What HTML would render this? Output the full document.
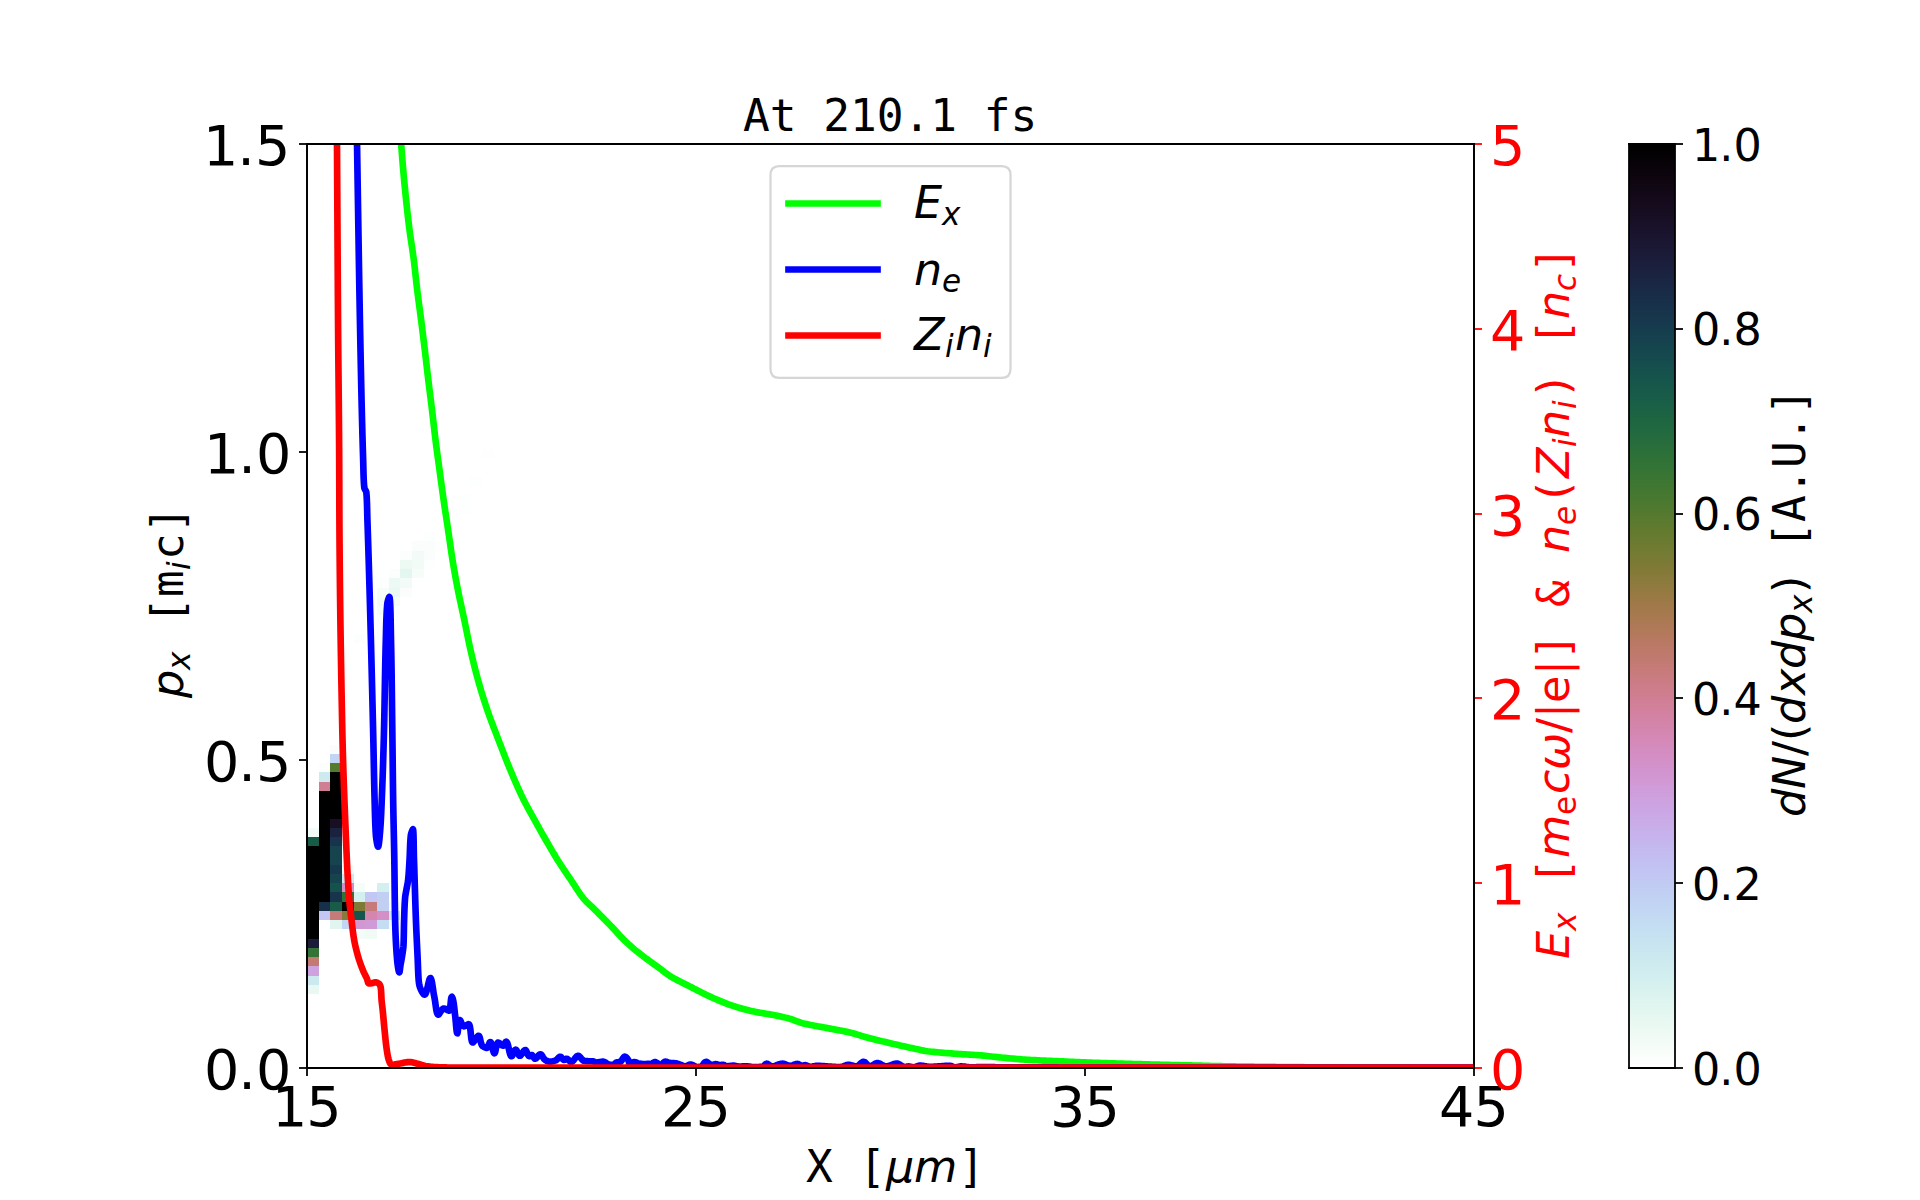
<!DOCTYPE html>
<html lang="en"><head><meta charset="utf-8"><title>At 210.1 fs</title>
<style>html,body{margin:0;padding:0;background:#fff;width:1920px;height:1200px;overflow:hidden}svg{display:block}text{white-space:pre}</style>
</head><body>
<svg width="1920" height="1200" viewBox="0 0 1920 1200">
<g transform="scale(2.2222222)">
<defs>
<style type="text/css">*{stroke-linejoin: round; stroke-linecap: butt}</style>
</defs>
<g id="figure_1">
<g id="patch_1">
<path d="M 0 540 L 864 540 L 864 0 L 0 0 z
" style="fill: #ffffff"/>
</g>
<g id="axes_1">
<g id="patch_2">
<path d="M 138.15 480.6 L 663.3 480.6 L 663.3 64.8 L 138.15 64.8 z
" style="fill: #ffffff"/>
</g>
<g shape-rendering="crispEdges" id="hm34_2">
<path d="M 148.653 339.228 L 153.905 339.228 L 153.905 335.07 L 148.653 335.07 z
" clip-path="url(#pf3e7a543b4)" style="fill: #fafdfb"/>
</g>
<g shape-rendering="crispEdges" id="hm33_2">
<path d="M 148.653 343.386 L 153.905 343.386 L 153.905 339.228 L 148.653 339.228 z
" clip-path="url(#pf3e7a543b4)" style="fill: #c2d6f3"/>
</g>
<g shape-rendering="crispEdges" id="hm32_1">
<path d="M 143.401 347.544 L 148.653 347.544 L 148.653 343.386 L 143.401 343.386 z
" clip-path="url(#pf3e7a543b4)" style="fill: #fbfefc"/>
</g>
<g shape-rendering="crispEdges" id="hm32_2">
<path d="M 148.653 347.544 L 153.905 347.544 L 153.905 343.386 L 148.653 343.386 z
" clip-path="url(#pf3e7a543b4)" style="fill: #54792f"/>
</g>
<g shape-rendering="crispEdges" id="hm31_1">
<path d="M 143.401 351.702 L 148.653 351.702 L 148.653 347.544 L 143.401 347.544 z
" clip-path="url(#pf3e7a543b4)" style="fill: #cdeaef"/>
</g>
<g shape-rendering="crispEdges" id="hm31_2">
<path d="M 148.653 351.702 L 153.905 351.702 L 153.905 347.544 L 148.653 347.544 z
" clip-path="url(#pf3e7a543b4)"/>
</g>
<g shape-rendering="crispEdges" id="hm30_1">
<path d="M 143.401 355.86 L 148.653 355.86 L 148.653 351.702 L 143.401 351.702 z
" clip-path="url(#pf3e7a543b4)" style="fill: #d07e93"/>
</g>
<g shape-rendering="crispEdges" id="hm30_2">
<path d="M 148.653 355.86 L 153.905 355.86 L 153.905 351.702 L 148.653 351.702 z
" clip-path="url(#pf3e7a543b4)"/>
</g>
<g shape-rendering="crispEdges" id="hm29_1">
<path d="M 143.401 360.018 L 148.653 360.018 L 148.653 355.86 L 143.401 355.86 z
" clip-path="url(#pf3e7a543b4)"/>
</g>
<g shape-rendering="crispEdges" id="hm29_2">
<path d="M 148.653 360.018 L 153.905 360.018 L 153.905 355.86 L 148.653 355.86 z
" clip-path="url(#pf3e7a543b4)"/>
</g>
<g shape-rendering="crispEdges" id="hm28_1">
<path d="M 143.401 364.176 L 148.653 364.176 L 148.653 360.018 L 143.401 360.018 z
" clip-path="url(#pf3e7a543b4)"/>
</g>
<g shape-rendering="crispEdges" id="hm28_2">
<path d="M 148.653 364.176 L 153.905 364.176 L 153.905 360.018 L 148.653 360.018 z
" clip-path="url(#pf3e7a543b4)"/>
</g>
<g shape-rendering="crispEdges" id="hm27_1">
<path d="M 143.401 368.334 L 148.653 368.334 L 148.653 364.176 L 143.401 364.176 z
" clip-path="url(#pf3e7a543b4)"/>
</g>
<g shape-rendering="crispEdges" id="hm27_2">
<path d="M 148.653 368.334 L 153.905 368.334 L 153.905 364.176 L 148.653 364.176 z
" clip-path="url(#pf3e7a543b4)"/>
</g>
<g shape-rendering="crispEdges" id="hm26_1">
<path d="M 143.401 372.492 L 148.653 372.492 L 148.653 368.334 L 143.401 368.334 z
" clip-path="url(#pf3e7a543b4)"/>
</g>
<g shape-rendering="crispEdges" id="hm26_2">
<path d="M 148.653 372.492 L 153.905 372.492 L 153.905 368.334 L 148.653 368.334 z
" clip-path="url(#pf3e7a543b4)" style="fill: #180f25"/>
</g>
<g shape-rendering="crispEdges" id="hm25_0">
<path d="M 138.15 376.65 L 143.401 376.65 L 143.401 372.492 L 138.15 372.492 z
" clip-path="url(#pf3e7a543b4)" style="fill: #f4fcf7"/>
</g>
<g shape-rendering="crispEdges" id="hm25_1">
<path d="M 143.401 376.65 L 148.653 376.65 L 148.653 372.492 L 143.401 372.492 z
" clip-path="url(#pf3e7a543b4)"/>
</g>
<g shape-rendering="crispEdges" id="hm25_2">
<path d="M 148.653 376.65 L 153.905 376.65 L 153.905 372.492 L 148.653 372.492 z
" clip-path="url(#pf3e7a543b4)" style="fill: #1a2240"/>
</g>
<g shape-rendering="crispEdges" id="hm24_0">
<path d="M 138.15 380.808 L 143.401 380.808 L 143.401 376.65 L 138.15 376.65 z
" clip-path="url(#pf3e7a543b4)" style="fill: #185b48"/>
</g>
<g shape-rendering="crispEdges" id="hm24_1">
<path d="M 143.401 380.808 L 148.653 380.808 L 148.653 376.65 L 143.401 376.65 z
" clip-path="url(#pf3e7a543b4)"/>
</g>
<g shape-rendering="crispEdges" id="hm24_2">
<path d="M 148.653 380.808 L 153.905 380.808 L 153.905 376.65 L 148.653 376.65 z
" clip-path="url(#pf3e7a543b4)" style="fill: #17344c"/>
</g>
<g shape-rendering="crispEdges" id="hm23_0">
<path d="M 138.15 384.966 L 143.401 384.966 L 143.401 380.808 L 138.15 380.808 z
" clip-path="url(#pf3e7a543b4)"/>
</g>
<g shape-rendering="crispEdges" id="hm23_1">
<path d="M 143.401 384.966 L 148.653 384.966 L 148.653 380.808 L 143.401 380.808 z
" clip-path="url(#pf3e7a543b4)"/>
</g>
<g shape-rendering="crispEdges" id="hm23_2">
<path d="M 148.653 384.966 L 153.905 384.966 L 153.905 380.808 L 148.653 380.808 z
" clip-path="url(#pf3e7a543b4)" style="fill: #15444f"/>
</g>
<g shape-rendering="crispEdges" id="hm22_0">
<path d="M 138.15 389.124 L 143.401 389.124 L 143.401 384.966 L 138.15 384.966 z
" clip-path="url(#pf3e7a543b4)"/>
</g>
<g shape-rendering="crispEdges" id="hm22_1">
<path d="M 143.401 389.124 L 148.653 389.124 L 148.653 384.966 L 143.401 384.966 z
" clip-path="url(#pf3e7a543b4)"/>
</g>
<g shape-rendering="crispEdges" id="hm22_2">
<path d="M 148.653 389.124 L 153.905 389.124 L 153.905 384.966 L 148.653 384.966 z
" clip-path="url(#pf3e7a543b4)" style="fill: #15444f"/>
</g>
<g shape-rendering="crispEdges" id="hm21_0">
<path d="M 138.15 393.282 L 143.401 393.282 L 143.401 389.124 L 138.15 389.124 z
" clip-path="url(#pf3e7a543b4)"/>
</g>
<g shape-rendering="crispEdges" id="hm21_1">
<path d="M 143.401 393.282 L 148.653 393.282 L 148.653 389.124 L 143.401 389.124 z
" clip-path="url(#pf3e7a543b4)"/>
</g>
<g shape-rendering="crispEdges" id="hm21_2">
<path d="M 148.653 393.282 L 153.905 393.282 L 153.905 389.124 L 148.653 389.124 z
" clip-path="url(#pf3e7a543b4)" style="fill: #17374d"/>
</g>
<g shape-rendering="crispEdges" id="hm21_3">
<path d="M 153.905 393.282 L 159.156 393.282 L 159.156 389.124 L 153.905 389.124 z
" clip-path="url(#pf3e7a543b4)" style="fill: #f2fbf6"/>
</g>
<g shape-rendering="crispEdges" id="hm20_0">
<path d="M 138.15 397.44 L 143.401 397.44 L 143.401 393.282 L 138.15 393.282 z
" clip-path="url(#pf3e7a543b4)"/>
</g>
<g shape-rendering="crispEdges" id="hm20_1">
<path d="M 143.401 397.44 L 148.653 397.44 L 148.653 393.282 L 143.401 393.282 z
" clip-path="url(#pf3e7a543b4)"/>
</g>
<g shape-rendering="crispEdges" id="hm20_2">
<path d="M 148.653 397.44 L 153.905 397.44 L 153.905 393.282 L 148.653 393.282 z
" clip-path="url(#pf3e7a543b4)" style="fill: #15444f"/>
</g>
<g shape-rendering="crispEdges" id="hm20_3">
<path d="M 153.905 397.44 L 159.156 397.44 L 159.156 393.282 L 153.905 393.282 z
" clip-path="url(#pf3e7a543b4)" style="fill: #cce9ef"/>
</g>
<g shape-rendering="crispEdges" id="hm19_0">
<path d="M 138.15 401.598 L 143.401 401.598 L 143.401 397.44 L 138.15 397.44 z
" clip-path="url(#pf3e7a543b4)"/>
</g>
<g shape-rendering="crispEdges" id="hm19_1">
<path d="M 143.401 401.598 L 148.653 401.598 L 148.653 397.44 L 143.401 397.44 z
" clip-path="url(#pf3e7a543b4)"/>
</g>
<g shape-rendering="crispEdges" id="hm19_2">
<path d="M 148.653 401.598 L 153.905 401.598 L 153.905 397.44 L 148.653 397.44 z
" clip-path="url(#pf3e7a543b4)" style="fill: #15524c"/>
</g>
<g shape-rendering="crispEdges" id="hm19_3">
<path d="M 153.905 401.598 L 159.156 401.598 L 159.156 397.44 L 153.905 397.44 z
" clip-path="url(#pf3e7a543b4)" style="fill: #d490c6"/>
</g>
<g shape-rendering="crispEdges" id="hm19_4">
<path d="M 159.156 401.598 L 164.407 401.598 L 164.407 397.44 L 159.156 397.44 z
" clip-path="url(#pf3e7a543b4)" style="fill: #f6fcf8"/>
</g>
<g shape-rendering="crispEdges" id="hm19_6">
<path d="M 169.659 401.598 L 174.911 401.598 L 174.911 397.44 L 169.659 397.44 z
" clip-path="url(#pf3e7a543b4)" style="fill: #d4efef"/>
</g>
<g shape-rendering="crispEdges" id="hm18_0">
<path d="M 138.15 405.756 L 143.401 405.756 L 143.401 401.598 L 138.15 401.598 z
" clip-path="url(#pf3e7a543b4)"/>
</g>
<g shape-rendering="crispEdges" id="hm18_1">
<path d="M 143.401 405.756 L 148.653 405.756 L 148.653 401.598 L 143.401 401.598 z
" clip-path="url(#pf3e7a543b4)"/>
</g>
<g shape-rendering="crispEdges" id="hm18_2">
<path d="M 148.653 405.756 L 153.905 405.756 L 153.905 401.598 L 148.653 401.598 z
" clip-path="url(#pf3e7a543b4)" style="fill: #17344c"/>
</g>
<g shape-rendering="crispEdges" id="hm18_3">
<path d="M 153.905 405.756 L 159.156 405.756 L 159.156 401.598 L 153.905 401.598 z
" clip-path="url(#pf3e7a543b4)" style="fill: #317236"/>
</g>
<g shape-rendering="crispEdges" id="hm18_4">
<path d="M 159.156 405.756 L 164.407 405.756 L 164.407 401.598 L 159.156 401.598 z
" clip-path="url(#pf3e7a543b4)" style="fill: #d4efef"/>
</g>
<g shape-rendering="crispEdges" id="hm18_5">
<path d="M 164.407 405.756 L 169.659 405.756 L 169.659 401.598 L 164.407 401.598 z
" clip-path="url(#pf3e7a543b4)" style="fill: #c2c8f3"/>
</g>
<g shape-rendering="crispEdges" id="hm18_6">
<path d="M 169.659 405.756 L 174.911 405.756 L 174.911 401.598 L 169.659 401.598 z
" clip-path="url(#pf3e7a543b4)" style="fill: #c1cff3"/>
</g>
<g shape-rendering="crispEdges" id="hm17_0">
<path d="M 138.15 409.914 L 143.401 409.914 L 143.401 405.756 L 138.15 405.756 z
" clip-path="url(#pf3e7a543b4)"/>
</g>
<g shape-rendering="crispEdges" id="hm17_1">
<path d="M 143.401 409.914 L 148.653 409.914 L 148.653 405.756 L 143.401 405.756 z
" clip-path="url(#pf3e7a543b4)" style="fill: #182f49"/>
</g>
<g shape-rendering="crispEdges" id="hm17_2">
<path d="M 148.653 409.914 L 153.905 409.914 L 153.905 405.756 L 148.653 405.756 z
" clip-path="url(#pf3e7a543b4)" style="fill: #185b48"/>
</g>
<g shape-rendering="crispEdges" id="hm17_3">
<path d="M 153.905 409.914 L 159.156 409.914 L 159.156 405.756 L 153.905 405.756 z
" clip-path="url(#pf3e7a543b4)"/>
</g>
<g shape-rendering="crispEdges" id="hm17_4">
<path d="M 159.156 409.914 L 164.407 409.914 L 164.407 405.756 L 159.156 405.756 z
" clip-path="url(#pf3e7a543b4)" style="fill: #7e7a36"/>
</g>
<g shape-rendering="crispEdges" id="hm17_5">
<path d="M 164.407 409.914 L 169.659 409.914 L 169.659 405.756 L 164.407 405.756 z
" clip-path="url(#pf3e7a543b4)" style="fill: #c67a79"/>
</g>
<g shape-rendering="crispEdges" id="hm17_6">
<path d="M 169.659 409.914 L 174.911 409.914 L 174.911 405.756 L 169.659 405.756 z
" clip-path="url(#pf3e7a543b4)" style="fill: #c1cff3"/>
</g>
<g shape-rendering="crispEdges" id="hm17_7">
<path d="M 174.911 409.914 L 180.162 409.914 L 180.162 405.756 L 174.911 405.756 z
" clip-path="url(#pf3e7a543b4)" style="fill: #f6fcf8"/>
</g>
<g shape-rendering="crispEdges" id="hm16_0">
<path d="M 138.15 414.072 L 143.401 414.072 L 143.401 409.914 L 138.15 409.914 z
" clip-path="url(#pf3e7a543b4)"/>
</g>
<g shape-rendering="crispEdges" id="hm16_1">
<path d="M 143.401 414.072 L 148.653 414.072 L 148.653 409.914 L 143.401 409.914 z
" clip-path="url(#pf3e7a543b4)" style="fill: #c2c8f3"/>
</g>
<g shape-rendering="crispEdges" id="hm16_2">
<path d="M 148.653 414.072 L 153.905 414.072 L 153.905 409.914 L 148.653 409.914 z
" clip-path="url(#pf3e7a543b4)" style="fill: #c67a79"/>
</g>
<g shape-rendering="crispEdges" id="hm16_3">
<path d="M 153.905 414.072 L 159.156 414.072 L 159.156 409.914 L 153.905 409.914 z
" clip-path="url(#pf3e7a543b4)" style="fill: #8a7a3b"/>
</g>
<g shape-rendering="crispEdges" id="hm16_4">
<path d="M 159.156 414.072 L 164.407 414.072 L 164.407 409.914 L 159.156 409.914 z
" clip-path="url(#pf3e7a543b4)" style="fill: #16554b"/>
</g>
<g shape-rendering="crispEdges" id="hm16_5">
<path d="M 164.407 414.072 L 169.659 414.072 L 169.659 409.914 L 164.407 409.914 z
" clip-path="url(#pf3e7a543b4)" style="fill: #d486af"/>
</g>
<g shape-rendering="crispEdges" id="hm16_6">
<path d="M 169.659 414.072 L 174.911 414.072 L 174.911 409.914 L 169.659 409.914 z
" clip-path="url(#pf3e7a543b4)" style="fill: #d490c6"/>
</g>
<g shape-rendering="crispEdges" id="hm16_7">
<path d="M 174.911 414.072 L 180.162 414.072 L 180.162 409.914 L 174.911 409.914 z
" clip-path="url(#pf3e7a543b4)" style="fill: #cce9ef"/>
</g>
<g shape-rendering="crispEdges" id="hm15_0">
<path d="M 138.15 418.23 L 143.401 418.23 L 143.401 414.072 L 138.15 414.072 z
" clip-path="url(#pf3e7a543b4)"/>
</g>
<g shape-rendering="crispEdges" id="hm15_2">
<path d="M 148.653 418.23 L 153.905 418.23 L 153.905 414.072 L 148.653 414.072 z
" clip-path="url(#pf3e7a543b4)" style="fill: #e0f5f0"/>
</g>
<g shape-rendering="crispEdges" id="hm15_3">
<path d="M 153.905 418.23 L 159.156 418.23 L 159.156 414.072 L 153.905 414.072 z
" clip-path="url(#pf3e7a543b4)" style="fill: #c2d6f3"/>
</g>
<g shape-rendering="crispEdges" id="hm15_4">
<path d="M 159.156 418.23 L 164.407 418.23 L 164.407 414.072 L 159.156 414.072 z
" clip-path="url(#pf3e7a543b4)" style="fill: #d297d2"/>
</g>
<g shape-rendering="crispEdges" id="hm15_5">
<path d="M 164.407 418.23 L 169.659 418.23 L 169.659 414.072 L 164.407 414.072 z
" clip-path="url(#pf3e7a543b4)" style="fill: #d09ad7"/>
</g>
<g shape-rendering="crispEdges" id="hm15_6">
<path d="M 169.659 418.23 L 174.911 418.23 L 174.911 414.072 L 169.659 414.072 z
" clip-path="url(#pf3e7a543b4)" style="fill: #c4ddf2"/>
</g>
<g shape-rendering="crispEdges" id="hm15_7">
<path d="M 174.911 418.23 L 180.162 418.23 L 180.162 414.072 L 174.911 414.072 z
" clip-path="url(#pf3e7a543b4)" style="fill: #f6fcf8"/>
</g>
<g shape-rendering="crispEdges" id="hm14_0">
<path d="M 138.15 422.388 L 143.401 422.388 L 143.401 418.23 L 138.15 418.23 z
" clip-path="url(#pf3e7a543b4)"/>
</g>
<g shape-rendering="crispEdges" id="hm14_4">
<path d="M 159.156 422.388 L 164.407 422.388 L 164.407 418.23 L 159.156 418.23 z
" clip-path="url(#pf3e7a543b4)" style="fill: #f4fcf7"/>
</g>
<g shape-rendering="crispEdges" id="hm14_5">
<path d="M 164.407 422.388 L 169.659 422.388 L 169.659 418.23 L 164.407 418.23 z
" clip-path="url(#pf3e7a543b4)" style="fill: #f0fbf5"/>
</g>
<g shape-rendering="crispEdges" id="hm13_0">
<path d="M 138.15 426.546 L 143.401 426.546 L 143.401 422.388 L 138.15 422.388 z
" clip-path="url(#pf3e7a543b4)" style="fill: #1b1c3a"/>
</g>
<g shape-rendering="crispEdges" id="hm12_0">
<path d="M 138.15 430.704 L 143.401 430.704 L 143.401 426.546 L 138.15 426.546 z
" clip-path="url(#pf3e7a543b4)" style="fill: #337335"/>
</g>
<g shape-rendering="crispEdges" id="hm11_0">
<path d="M 138.15 434.862 L 143.401 434.862 L 143.401 430.704 L 138.15 430.704 z
" clip-path="url(#pf3e7a543b4)" style="fill: #c37a73"/>
</g>
<g shape-rendering="crispEdges" id="hm10_0">
<path d="M 138.15 439.02 L 143.401 439.02 L 143.401 434.862 L 138.15 434.862 z
" clip-path="url(#pf3e7a543b4)" style="fill: #cea1df"/>
</g>
<g shape-rendering="crispEdges" id="hm9_0">
<path d="M 138.15 443.178 L 143.401 443.178 L 143.401 439.02 L 138.15 439.02 z
" clip-path="url(#pf3e7a543b4)" style="fill: #cce9ef"/>
</g>
<g shape-rendering="crispEdges" id="hm8_0">
<path d="M 138.15 447.336 L 143.401 447.336 L 143.401 443.178 L 138.15 443.178 z
" clip-path="url(#pf3e7a543b4)" style="fill: #e9f8f2"/>
</g>
<g shape-rendering="crispEdges" id="hm66_15">
<path d="M 216.923 206.172 L 222.174 206.172 L 222.174 202.014 L 216.923 202.014 z
" clip-path="url(#pf3e7a543b4)" style="fill: #fdfefe"/>
</g>
<g shape-rendering="crispEdges" id="hm63_14">
<path d="M 211.671 218.646 L 216.923 218.646 L 216.923 214.488 L 211.671 214.488 z
" clip-path="url(#pf3e7a543b4)" style="fill: #fdfefe"/>
</g>
<g shape-rendering="crispEdges" id="hm61_13">
<path d="M 206.419 226.962 L 211.671 226.962 L 211.671 222.804 L 206.419 222.804 z
" clip-path="url(#pf3e7a543b4)" style="fill: #fdfefe"/>
</g>
<g shape-rendering="crispEdges" id="hm60_13">
<path d="M 206.419 231.12 L 211.671 231.12 L 211.671 226.962 L 206.419 226.962 z
" clip-path="url(#pf3e7a543b4)" style="fill: #fdfefe"/>
</g>
<g shape-rendering="crispEdges" id="hm59_12">
<path d="M 201.168 235.278 L 206.419 235.278 L 206.419 231.12 L 201.168 231.12 z
" clip-path="url(#pf3e7a543b4)" style="fill: #fdfefe"/>
</g>
<g shape-rendering="crispEdges" id="hm58_12">
<path d="M 201.168 239.436 L 206.419 239.436 L 206.419 235.278 L 201.168 235.278 z
" clip-path="url(#pf3e7a543b4)" style="fill: #ffffff"/>
</g>
<g shape-rendering="crispEdges" id="hm57_10">
<path d="M 190.665 243.594 L 195.917 243.594 L 195.917 239.436 L 190.665 239.436 z
" clip-path="url(#pf3e7a543b4)" style="fill: #fdfefe"/>
</g>
<g shape-rendering="crispEdges" id="hm57_11">
<path d="M 195.917 243.594 L 201.168 243.594 L 201.168 239.436 L 195.917 239.436 z
" clip-path="url(#pf3e7a543b4)" style="fill: #ffffff"/>
</g>
<g shape-rendering="crispEdges" id="hm56_9">
<path d="M 185.413 247.752 L 190.665 247.752 L 190.665 243.594 L 185.413 243.594 z
" clip-path="url(#pf3e7a543b4)" style="fill: #fafdfb"/>
</g>
<g shape-rendering="crispEdges" id="hm56_10">
<path d="M 190.665 247.752 L 195.917 247.752 L 195.917 243.594 L 190.665 243.594 z
" clip-path="url(#pf3e7a543b4)" style="fill: #fafdfb"/>
</g>
<g shape-rendering="crispEdges" id="hm56_11">
<path d="M 195.917 247.752 L 201.168 247.752 L 201.168 243.594 L 195.917 243.594 z
" clip-path="url(#pf3e7a543b4)" style="fill: #fdfefe"/>
</g>
<g shape-rendering="crispEdges" id="hm55_8">
<path d="M 180.162 251.91 L 185.413 251.91 L 185.413 247.752 L 180.162 247.752 z
" clip-path="url(#pf3e7a543b4)" style="fill: #fbfefc"/>
</g>
<g shape-rendering="crispEdges" id="hm55_9">
<path d="M 185.413 251.91 L 190.665 251.91 L 190.665 247.752 L 185.413 247.752 z
" clip-path="url(#pf3e7a543b4)" style="fill: #f2fbf6"/>
</g>
<g shape-rendering="crispEdges" id="hm55_10">
<path d="M 190.665 251.91 L 195.917 251.91 L 195.917 247.752 L 190.665 247.752 z
" clip-path="url(#pf3e7a543b4)" style="fill: #fafdfb"/>
</g>
<g shape-rendering="crispEdges" id="hm54_8">
<path d="M 180.162 256.068 L 185.413 256.068 L 185.413 251.91 L 180.162 251.91 z
" clip-path="url(#pf3e7a543b4)" style="fill: #edfaf4"/>
</g>
<g shape-rendering="crispEdges" id="hm54_9">
<path d="M 185.413 256.068 L 190.665 256.068 L 190.665 251.91 L 185.413 251.91 z
" clip-path="url(#pf3e7a543b4)" style="fill: #f2fbf6"/>
</g>
<g shape-rendering="crispEdges" id="hm54_10">
<path d="M 190.665 256.068 L 195.917 256.068 L 195.917 251.91 L 190.665 251.91 z
" clip-path="url(#pf3e7a543b4)" style="fill: #fdfefe"/>
</g>
<g shape-rendering="crispEdges" id="hm53_7">
<path d="M 174.911 260.226 L 180.162 260.226 L 180.162 256.068 L 174.911 256.068 z
" clip-path="url(#pf3e7a543b4)" style="fill: #fbfefc"/>
</g>
<g shape-rendering="crispEdges" id="hm53_8">
<path d="M 180.162 260.226 L 185.413 260.226 L 185.413 256.068 L 180.162 256.068 z
" clip-path="url(#pf3e7a543b4)" style="fill: #e3f6f0"/>
</g>
<g shape-rendering="crispEdges" id="hm53_9">
<path d="M 185.413 260.226 L 190.665 260.226 L 190.665 256.068 L 185.413 256.068 z
" clip-path="url(#pf3e7a543b4)" style="fill: #f6fcf8"/>
</g>
<g shape-rendering="crispEdges" id="hm52_6">
<path d="M 169.659 264.384 L 174.911 264.384 L 174.911 260.226 L 169.659 260.226 z
" clip-path="url(#pf3e7a543b4)" style="fill: #fdfefe"/>
</g>
<g shape-rendering="crispEdges" id="hm52_7">
<path d="M 174.911 264.384 L 180.162 264.384 L 180.162 260.226 L 174.911 260.226 z
" clip-path="url(#pf3e7a543b4)" style="fill: #edfaf4"/>
</g>
<g shape-rendering="crispEdges" id="hm52_8">
<path d="M 180.162 264.384 L 185.413 264.384 L 185.413 260.226 L 180.162 260.226 z
" clip-path="url(#pf3e7a543b4)" style="fill: #f2fbf6"/>
</g>
<g shape-rendering="crispEdges" id="hm51_6">
<path d="M 169.659 268.542 L 174.911 268.542 L 174.911 264.384 L 169.659 264.384 z
" clip-path="url(#pf3e7a543b4)" style="fill: #f6fcf8"/>
</g>
<g shape-rendering="crispEdges" id="hm51_7">
<path d="M 174.911 268.542 L 180.162 268.542 L 180.162 264.384 L 174.911 264.384 z
" clip-path="url(#pf3e7a543b4)" style="fill: #e9f8f2"/>
</g>
<g shape-rendering="crispEdges" id="hm51_8">
<path d="M 180.162 268.542 L 185.413 268.542 L 185.413 264.384 L 180.162 264.384 z
" clip-path="url(#pf3e7a543b4)" style="fill: #fafdfb"/>
</g>
<g shape-rendering="crispEdges" id="hm50_6">
<path d="M 169.659 272.7 L 174.911 272.7 L 174.911 268.542 L 169.659 268.542 z
" clip-path="url(#pf3e7a543b4)" style="fill: #f2fbf6"/>
</g>
<g shape-rendering="crispEdges" id="hm50_7">
<path d="M 174.911 272.7 L 180.162 272.7 L 180.162 268.542 L 174.911 268.542 z
" clip-path="url(#pf3e7a543b4)" style="fill: #f2fbf6"/>
</g>
<g shape-rendering="crispEdges" id="hm49_6">
<path d="M 169.659 276.858 L 174.911 276.858 L 174.911 272.7 L 169.659 272.7 z
" clip-path="url(#pf3e7a543b4)" style="fill: #f6fcf8"/>
</g>
<g shape-rendering="crispEdges" id="hm49_7">
<path d="M 174.911 276.858 L 180.162 276.858 L 180.162 272.7 L 174.911 272.7 z
" clip-path="url(#pf3e7a543b4)" style="fill: #fbfefc"/>
</g>
<g shape-rendering="crispEdges" id="hm48_6">
<path d="M 169.659 281.016 L 174.911 281.016 L 174.911 276.858 L 169.659 276.858 z
" clip-path="url(#pf3e7a543b4)" style="fill: #fbfefc"/>
</g>
<g shape-rendering="crispEdges" id="hm46_4">
<path d="M 159.156 289.332 L 164.407 289.332 L 164.407 285.174 L 159.156 285.174 z
" clip-path="url(#pf3e7a543b4)" style="fill: #fbfefc"/>
</g>
<g id="matplotlib.axis_1">
<g id="xtick_1">
<g id="line2d_1">
<defs>
<path id="m2e982d8aa2" d="M 0 0 L 0 3.6 " style="stroke: #000000; stroke-width: 0.8"/>
</defs>
<g>
<use href="#m2e982d8aa2" x="138.15" y="480.6" style="stroke: #000000; stroke-width: 0.8"/>
</g>
</g>
<g id="text_1"/>
</g>
<g id="xtick_2">
<g id="line2d_2">
<g>
<use href="#m2e982d8aa2" x="313.2" y="480.6" style="stroke: #000000; stroke-width: 0.8"/>
</g>
</g>
<g id="text_2"/>
</g>
<g id="xtick_3">
<g id="line2d_3">
<g>
<use href="#m2e982d8aa2" x="488.25" y="480.6" style="stroke: #000000; stroke-width: 0.8"/>
</g>
</g>
<g id="text_3"/>
</g>
<g id="xtick_4">
<g id="line2d_4">
<g>
<use href="#m2e982d8aa2" x="663.3" y="480.6" style="stroke: #000000; stroke-width: 0.8"/>
</g>
</g>
<g id="text_4"/>
</g>
<g id="text_5"/>
</g>
<g id="matplotlib.axis_2">
<g id="ytick_1">
<g id="line2d_5">
<defs>
<path id="m8d8a479f73" d="M 0 0 L -3.6 0 " style="stroke: #000000; stroke-width: 0.8"/>
</defs>
<g>
<use href="#m8d8a479f73" x="138.15" y="480.6" style="stroke: #000000; stroke-width: 0.8"/>
</g>
</g>
<g id="text_6"/>
</g>
<g id="ytick_2">
<g id="line2d_6">
<g>
<use href="#m8d8a479f73" x="138.15" y="342" style="stroke: #000000; stroke-width: 0.8"/>
</g>
</g>
<g id="text_7"/>
</g>
<g id="ytick_3">
<g id="line2d_7">
<g>
<use href="#m8d8a479f73" x="138.15" y="203.4" style="stroke: #000000; stroke-width: 0.8"/>
</g>
</g>
<g id="text_8"/>
</g>
<g id="ytick_4">
<g id="line2d_8">
<g>
<use href="#m8d8a479f73" x="138.15" y="64.8" style="stroke: #000000; stroke-width: 0.8"/>
</g>
</g>
<g id="text_9"/>
</g>
<g id="text_10"/>
</g>
<g id="patch_3">
<path d="M 138.15 480.6 L 138.15 64.8 " style="fill: none; stroke: #000000; stroke-width: 0.8; stroke-linejoin: miter; stroke-linecap: square"/>
</g>
<g id="patch_4">
<path d="M 663.3 480.6 L 663.3 64.8 " style="fill: none; stroke: #000000; stroke-width: 0.8; stroke-linejoin: miter; stroke-linecap: square"/>
</g>
<g id="patch_5">
<path d="M 138.15 480.6 L 663.3 480.6 " style="fill: none; stroke: #000000; stroke-width: 0.8; stroke-linejoin: miter; stroke-linecap: square"/>
</g>
<g id="patch_6">
<path d="M 138.15 64.8 L 663.3 64.8 " style="fill: none; stroke: #000000; stroke-width: 0.8; stroke-linejoin: miter; stroke-linecap: square"/>
</g>
<g id="text_11"/>
</g>
<g id="axes_2">
<g id="matplotlib.axis_3">
<g id="ytick_5">
<g id="line2d_9">
<defs>
<path id="m03d8bccbcf" d="M 0 0 L 3.6 0 " style="stroke: #ff0000; stroke-width: 0.8"/>
</defs>
<g>
<use href="#m03d8bccbcf" x="663.3" y="480.6" style="fill: #ff0000; stroke: #ff0000; stroke-width: 0.8"/>
</g>
</g>
<g id="text_12"/>
</g>
<g id="ytick_6">
<g id="line2d_10">
<g>
<use href="#m03d8bccbcf" x="663.3" y="397.35" style="fill: #ff0000; stroke: #ff0000; stroke-width: 0.8"/>
</g>
</g>
<g id="text_13"/>
</g>
<g id="ytick_7">
<g id="line2d_11">
<g>
<use href="#m03d8bccbcf" x="663.3" y="314.1" style="fill: #ff0000; stroke: #ff0000; stroke-width: 0.8"/>
</g>
</g>
<g id="text_14"/>
</g>
<g id="ytick_8">
<g id="line2d_12">
<g>
<use href="#m03d8bccbcf" x="663.3" y="231.3" style="fill: #ff0000; stroke: #ff0000; stroke-width: 0.8"/>
</g>
</g>
<g id="text_15"/>
</g>
<g id="ytick_9">
<g id="line2d_13">
<g>
<use href="#m03d8bccbcf" x="663.3" y="148.05" style="fill: #ff0000; stroke: #ff0000; stroke-width: 0.8"/>
</g>
</g>
<g id="text_16"/>
</g>
<g id="ytick_10">
<g id="line2d_14">
<g>
<use href="#m03d8bccbcf" x="663.3" y="64.8" style="fill: #ff0000; stroke: #ff0000; stroke-width: 0.8"/>
</g>
</g>
<g id="text_17"/>
</g>
<g id="text_18"/>
</g>
<g id="line2d_15">
<path d="M 178.927 45 L 178.999 45.897 L 179.071 46.794 L 179.142 47.691 L 179.214 48.589 L 179.286 49.486 L 179.358 50.383 L 179.429 51.28 L 179.501 52.177 L 179.573 53.074 L 179.645 53.971 L 179.717 54.868 L 179.788 55.766 L 179.86 56.663 L 179.932 57.56 L 180.004 58.457 L 180.076 59.354 L 180.147 60.251 L 180.219 61.148 L 180.291 62.046 L 180.363 62.943 L 180.434 63.84 L 180.506 64.737 L 180.578 65.634 L 180.649 66.531 L 180.719 67.429 L 180.789 68.326 L 180.859 69.223 L 180.928 70.121 L 180.998 71.018 L 181.069 71.915 L 181.14 72.812 L 181.213 73.709 L 181.286 74.606 L 181.362 75.503 L 181.439 76.4 L 181.517 77.296 L 181.598 78.193 L 181.679 79.089 L 181.761 79.985 L 181.845 80.881 L 181.93 81.777 L 182.015 82.673 L 182.102 83.569 L 182.19 84.465 L 182.279 85.361 L 182.369 86.256 L 182.459 87.152 L 182.551 88.047 L 182.643 88.942 L 182.736 89.837 L 182.829 90.732 L 182.924 91.627 L 183.019 92.522 L 183.114 93.417 L 183.211 94.312 L 183.309 95.207 L 183.408 96.102 L 183.508 96.996 L 183.609 97.891 L 183.712 98.785 L 183.817 99.679 L 183.923 100.573 L 184.031 101.466 L 184.14 102.359 L 184.252 103.252 L 184.366 104.144 L 184.486 105.036 L 184.61 105.928 L 184.737 106.819 L 184.868 107.709 L 185.001 108.599 L 185.135 109.49 L 185.27 110.38 L 185.405 111.27 L 185.539 112.16 L 185.671 113.05 L 185.801 113.941 L 185.928 114.832 L 186.051 115.723 L 186.169 116.615 L 186.282 117.508 L 186.391 118.401 L 186.497 119.295 L 186.6 120.189 L 186.701 121.083 L 186.8 121.978 L 186.897 122.872 L 186.994 123.767 L 187.091 124.662 L 187.188 125.557 L 187.285 126.452 L 187.384 127.347 L 187.484 128.241 L 187.587 129.135 L 187.692 130.029 L 187.8 130.922 L 187.91 131.816 L 188.023 132.708 L 188.137 133.601 L 188.253 134.494 L 188.37 135.386 L 188.488 136.278 L 188.606 137.171 L 188.725 138.063 L 188.844 138.955 L 188.963 139.847 L 189.081 140.739 L 189.198 141.632 L 189.315 142.524 L 189.43 143.417 L 189.543 144.31 L 189.656 145.202 L 189.768 146.095 L 189.88 146.988 L 189.992 147.881 L 190.103 148.775 L 190.214 149.668 L 190.324 150.561 L 190.434 151.454 L 190.544 152.347 L 190.654 153.241 L 190.762 154.134 L 190.871 155.028 L 190.979 155.921 L 191.087 156.815 L 191.194 157.708 L 191.3 158.602 L 191.406 159.496 L 191.51 160.39 L 191.614 161.284 L 191.718 162.178 L 191.821 163.072 L 191.924 163.966 L 192.027 164.86 L 192.13 165.754 L 192.233 166.648 L 192.337 167.542 L 192.441 168.436 L 192.546 169.33 L 192.652 170.224 L 192.758 171.117 L 192.866 172.011 L 192.975 172.904 L 193.085 173.797 L 193.195 174.691 L 193.306 175.584 L 193.418 176.477 L 193.529 177.37 L 193.641 178.263 L 193.753 179.156 L 193.864 180.049 L 193.975 180.942 L 194.085 181.836 L 194.195 182.729 L 194.304 183.622 L 194.412 184.516 L 194.518 185.409 L 194.623 186.303 L 194.727 187.197 L 194.83 188.091 L 194.932 188.986 L 195.034 189.88 L 195.135 190.774 L 195.237 191.668 L 195.34 192.563 L 195.443 193.457 L 195.546 194.351 L 195.651 195.245 L 195.758 196.138 L 195.866 197.032 L 195.976 197.925 L 196.087 198.818 L 196.201 199.711 L 196.316 200.603 L 196.433 201.496 L 196.551 202.388 L 196.67 203.28 L 196.789 204.172 L 196.91 205.064 L 197.031 205.956 L 197.152 206.848 L 197.274 207.739 L 197.395 208.631 L 197.517 209.523 L 197.638 210.415 L 197.759 211.307 L 197.879 212.199 L 197.999 213.09 L 198.119 213.982 L 198.239 214.874 L 198.359 215.766 L 198.479 216.658 L 198.6 217.55 L 198.72 218.442 L 198.842 219.334 L 198.963 220.226 L 199.086 221.117 L 199.209 222.009 L 199.334 222.9 L 199.459 223.792 L 199.585 224.683 L 199.713 225.573 L 199.842 226.464 L 199.973 227.354 L 200.105 228.245 L 200.238 229.135 L 200.373 230.025 L 200.507 230.915 L 200.643 231.804 L 200.778 232.694 L 200.914 233.584 L 201.049 234.474 L 201.185 235.363 L 201.319 236.253 L 201.453 237.143 L 201.587 238.033 L 201.719 238.924 L 201.849 239.814 L 201.977 240.705 L 202.105 241.596 L 202.232 242.487 L 202.358 243.379 L 202.484 244.27 L 202.611 245.161 L 202.738 246.052 L 202.867 246.943 L 202.997 247.834 L 203.129 248.724 L 203.263 249.614 L 203.399 250.503 L 203.539 251.392 L 203.682 252.28 L 203.827 253.168 L 203.975 254.056 L 204.125 254.943 L 204.278 255.83 L 204.432 256.717 L 204.589 257.603 L 204.748 258.49 L 204.908 259.375 L 205.071 260.261 L 205.235 261.146 L 205.401 262.031 L 205.568 262.915 L 205.737 263.799 L 205.908 264.683 L 206.079 265.566 L 206.254 266.448 L 206.433 267.33 L 206.615 268.211 L 206.8 269.092 L 206.988 269.972 L 207.178 270.852 L 207.369 271.731 L 207.561 272.611 L 207.754 273.49 L 207.947 274.369 L 208.14 275.249 L 208.332 276.128 L 208.522 277.008 L 208.711 277.888 L 208.898 278.768 L 209.083 279.649 L 209.264 280.531 L 209.444 281.413 L 209.623 282.295 L 209.8 283.178 L 209.976 284.061 L 210.153 284.943 L 210.33 285.826 L 210.508 286.708 L 210.688 287.59 L 210.869 288.472 L 211.053 289.353 L 211.239 290.233 L 211.429 291.112 L 211.623 291.991 L 211.821 292.868 L 212.022 293.745 L 212.225 294.622 L 212.431 295.498 L 212.639 296.374 L 212.849 297.25 L 213.062 298.125 L 213.278 298.999 L 213.496 299.873 L 213.717 300.746 L 213.941 301.618 L 214.168 302.489 L 214.397 303.359 L 214.63 304.229 L 214.865 305.097 L 215.103 305.964 L 215.345 306.83 L 215.591 307.695 L 215.84 308.56 L 216.093 309.424 L 216.349 310.287 L 216.609 311.149 L 216.873 312.01 L 217.139 312.871 L 217.409 313.73 L 217.681 314.589 L 217.956 315.446 L 218.234 316.302 L 218.515 317.158 L 218.799 318.012 L 219.084 318.865 L 219.372 319.716 L 219.665 320.566 L 219.963 321.415 L 220.265 322.262 L 220.572 323.108 L 220.883 323.953 L 221.196 324.796 L 221.513 325.639 L 221.832 326.481 L 222.153 327.322 L 222.476 328.163 L 222.799 329.004 L 223.123 329.844 L 223.448 330.684 L 223.772 331.524 L 224.096 332.364 L 224.418 333.204 L 224.74 334.045 L 225.061 334.885 L 225.383 335.726 L 225.706 336.566 L 226.029 337.407 L 226.353 338.247 L 226.678 339.086 L 227.004 339.926 L 227.332 340.764 L 227.662 341.601 L 227.994 342.438 L 228.329 343.274 L 228.666 344.108 L 229.005 344.941 L 229.348 345.773 L 229.694 346.603 L 230.042 347.433 L 230.391 348.262 L 230.742 349.092 L 231.094 349.92 L 231.449 350.748 L 231.806 351.576 L 232.166 352.402 L 232.528 353.227 L 232.894 354.05 L 233.263 354.872 L 233.636 355.692 L 234.012 356.509 L 234.392 357.325 L 234.777 358.138 L 235.167 358.948 L 235.561 359.755 L 235.961 360.559 L 236.371 361.358 L 236.79 362.154 L 237.215 362.947 L 237.647 363.737 L 238.083 364.525 L 238.522 365.312 L 238.963 366.098 L 239.405 366.883 L 239.846 367.668 L 240.285 368.455 L 240.721 369.242 L 241.157 370.03 L 241.592 370.817 L 242.029 371.605 L 242.466 372.391 L 242.903 373.178 L 243.342 373.964 L 243.782 374.749 L 244.224 375.533 L 244.667 376.316 L 245.112 377.099 L 245.559 377.88 L 246.008 378.66 L 246.456 379.441 L 246.905 380.221 L 247.355 381.001 L 247.807 381.78 L 248.261 382.558 L 248.717 383.334 L 249.176 384.108 L 249.639 384.88 L 250.105 385.65 L 250.576 386.416 L 251.052 387.179 L 251.533 387.939 L 252.019 388.696 L 252.51 389.45 L 253.005 390.201 L 253.503 390.951 L 254.005 391.699 L 254.508 392.446 L 255.013 393.191 L 255.52 393.936 L 256.027 394.68 L 256.533 395.424 L 257.039 396.168 L 257.54 396.919 L 258.035 397.675 L 258.527 398.436 L 259.018 399.198 L 259.51 399.959 L 260.007 400.716 L 260.511 401.466 L 261.023 402.208 L 261.546 402.938 L 262.084 403.653 L 262.637 404.352 L 263.209 405.032 L 263.815 405.686 L 264.455 406.315 L 265.116 406.93 L 265.786 407.539 L 266.451 408.153 L 267.099 408.779 L 267.739 409.412 L 268.377 410.047 L 269.013 410.684 L 269.648 411.322 L 270.281 411.962 L 270.913 412.603 L 271.544 413.244 L 272.175 413.887 L 272.805 414.529 L 273.436 415.172 L 274.067 415.814 L 274.696 416.458 L 275.321 417.105 L 275.94 417.758 L 276.548 418.422 L 277.146 419.096 L 277.742 419.771 L 278.345 420.44 L 278.962 421.093 L 279.591 421.736 L 280.226 422.374 L 280.867 423.007 L 281.515 423.634 L 282.168 424.256 L 282.828 424.87 L 283.493 425.477 L 284.164 426.076 L 284.841 426.667 L 285.525 427.248 L 286.219 427.819 L 286.922 428.381 L 287.63 428.937 L 288.344 429.488 L 289.061 430.034 L 289.78 430.577 L 290.5 431.119 L 291.218 431.661 L 291.94 432.198 L 292.666 432.731 L 293.394 433.26 L 294.124 433.787 L 294.854 434.313 L 295.584 434.84 L 296.313 435.369 L 297.039 435.9 L 297.759 436.444 L 298.473 436.997 L 299.187 437.55 L 299.906 438.094 L 300.635 438.62 L 301.378 439.117 L 302.138 439.587 L 302.91 440.041 L 303.692 440.481 L 304.483 440.909 L 305.281 441.328 L 306.085 441.74 L 306.892 442.146 L 307.7 442.549 L 308.509 442.952 L 309.317 443.355 L 310.122 443.762 L 310.922 444.174 L 311.722 444.587 L 312.522 445.001 L 313.322 445.415 L 314.123 445.827 L 314.926 446.237 L 315.73 446.643 L 316.536 447.044 L 317.344 447.439 L 318.155 447.828 L 318.969 448.209 L 319.787 448.582 L 320.607 448.953 L 321.429 449.321 L 322.254 449.687 L 323.081 450.047 L 323.91 450.402 L 324.742 450.75 L 325.577 451.089 L 326.415 451.418 L 327.256 451.735 L 328.1 452.041 L 328.948 452.334 L 329.8 452.621 L 330.655 452.902 L 331.514 453.177 L 332.376 453.445 L 333.24 453.704 L 334.107 453.954 L 334.976 454.195 L 335.847 454.425 L 336.719 454.643 L 337.593 454.849 L 338.469 455.042 L 339.348 455.224 L 340.23 455.396 L 341.115 455.56 L 342.002 455.717 L 342.89 455.87 L 343.779 456.02 L 344.668 456.169 L 345.557 456.319 L 346.446 456.472 L 347.334 456.628 L 348.22 456.791 L 349.104 456.962 L 349.985 457.142 L 350.865 457.33 L 351.746 457.522 L 352.625 457.721 L 353.502 457.929 L 354.375 458.148 L 355.243 458.38 L 356.103 458.638 L 356.954 458.933 L 357.799 459.252 L 358.643 459.578 L 359.488 459.893 L 360.339 460.182 L 361.199 460.428 L 362.067 460.645 L 362.94 460.849 L 363.817 461.041 L 364.698 461.222 L 365.582 461.396 L 366.468 461.563 L 367.355 461.726 L 368.244 461.887 L 369.133 462.046 L 370.021 462.207 L 370.908 462.371 L 371.794 462.54 L 372.677 462.715 L 373.561 462.887 L 374.446 463.054 L 375.333 463.219 L 376.219 463.383 L 377.106 463.547 L 377.992 463.712 L 378.877 463.881 L 379.761 464.054 L 380.643 464.233 L 381.522 464.42 L 382.399 464.615 L 383.273 464.821 L 384.142 465.042 L 385.006 465.291 L 385.865 465.56 L 386.723 465.838 L 387.581 466.116 L 388.441 466.384 L 389.306 466.633 L 390.173 466.869 L 391.043 467.101 L 391.914 467.327 L 392.786 467.549 L 393.659 467.768 L 394.534 467.984 L 395.409 468.196 L 396.284 468.407 L 397.16 468.616 L 398.036 468.824 L 398.913 469.031 L 399.789 469.238 L 400.665 469.445 L 401.541 469.651 L 402.417 469.857 L 403.294 470.061 L 404.171 470.265 L 405.048 470.467 L 405.926 470.667 L 406.804 470.866 L 407.682 471.063 L 408.561 471.258 L 409.44 471.451 L 410.32 471.642 L 411.2 471.83 L 412.081 472.017 L 412.961 472.211 L 413.841 472.407 L 414.723 472.598 L 415.605 472.776 L 416.49 472.936 L 417.378 473.068 L 418.269 473.179 L 419.163 473.278 L 420.059 473.368 L 420.957 473.45 L 421.855 473.529 L 422.752 473.607 L 423.649 473.685 L 424.546 473.762 L 425.443 473.836 L 426.34 473.91 L 427.237 473.981 L 428.135 474.051 L 429.032 474.119 L 429.93 474.186 L 430.828 474.251 L 431.726 474.314 L 432.624 474.376 L 433.522 474.435 L 434.42 474.493 L 435.319 474.546 L 436.218 474.593 L 437.118 474.638 L 438.017 474.683 L 438.916 474.731 L 439.815 474.784 L 440.712 474.844 L 441.608 474.917 L 442.503 475.008 L 443.398 475.111 L 444.292 475.221 L 445.186 475.331 L 446.08 475.436 L 446.975 475.531 L 447.871 475.622 L 448.766 475.712 L 449.662 475.802 L 450.558 475.892 L 451.454 475.98 L 452.35 476.068 L 453.247 476.154 L 454.143 476.239 L 455.04 476.322 L 455.936 476.402 L 456.833 476.48 L 457.73 476.555 L 458.628 476.628 L 459.525 476.696 L 460.422 476.761 L 461.32 476.823 L 462.218 476.88 L 463.116 476.934 L 464.014 476.985 L 464.913 477.034 L 465.812 477.082 L 466.711 477.127 L 467.61 477.171 L 468.509 477.213 L 469.408 477.254 L 470.308 477.295 L 471.207 477.334 L 472.107 477.373 L 473.006 477.412 L 473.906 477.451 L 474.805 477.49 L 475.705 477.529 L 476.604 477.569 L 477.503 477.609 L 478.403 477.65 L 479.302 477.69 L 480.201 477.73 L 481.1 477.771 L 482 477.81 L 482.899 477.85 L 483.798 477.889 L 484.698 477.928 L 485.597 477.967 L 486.496 478.004 L 487.396 478.042 L 488.295 478.078 L 489.195 478.114 L 490.094 478.15 L 490.993 478.184 L 491.893 478.218 L 492.792 478.251 L 493.692 478.283 L 494.592 478.315 L 495.491 478.346 L 496.391 478.377 L 497.29 478.407 L 498.19 478.437 L 499.09 478.466 L 499.99 478.495 L 500.889 478.524 L 501.789 478.552 L 502.689 478.58 L 503.588 478.608 L 504.488 478.635 L 505.388 478.662 L 506.288 478.689 L 507.187 478.716 L 508.087 478.742 L 508.987 478.768 L 509.887 478.794 L 510.787 478.819 L 511.686 478.844 L 512.586 478.869 L 513.486 478.893 L 514.386 478.917 L 515.286 478.941 L 516.186 478.965 L 517.085 478.989 L 517.985 479.012 L 518.885 479.036 L 519.785 479.059 L 520.685 479.082 L 521.585 479.105 L 522.485 479.128 L 523.384 479.151 L 524.284 479.173 L 525.184 479.195 L 526.084 479.218 L 526.984 479.24 L 527.884 479.261 L 528.784 479.283 L 529.684 479.305 L 530.583 479.326 L 531.483 479.348 L 532.383 479.369 L 533.283 479.39 L 534.183 479.412 L 535.083 479.433 L 535.983 479.455 L 536.883 479.476 L 537.783 479.498 L 538.683 479.521 L 539.582 479.543 L 540.482 479.567 L 541.382 479.59 L 542.282 479.613 L 543.182 479.636 L 544.082 479.659 L 544.982 479.682 L 545.882 479.704 L 546.781 479.726 L 547.681 479.747 L 548.581 479.767 L 549.481 479.787 L 550.381 479.805 L 551.281 479.822 L 552.181 479.838 L 553.081 479.854 L 553.981 479.869 L 554.881 479.883 L 555.781 479.898 L 556.681 479.912 L 557.581 479.926 L 558.481 479.939 L 559.381 479.953 L 560.281 479.966 L 561.181 479.978 L 562.082 479.991 L 562.982 480.003 L 563.882 480.015 L 564.782 480.026 L 565.682 480.038 L 566.582 480.049 L 567.482 480.06 L 568.382 480.07 L 569.282 480.081 L 570.182 480.091 L 571.083 480.101 L 571.983 480.11 L 572.883 480.12 L 573.783 480.129 L 574.683 480.138 L 575.583 480.146 L 576.483 480.155 L 577.383 480.163 L 578.283 480.171 L 579.184 480.18 L 580.084 480.188 L 580.984 480.196 L 581.884 480.204 L 582.784 480.212 L 583.684 480.22 L 584.584 480.227 L 585.484 480.235 L 586.384 480.242 L 587.285 480.25 L 588.185 480.257 L 589.085 480.264 L 589.985 480.271 L 590.885 480.278 L 591.785 480.285 L 592.685 480.291 L 593.586 480.298 L 594.486 480.304 L 595.386 480.31 L 596.286 480.316 L 597.186 480.322 L 598.086 480.328 L 598.986 480.333 L 599.887 480.338 L 600.787 480.344 L 601.687 480.348 L 602.587 480.353 L 603.487 480.358 L 604.387 480.362 L 605.287 480.366 L 606.188 480.37 L 607.088 480.373 L 607.988 480.377 L 608.888 480.38 L 609.788 480.384 L 610.688 480.387 L 611.588 480.39 L 612.489 480.394 L 613.389 480.397 L 614.289 480.4 L 615.189 480.404 L 616.089 480.407 L 616.989 480.41 L 617.889 480.413 L 618.79 480.417 L 619.69 480.42 L 620.59 480.423 L 621.49 480.426 L 622.39 480.429 L 623.29 480.432 L 624.19 480.435 L 625.091 480.438 L 625.991 480.441 L 626.891 480.444 L 627.791 480.447 L 628.691 480.45 L 629.591 480.452 L 630.491 480.455 L 631.392 480.458 L 632.292 480.46 L 633.192 480.463 L 634.092 480.465 L 634.992 480.468 L 635.892 480.47 L 636.792 480.473 L 637.693 480.475 L 638.593 480.477 L 639.493 480.479 L 640.393 480.481 L 641.293 480.483 L 642.193 480.485 L 643.094 480.487 L 643.994 480.489 L 644.894 480.491 L 645.794 480.493 L 646.694 480.494 L 647.594 480.496 L 648.495 480.497 L 649.395 480.499 L 650.295 480.5 L 651.195 480.501 L 652.095 480.503 L 652.995 480.504 L 653.895 480.505 L 654.796 480.506 L 655.696 480.507 L 656.596 480.507 L 657.496 480.508 L 658.396 480.509 L 659.296 480.509 L 660.197 480.509 L 661.097 480.51 L 661.997 480.51 L 662.897 480.51 L 663.3 480.51 " clip-path="url(#pf3e7a543b4)" style="fill: none; stroke: #00ff00; stroke-width: 3; stroke-linecap: square"/>
</g>
<g id="line2d_16">
<path d="M 160.384 45 L 160.39 45.45 L 160.396 45.9 L 160.403 46.35 L 160.409 46.8 L 160.415 47.25 L 160.422 47.7 L 160.428 48.15 L 160.434 48.6 L 160.441 49.05 L 160.447 49.5 L 160.453 49.95 L 160.46 50.399 L 160.466 50.849 L 160.472 51.299 L 160.479 51.749 L 160.485 52.199 L 160.492 52.649 L 160.498 53.099 L 160.505 53.549 L 160.511 53.999 L 160.518 54.449 L 160.524 54.899 L 160.531 55.349 L 160.537 55.799 L 160.544 56.249 L 160.55 56.699 L 160.557 57.149 L 160.563 57.599 L 160.57 58.049 L 160.576 58.499 L 160.583 58.949 L 160.59 59.399 L 160.596 59.848 L 160.603 60.298 L 160.609 60.748 L 160.616 61.198 L 160.623 61.648 L 160.629 62.098 L 160.636 62.548 L 160.643 62.998 L 160.649 63.448 L 160.656 63.898 L 160.663 64.348 L 160.67 64.798 L 160.676 65.248 L 160.683 65.698 L 160.69 66.148 L 160.697 66.598 L 160.703 67.048 L 160.71 67.498 L 160.717 67.948 L 160.724 68.398 L 160.731 68.847 L 160.738 69.297 L 160.744 69.747 L 160.751 70.197 L 160.758 70.647 L 160.765 71.097 L 160.772 71.547 L 160.779 71.997 L 160.786 72.447 L 160.793 72.897 L 160.8 73.347 L 160.807 73.797 L 160.814 74.247 L 160.821 74.697 L 160.828 75.147 L 160.835 75.597 L 160.842 76.047 L 160.849 76.497 L 160.856 76.947 L 160.863 77.396 L 160.87 77.846 L 160.877 78.296 L 160.884 78.746 L 160.891 79.196 L 160.898 79.646 L 160.905 80.096 L 160.912 80.546 L 160.92 80.996 L 160.927 81.446 L 160.934 81.896 L 160.941 82.346 L 160.948 82.796 L 160.955 83.246 L 160.963 83.696 L 160.97 84.146 L 160.977 84.596 L 160.984 85.045 L 160.991 85.495 L 160.999 85.945 L 161.006 86.395 L 161.013 86.845 L 161.02 87.295 L 161.027 87.745 L 161.035 88.195 L 161.042 88.645 L 161.049 89.095 L 161.056 89.545 L 161.063 89.995 L 161.07 90.445 L 161.077 90.895 L 161.085 91.345 L 161.092 91.795 L 161.099 92.245 L 161.106 92.695 L 161.113 93.144 L 161.12 93.594 L 161.127 94.044 L 161.134 94.494 L 161.142 94.944 L 161.149 95.394 L 161.156 95.844 L 161.163 96.294 L 161.17 96.744 L 161.177 97.194 L 161.184 97.644 L 161.191 98.094 L 161.198 98.544 L 161.205 98.994 L 161.212 99.444 L 161.22 99.894 L 161.227 100.344 L 161.234 100.794 L 161.241 101.244 L 161.248 101.693 L 161.255 102.143 L 161.262 102.593 L 161.269 103.043 L 161.276 103.493 L 161.283 103.943 L 161.291 104.393 L 161.298 104.843 L 161.305 105.293 L 161.312 105.743 L 161.319 106.193 L 161.326 106.643 L 161.333 107.093 L 161.34 107.543 L 161.348 107.993 L 161.355 108.443 L 161.362 108.893 L 161.369 109.343 L 161.376 109.793 L 161.383 110.242 L 161.391 110.692 L 161.398 111.142 L 161.405 111.592 L 161.412 112.042 L 161.419 112.492 L 161.427 112.942 L 161.434 113.392 L 161.441 113.842 L 161.448 114.292 L 161.456 114.742 L 161.463 115.192 L 161.47 115.642 L 161.477 116.092 L 161.485 116.542 L 161.492 116.992 L 161.499 117.442 L 161.507 117.892 L 161.514 118.341 L 161.521 118.791 L 161.529 119.241 L 161.536 119.691 L 161.544 120.141 L 161.551 120.591 L 161.558 121.041 L 161.566 121.491 L 161.573 121.941 L 161.581 122.391 L 161.588 122.841 L 161.596 123.291 L 161.603 123.741 L 161.611 124.191 L 161.618 124.641 L 161.626 125.091 L 161.633 125.54 L 161.641 125.99 L 161.649 126.44 L 161.656 126.89 L 161.664 127.34 L 161.672 127.79 L 161.679 128.24 L 161.687 128.69 L 161.695 129.14 L 161.703 129.59 L 161.71 130.04 L 161.718 130.49 L 161.726 130.94 L 161.734 131.39 L 161.742 131.84 L 161.749 132.289 L 161.757 132.739 L 161.765 133.189 L 161.773 133.639 L 161.781 134.089 L 161.789 134.539 L 161.797 134.989 L 161.805 135.439 L 161.813 135.889 L 161.821 136.339 L 161.829 136.789 L 161.837 137.239 L 161.845 137.689 L 161.854 138.139 L 161.862 138.588 L 161.87 139.038 L 161.878 139.488 L 161.887 139.938 L 161.895 140.388 L 161.903 140.838 L 161.911 141.288 L 161.92 141.738 L 161.928 142.188 L 161.937 142.638 L 161.945 143.088 L 161.954 143.538 L 161.962 143.987 L 161.971 144.437 L 161.979 144.887 L 161.988 145.337 L 161.996 145.787 L 162.005 146.237 L 162.014 146.687 L 162.023 147.137 L 162.031 147.587 L 162.04 148.037 L 162.049 148.487 L 162.058 148.936 L 162.066 149.386 L 162.075 149.836 L 162.084 150.286 L 162.093 150.736 L 162.102 151.186 L 162.111 151.636 L 162.119 152.086 L 162.128 152.536 L 162.137 152.986 L 162.146 153.436 L 162.155 153.886 L 162.164 154.335 L 162.173 154.785 L 162.181 155.235 L 162.19 155.685 L 162.199 156.135 L 162.208 156.585 L 162.217 157.035 L 162.226 157.485 L 162.235 157.935 L 162.244 158.385 L 162.253 158.835 L 162.262 159.285 L 162.271 159.735 L 162.28 160.184 L 162.289 160.634 L 162.298 161.084 L 162.307 161.534 L 162.316 161.984 L 162.325 162.434 L 162.334 162.884 L 162.343 163.334 L 162.352 163.784 L 162.362 164.234 L 162.371 164.684 L 162.38 165.134 L 162.389 165.584 L 162.398 166.033 L 162.408 166.483 L 162.417 166.933 L 162.426 167.383 L 162.436 167.833 L 162.445 168.283 L 162.454 168.733 L 162.464 169.183 L 162.473 169.633 L 162.483 170.083 L 162.492 170.533 L 162.502 170.983 L 162.511 171.433 L 162.521 171.882 L 162.531 172.332 L 162.54 172.782 L 162.55 173.232 L 162.56 173.682 L 162.57 174.132 L 162.579 174.582 L 162.589 175.032 L 162.599 175.482 L 162.609 175.932 L 162.619 176.382 L 162.629 176.832 L 162.639 177.281 L 162.649 177.731 L 162.659 178.181 L 162.669 178.631 L 162.68 179.081 L 162.69 179.531 L 162.7 179.981 L 162.711 180.431 L 162.721 180.881 L 162.731 181.331 L 162.742 181.78 L 162.752 182.23 L 162.763 182.68 L 162.774 183.13 L 162.784 183.58 L 162.795 184.03 L 162.806 184.48 L 162.816 184.93 L 162.827 185.379 L 162.838 185.829 L 162.849 186.279 L 162.86 186.729 L 162.871 187.179 L 162.882 187.629 L 162.894 188.079 L 162.905 188.529 L 162.916 188.978 L 162.927 189.428 L 162.939 189.878 L 162.95 190.328 L 162.962 190.778 L 162.973 191.228 L 162.985 191.678 L 162.997 192.127 L 163.008 192.577 L 163.02 193.027 L 163.032 193.477 L 163.044 193.927 L 163.056 194.377 L 163.068 194.826 L 163.08 195.276 L 163.093 195.726 L 163.105 196.176 L 163.117 196.626 L 163.13 197.075 L 163.142 197.525 L 163.155 197.975 L 163.167 198.425 L 163.18 198.875 L 163.193 199.324 L 163.205 199.774 L 163.218 200.224 L 163.231 200.674 L 163.244 201.124 L 163.257 201.573 L 163.271 202.023 L 163.284 202.473 L 163.297 202.923 L 163.311 203.372 L 163.324 203.822 L 163.338 204.272 L 163.351 204.722 L 163.365 205.172 L 163.379 205.621 L 163.393 206.071 L 163.407 206.521 L 163.421 206.97 L 163.435 207.421 L 163.447 207.873 L 163.459 208.326 L 163.471 208.78 L 163.482 209.235 L 163.492 209.691 L 163.503 210.147 L 163.513 210.604 L 163.524 211.061 L 163.535 211.517 L 163.546 211.974 L 163.558 212.431 L 163.57 212.887 L 163.583 213.342 L 163.597 213.797 L 163.613 214.25 L 163.629 214.702 L 163.647 215.153 L 163.666 215.603 L 163.687 216.051 L 163.71 216.497 L 163.735 216.94 L 163.762 217.382 L 163.791 217.821 L 163.823 218.258 L 163.857 218.692 L 163.894 219.123 L 163.945 219.55 L 164.096 219.967 L 164.318 220.378 L 164.557 220.787 L 164.756 221.199 L 164.862 221.62 L 164.899 222.05 L 164.933 222.482 L 164.964 222.917 L 164.993 223.355 L 165.02 223.795 L 165.045 224.238 L 165.067 224.682 L 165.088 225.129 L 165.107 225.578 L 165.124 226.028 L 165.14 226.479 L 165.155 226.932 L 165.169 227.386 L 165.182 227.841 L 165.193 228.297 L 165.205 228.753 L 165.215 229.21 L 165.226 229.667 L 165.236 230.124 L 165.246 230.581 L 165.256 231.037 L 165.266 231.493 L 165.277 231.949 L 165.288 232.403 L 165.3 232.857 L 165.313 233.31 L 165.327 233.761 L 165.342 234.211 L 165.357 234.661 L 165.371 235.111 L 165.386 235.56 L 165.401 236.01 L 165.416 236.46 L 165.43 236.909 L 165.445 237.359 L 165.46 237.809 L 165.474 238.259 L 165.489 238.708 L 165.503 239.158 L 165.518 239.608 L 165.532 240.058 L 165.547 240.507 L 165.561 240.957 L 165.576 241.407 L 165.59 241.857 L 165.604 242.306 L 165.618 242.756 L 165.633 243.206 L 165.647 243.656 L 165.661 244.106 L 165.675 244.555 L 165.689 245.005 L 165.703 245.455 L 165.717 245.905 L 165.731 246.354 L 165.745 246.804 L 165.759 247.254 L 165.773 247.704 L 165.787 248.153 L 165.801 248.603 L 165.815 249.053 L 165.829 249.503 L 165.842 249.953 L 165.856 250.402 L 165.87 250.852 L 165.883 251.302 L 165.897 251.752 L 165.911 252.202 L 165.924 252.651 L 165.938 253.101 L 165.951 253.551 L 165.965 254.001 L 165.978 254.451 L 165.992 254.9 L 166.005 255.35 L 166.018 255.8 L 166.032 256.25 L 166.045 256.699 L 166.058 257.149 L 166.071 257.599 L 166.085 258.049 L 166.098 258.499 L 166.111 258.949 L 166.124 259.398 L 166.137 259.848 L 166.15 260.298 L 166.163 260.748 L 166.176 261.198 L 166.189 261.647 L 166.202 262.097 L 166.215 262.547 L 166.228 262.997 L 166.241 263.447 L 166.254 263.896 L 166.267 264.346 L 166.28 264.796 L 166.293 265.246 L 166.305 265.696 L 166.318 266.146 L 166.331 266.595 L 166.343 267.045 L 166.356 267.495 L 166.369 267.945 L 166.381 268.395 L 166.394 268.845 L 166.406 269.294 L 166.419 269.744 L 166.431 270.194 L 166.444 270.644 L 166.456 271.094 L 166.469 271.544 L 166.481 271.993 L 166.494 272.443 L 166.506 272.893 L 166.518 273.343 L 166.531 273.793 L 166.543 274.243 L 166.555 274.692 L 166.568 275.142 L 166.58 275.592 L 166.592 276.042 L 166.604 276.492 L 166.616 276.942 L 166.628 277.391 L 166.641 277.841 L 166.653 278.291 L 166.665 278.741 L 166.677 279.191 L 166.689 279.641 L 166.701 280.091 L 166.713 280.54 L 166.725 280.99 L 166.737 281.44 L 166.749 281.89 L 166.761 282.34 L 166.772 282.79 L 166.784 283.239 L 166.796 283.689 L 166.808 284.139 L 166.82 284.589 L 166.832 285.039 L 166.843 285.489 L 166.855 285.939 L 166.867 286.388 L 166.879 286.838 L 166.89 287.288 L 166.902 287.738 L 166.914 288.188 L 166.925 288.638 L 166.937 289.088 L 166.948 289.537 L 166.96 289.987 L 166.972 290.437 L 166.983 290.887 L 166.995 291.337 L 167.006 291.787 L 167.018 292.237 L 167.029 292.687 L 167.041 293.136 L 167.052 293.586 L 167.063 294.036 L 167.075 294.486 L 167.086 294.936 L 167.098 295.386 L 167.109 295.836 L 167.12 296.285 L 167.132 296.735 L 167.143 297.185 L 167.154 297.635 L 167.166 298.085 L 167.177 298.535 L 167.188 298.985 L 167.199 299.435 L 167.21 299.884 L 167.222 300.334 L 167.233 300.784 L 167.244 301.234 L 167.255 301.684 L 167.266 302.134 L 167.277 302.584 L 167.289 303.033 L 167.3 303.483 L 167.311 303.933 L 167.322 304.383 L 167.333 304.833 L 167.344 305.283 L 167.355 305.733 L 167.366 306.183 L 167.377 306.632 L 167.388 307.082 L 167.399 307.532 L 167.41 307.982 L 167.421 308.432 L 167.432 308.882 L 167.443 309.332 L 167.454 309.782 L 167.465 310.231 L 167.476 310.681 L 167.487 311.131 L 167.497 311.581 L 167.508 312.031 L 167.519 312.481 L 167.53 312.931 L 167.541 313.381 L 167.552 313.83 L 167.563 314.28 L 167.573 314.73 L 167.584 315.18 L 167.595 315.63 L 167.606 316.08 L 167.616 316.53 L 167.627 316.98 L 167.638 317.429 L 167.649 317.879 L 167.659 318.329 L 167.67 318.779 L 167.681 319.229 L 167.692 319.679 L 167.702 320.129 L 167.713 320.579 L 167.724 321.028 L 167.734 321.478 L 167.745 321.928 L 167.756 322.378 L 167.766 322.828 L 167.777 323.278 L 167.788 323.728 L 167.798 324.178 L 167.809 324.627 L 167.82 325.077 L 167.83 325.527 L 167.841 325.977 L 167.851 326.427 L 167.862 326.877 L 167.873 327.327 L 167.883 327.777 L 167.894 328.226 L 167.904 328.676 L 167.915 329.126 L 167.925 329.576 L 167.935 330.026 L 167.945 330.476 L 167.955 330.926 L 167.965 331.376 L 167.975 331.826 L 167.985 332.275 L 167.994 332.725 L 168.004 333.175 L 168.013 333.625 L 168.022 334.075 L 168.032 334.525 L 168.041 334.975 L 168.05 335.425 L 168.059 335.875 L 168.068 336.325 L 168.077 336.775 L 168.086 337.224 L 168.095 337.674 L 168.103 338.124 L 168.112 338.574 L 168.121 339.024 L 168.13 339.474 L 168.138 339.924 L 168.147 340.374 L 168.156 340.824 L 168.164 341.274 L 168.173 341.724 L 168.182 342.174 L 168.19 342.624 L 168.199 343.074 L 168.208 343.524 L 168.216 343.973 L 168.225 344.423 L 168.234 344.873 L 168.243 345.323 L 168.251 345.773 L 168.26 346.223 L 168.269 346.673 L 168.278 347.123 L 168.287 347.573 L 168.296 348.023 L 168.305 348.473 L 168.314 348.923 L 168.324 349.372 L 168.333 349.822 L 168.343 350.272 L 168.352 350.722 L 168.362 351.172 L 168.371 351.622 L 168.381 352.072 L 168.391 352.522 L 168.401 352.972 L 168.411 353.422 L 168.421 353.871 L 168.432 354.321 L 168.442 354.771 L 168.453 355.221 L 168.464 355.671 L 168.475 356.121 L 168.486 356.571 L 168.497 357.02 L 168.508 357.47 L 168.52 357.92 L 168.531 358.37 L 168.543 358.82 L 168.555 359.269 L 168.568 359.719 L 168.58 360.169 L 168.592 360.619 L 168.604 361.069 L 168.615 361.52 L 168.626 361.97 L 168.637 362.421 L 168.648 362.872 L 168.659 363.323 L 168.67 363.774 L 168.681 364.225 L 168.692 364.676 L 168.703 365.127 L 168.715 365.578 L 168.726 366.03 L 168.738 366.481 L 168.751 366.932 L 168.763 367.383 L 168.776 367.834 L 168.79 368.284 L 168.804 368.735 L 168.819 369.185 L 168.834 369.635 L 168.851 370.086 L 168.867 370.535 L 168.885 370.985 L 168.904 371.434 L 168.923 371.883 L 168.944 372.332 L 168.965 372.78 L 168.988 373.228 L 169.011 373.676 L 169.036 374.123 L 169.062 374.57 L 169.09 375.016 L 169.119 375.462 L 169.15 375.912 L 169.196 376.412 L 169.258 376.961 L 169.334 377.539 L 169.42 378.127 L 169.514 378.708 L 169.613 379.263 L 169.714 379.773 L 169.815 380.22 L 169.912 380.584 L 170.004 380.848 L 170.087 380.993 L 170.16 381.003 L 170.231 380.891 L 170.303 380.674 L 170.374 380.365 L 170.444 379.976 L 170.513 379.521 L 170.581 379.013 L 170.646 378.463 L 170.709 377.887 L 170.769 377.295 L 170.826 376.702 L 170.879 376.121 L 170.927 375.563 L 170.971 375.043 L 171.01 374.573 L 171.046 374.126 L 171.081 373.678 L 171.114 373.23 L 171.147 372.782 L 171.179 372.334 L 171.209 371.885 L 171.239 371.437 L 171.268 370.988 L 171.296 370.539 L 171.323 370.09 L 171.349 369.641 L 171.374 369.191 L 171.399 368.742 L 171.423 368.292 L 171.447 367.842 L 171.469 367.393 L 171.492 366.943 L 171.513 366.493 L 171.535 366.043 L 171.555 365.593 L 171.576 365.143 L 171.596 364.693 L 171.616 364.243 L 171.635 363.793 L 171.654 363.343 L 171.673 362.893 L 171.692 362.443 L 171.711 361.993 L 171.729 361.543 L 171.748 361.093 L 171.767 360.644 L 171.785 360.194 L 171.804 359.745 L 171.822 359.295 L 171.841 358.846 L 171.859 358.396 L 171.877 357.946 L 171.895 357.497 L 171.913 357.047 L 171.93 356.598 L 171.948 356.148 L 171.965 355.698 L 171.983 355.249 L 172 354.799 L 172.017 354.349 L 172.034 353.9 L 172.05 353.45 L 172.067 353 L 172.083 352.551 L 172.1 352.101 L 172.116 351.651 L 172.132 351.202 L 172.148 350.752 L 172.164 350.302 L 172.179 349.852 L 172.195 349.403 L 172.21 348.953 L 172.226 348.503 L 172.241 348.053 L 172.256 347.604 L 172.271 347.154 L 172.286 346.704 L 172.301 346.254 L 172.315 345.804 L 172.33 345.355 L 172.344 344.905 L 172.359 344.455 L 172.373 344.005 L 172.387 343.555 L 172.401 343.106 L 172.415 342.656 L 172.429 342.206 L 172.442 341.756 L 172.456 341.306 L 172.469 340.856 L 172.483 340.407 L 172.496 339.957 L 172.509 339.507 L 172.522 339.057 L 172.535 338.607 L 172.548 338.157 L 172.561 337.708 L 172.574 337.258 L 172.587 336.808 L 172.599 336.358 L 172.612 335.908 L 172.624 335.458 L 172.636 335.008 L 172.649 334.559 L 172.661 334.109 L 172.673 333.659 L 172.685 333.209 L 172.697 332.759 L 172.709 332.309 L 172.72 331.859 L 172.732 331.41 L 172.744 330.96 L 172.755 330.51 L 172.767 330.06 L 172.778 329.61 L 172.789 329.16 L 172.801 328.711 L 172.812 328.261 L 172.823 327.811 L 172.834 327.361 L 172.844 326.911 L 172.855 326.461 L 172.865 326.011 L 172.875 325.562 L 172.886 325.112 L 172.895 324.662 L 172.905 324.212 L 172.915 323.762 L 172.924 323.312 L 172.934 322.862 L 172.943 322.412 L 172.952 321.962 L 172.961 321.512 L 172.97 321.063 L 172.979 320.613 L 172.987 320.163 L 172.996 319.713 L 173.004 319.263 L 173.013 318.813 L 173.021 318.363 L 173.029 317.913 L 173.037 317.463 L 173.045 317.013 L 173.053 316.563 L 173.061 316.113 L 173.069 315.663 L 173.077 315.213 L 173.085 314.763 L 173.092 314.313 L 173.1 313.863 L 173.108 313.413 L 173.115 312.963 L 173.123 312.513 L 173.13 312.063 L 173.138 311.613 L 173.145 311.163 L 173.153 310.713 L 173.16 310.264 L 173.168 309.814 L 173.175 309.364 L 173.183 308.914 L 173.19 308.464 L 173.198 308.014 L 173.205 307.564 L 173.213 307.114 L 173.221 306.664 L 173.228 306.214 L 173.236 305.764 L 173.244 305.314 L 173.251 304.864 L 173.259 304.414 L 173.267 303.964 L 173.275 303.514 L 173.283 303.064 L 173.291 302.614 L 173.299 302.164 L 173.307 301.714 L 173.315 301.264 L 173.324 300.814 L 173.332 300.364 L 173.341 299.915 L 173.349 299.465 L 173.358 299.015 L 173.367 298.565 L 173.376 298.115 L 173.385 297.665 L 173.394 297.215 L 173.403 296.765 L 173.413 296.315 L 173.422 295.865 L 173.432 295.416 L 173.442 294.966 L 173.452 294.516 L 173.462 294.066 L 173.473 293.616 L 173.483 293.166 L 173.494 292.716 L 173.504 292.267 L 173.515 291.817 L 173.527 291.367 L 173.538 290.917 L 173.549 290.467 L 173.561 290.018 L 173.573 289.568 L 173.585 289.118 L 173.597 288.668 L 173.61 288.219 L 173.623 287.769 L 173.635 287.318 L 173.647 286.867 L 173.658 286.416 L 173.669 285.964 L 173.68 285.512 L 173.691 285.059 L 173.702 284.606 L 173.713 284.153 L 173.724 283.699 L 173.735 283.246 L 173.746 282.792 L 173.758 282.338 L 173.77 281.885 L 173.782 281.431 L 173.795 280.978 L 173.808 280.524 L 173.822 280.071 L 173.836 279.619 L 173.852 279.166 L 173.868 278.714 L 173.885 278.263 L 173.903 277.812 L 173.922 277.361 L 173.942 276.912 L 173.963 276.463 L 173.985 276.014 L 174.009 275.567 L 174.034 275.12 L 174.06 274.674 L 174.088 274.229 L 174.118 273.785 L 174.149 273.342 L 174.182 272.9 L 174.216 272.46 L 174.252 272.02 L 174.291 271.582 L 174.366 271.095 L 174.499 270.539 L 174.667 269.969 L 174.845 269.441 L 175.009 269.009 L 175.134 268.729 L 175.198 268.651 L 175.236 268.679 L 175.272 268.747 L 175.306 268.854 L 175.339 268.998 L 175.371 269.177 L 175.401 269.391 L 175.43 269.638 L 175.458 269.916 L 175.484 270.224 L 175.509 270.56 L 175.533 270.923 L 175.557 271.312 L 175.579 271.725 L 175.6 272.16 L 175.62 272.617 L 175.639 273.093 L 175.657 273.587 L 175.674 274.099 L 175.691 274.625 L 175.707 275.165 L 175.722 275.718 L 175.736 276.282 L 175.75 276.855 L 175.763 277.436 L 175.776 278.024 L 175.788 278.617 L 175.8 279.213 L 175.811 279.812 L 175.822 280.412 L 175.832 281.01 L 175.843 281.607 L 175.853 282.2 L 175.862 282.788 L 175.872 283.369 L 175.882 283.942 L 175.891 284.506 L 175.9 285.059 L 175.91 285.6 L 175.919 286.127 L 175.929 286.638 L 175.938 287.133 L 175.948 287.61 L 175.958 288.067 L 175.968 288.517 L 175.978 288.967 L 175.987 289.416 L 175.997 289.866 L 176.006 290.316 L 176.016 290.766 L 176.025 291.216 L 176.034 291.665 L 176.043 292.115 L 176.052 292.565 L 176.06 293.015 L 176.069 293.465 L 176.077 293.915 L 176.085 294.365 L 176.094 294.814 L 176.102 295.264 L 176.11 295.714 L 176.117 296.164 L 176.125 296.614 L 176.133 297.064 L 176.14 297.514 L 176.148 297.964 L 176.155 298.414 L 176.162 298.864 L 176.17 299.314 L 176.177 299.763 L 176.184 300.213 L 176.19 300.663 L 176.197 301.113 L 176.204 301.563 L 176.211 302.013 L 176.217 302.463 L 176.224 302.913 L 176.23 303.363 L 176.236 303.813 L 176.243 304.263 L 176.249 304.713 L 176.255 305.163 L 176.261 305.613 L 176.267 306.063 L 176.273 306.513 L 176.279 306.963 L 176.285 307.413 L 176.291 307.863 L 176.297 308.313 L 176.302 308.763 L 176.308 309.213 L 176.314 309.663 L 176.319 310.113 L 176.325 310.563 L 176.33 311.013 L 176.336 311.463 L 176.341 311.913 L 176.347 312.363 L 176.352 312.813 L 176.358 313.263 L 176.363 313.713 L 176.368 314.163 L 176.374 314.613 L 176.379 315.063 L 176.384 315.513 L 176.389 315.963 L 176.395 316.413 L 176.4 316.863 L 176.405 317.313 L 176.411 317.763 L 176.416 318.213 L 176.421 318.663 L 176.426 319.113 L 176.432 319.563 L 176.437 320.013 L 176.442 320.463 L 176.448 320.913 L 176.453 321.363 L 176.458 321.813 L 176.464 322.263 L 176.469 322.713 L 176.475 323.163 L 176.48 323.613 L 176.485 324.063 L 176.491 324.513 L 176.497 324.963 L 176.502 325.413 L 176.508 325.863 L 176.513 326.313 L 176.519 326.763 L 176.525 327.213 L 176.531 327.663 L 176.537 328.113 L 176.542 328.563 L 176.548 329.013 L 176.554 329.463 L 176.56 329.913 L 176.566 330.363 L 176.571 330.813 L 176.577 331.263 L 176.582 331.712 L 176.588 332.162 L 176.593 332.612 L 176.599 333.062 L 176.604 333.512 L 176.609 333.962 L 176.615 334.412 L 176.62 334.862 L 176.625 335.312 L 176.63 335.762 L 176.636 336.212 L 176.641 336.662 L 176.646 337.112 L 176.651 337.562 L 176.656 338.012 L 176.661 338.462 L 176.666 338.912 L 176.671 339.362 L 176.676 339.812 L 176.681 340.262 L 176.686 340.712 L 176.691 341.162 L 176.696 341.612 L 176.701 342.062 L 176.706 342.512 L 176.711 342.962 L 176.716 343.412 L 176.721 343.862 L 176.726 344.312 L 176.731 344.762 L 176.737 345.212 L 176.742 345.662 L 176.747 346.112 L 176.752 346.562 L 176.757 347.012 L 176.762 347.462 L 176.767 347.912 L 176.773 348.362 L 176.778 348.811 L 176.783 349.261 L 176.788 349.711 L 176.794 350.161 L 176.799 350.611 L 176.805 351.061 L 176.81 351.511 L 176.816 351.961 L 176.821 352.411 L 176.827 352.861 L 176.832 353.311 L 176.838 353.761 L 176.844 354.211 L 176.85 354.661 L 176.856 355.111 L 176.862 355.561 L 176.868 356.011 L 176.874 356.461 L 176.88 356.911 L 176.886 357.361 L 176.892 357.811 L 176.899 358.261 L 176.905 358.711 L 176.912 359.161 L 176.918 359.61 L 176.925 360.06 L 176.932 360.51 L 176.939 360.96 L 176.946 361.41 L 176.953 361.86 L 176.961 362.31 L 176.969 362.76 L 176.976 363.21 L 176.984 363.66 L 176.992 364.11 L 177 364.56 L 177.009 365.01 L 177.017 365.46 L 177.026 365.909 L 177.034 366.359 L 177.043 366.809 L 177.052 367.259 L 177.061 367.709 L 177.07 368.159 L 177.079 368.609 L 177.088 369.059 L 177.097 369.509 L 177.106 369.959 L 177.116 370.409 L 177.125 370.859 L 177.134 371.308 L 177.144 371.758 L 177.153 372.208 L 177.163 372.658 L 177.172 373.108 L 177.182 373.558 L 177.191 374.008 L 177.201 374.458 L 177.21 374.908 L 177.219 375.358 L 177.229 375.807 L 177.238 376.257 L 177.248 376.707 L 177.257 377.157 L 177.266 377.607 L 177.276 378.057 L 177.285 378.507 L 177.294 378.957 L 177.303 379.407 L 177.312 379.857 L 177.321 380.307 L 177.33 380.757 L 177.339 381.206 L 177.348 381.656 L 177.356 382.106 L 177.365 382.556 L 177.373 383.006 L 177.381 383.456 L 177.389 383.906 L 177.397 384.356 L 177.405 384.806 L 177.413 385.256 L 177.421 385.706 L 177.428 386.156 L 177.435 386.606 L 177.443 387.055 L 177.45 387.505 L 177.456 387.955 L 177.463 388.405 L 177.469 388.855 L 177.476 389.305 L 177.482 389.755 L 177.488 390.205 L 177.493 390.655 L 177.499 391.105 L 177.505 391.555 L 177.51 392.005 L 177.515 392.455 L 177.52 392.905 L 177.526 393.355 L 177.531 393.805 L 177.536 394.256 L 177.54 394.706 L 177.545 395.156 L 177.55 395.606 L 177.555 396.056 L 177.559 396.506 L 177.564 396.956 L 177.569 397.406 L 177.573 397.856 L 177.578 398.306 L 177.583 398.756 L 177.587 399.206 L 177.592 399.656 L 177.597 400.106 L 177.602 400.556 L 177.606 401.006 L 177.611 401.456 L 177.616 401.906 L 177.621 402.356 L 177.626 402.806 L 177.631 403.256 L 177.637 403.706 L 177.642 404.156 L 177.647 404.606 L 177.653 405.056 L 177.659 405.506 L 177.665 405.956 L 177.671 406.406 L 177.677 406.856 L 177.683 407.306 L 177.69 407.756 L 177.696 408.206 L 177.703 408.656 L 177.71 409.106 L 177.717 409.555 L 177.725 410.005 L 177.733 410.455 L 177.74 410.905 L 177.749 411.355 L 177.757 411.804 L 177.766 412.254 L 177.775 412.704 L 177.784 413.154 L 177.793 413.603 L 177.803 414.053 L 177.813 414.503 L 177.824 414.953 L 177.835 415.403 L 177.846 415.853 L 177.858 416.303 L 177.871 416.754 L 177.884 417.204 L 177.898 417.655 L 177.912 418.105 L 177.927 418.556 L 177.942 419.007 L 177.958 419.457 L 177.975 419.908 L 177.992 420.359 L 178.01 420.809 L 178.029 421.26 L 178.048 421.711 L 178.068 422.161 L 178.088 422.612 L 178.109 423.062 L 178.131 423.512 L 178.154 423.962 L 178.178 424.412 L 178.202 424.862 L 178.227 425.312 L 178.253 425.761 L 178.279 426.211 L 178.307 426.66 L 178.335 427.109 L 178.364 427.558 L 178.394 428.006 L 178.425 428.454 L 178.457 428.903 L 178.489 429.35 L 178.523 429.798 L 178.557 430.245 L 178.593 430.692 L 178.629 431.138 L 178.666 431.584 L 178.705 432.03 L 178.751 432.512 L 178.808 433.046 L 178.875 433.614 L 178.951 434.201 L 179.033 434.79 L 179.12 435.364 L 179.21 435.906 L 179.302 436.4 L 179.393 436.83 L 179.483 437.177 L 179.57 437.427 L 179.652 437.561 L 179.727 437.554 L 179.8 437.348 L 179.872 436.974 L 179.943 436.481 L 180.014 435.915 L 180.085 435.325 L 180.157 434.757 L 180.231 434.26 L 180.307 433.816 L 180.386 433.373 L 180.467 432.93 L 180.548 432.488 L 180.63 432.045 L 180.711 431.602 L 180.791 431.159 L 180.867 430.716 L 180.94 430.272 L 181.008 429.828 L 181.074 429.383 L 181.143 428.937 L 181.211 428.491 L 181.279 428.045 L 181.344 427.599 L 181.405 427.152 L 181.461 426.705 L 181.509 426.258 L 181.548 425.811 L 181.577 425.363 L 181.597 424.915 L 181.615 424.467 L 181.631 424.018 L 181.646 423.569 L 181.66 423.12 L 181.673 422.671 L 181.684 422.221 L 181.695 421.771 L 181.704 421.321 L 181.714 420.871 L 181.722 420.421 L 181.73 419.971 L 181.738 419.52 L 181.745 419.07 L 181.753 418.62 L 181.76 418.169 L 181.768 417.719 L 181.776 417.268 L 181.784 416.818 L 181.793 416.367 L 181.802 415.917 L 181.813 415.467 L 181.824 415.016 L 181.836 414.566 L 181.849 414.117 L 181.863 413.667 L 181.877 413.217 L 181.89 412.767 L 181.904 412.316 L 181.918 411.866 L 181.932 411.415 L 181.947 410.964 L 181.962 410.514 L 181.977 410.063 L 181.993 409.613 L 182.01 409.162 L 182.028 408.712 L 182.047 408.262 L 182.066 407.812 L 182.087 407.362 L 182.11 406.912 L 182.133 406.463 L 182.158 406.015 L 182.185 405.566 L 182.214 405.118 L 182.244 404.671 L 182.276 404.224 L 182.311 403.778 L 182.359 403.332 L 182.422 402.888 L 182.497 402.444 L 182.58 402 L 182.667 401.557 L 182.753 401.114 L 182.835 400.671 L 182.913 400.227 L 182.995 399.784 L 183.081 399.342 L 183.168 398.899 L 183.256 398.457 L 183.341 398.014 L 183.423 397.571 L 183.499 397.128 L 183.567 396.684 L 183.626 396.239 L 183.674 395.794 L 183.719 395.347 L 183.761 394.9 L 183.8 394.453 L 183.838 394.005 L 183.873 393.557 L 183.907 393.108 L 183.94 392.659 L 183.971 392.21 L 184 391.761 L 184.029 391.311 L 184.057 390.861 L 184.084 390.412 L 184.11 389.962 L 184.136 389.512 L 184.162 389.062 L 184.188 388.612 L 184.214 388.162 L 184.24 387.713 L 184.267 387.263 L 184.294 386.814 L 184.319 386.364 L 184.343 385.912 L 184.364 385.46 L 184.384 385.007 L 184.402 384.553 L 184.42 384.099 L 184.436 383.645 L 184.453 383.19 L 184.468 382.735 L 184.484 382.281 L 184.501 381.827 L 184.517 381.373 L 184.535 380.92 L 184.554 380.468 L 184.574 380.016 L 184.596 379.566 L 184.619 379.117 L 184.645 378.669 L 184.673 378.223 L 184.704 377.778 L 184.738 377.336 L 184.775 376.895 L 184.816 376.456 L 184.861 376.02 L 184.916 375.577 L 185.044 375.056 L 185.228 374.494 L 185.434 373.96 L 185.625 373.521 L 185.765 373.245 L 185.824 373.188 L 185.858 373.235 L 185.889 373.337 L 185.918 373.49 L 185.945 373.693 L 185.97 373.942 L 185.994 374.234 L 186.015 374.567 L 186.035 374.937 L 186.053 375.342 L 186.07 375.779 L 186.086 376.246 L 186.1 376.738 L 186.114 377.253 L 186.127 377.79 L 186.138 378.343 L 186.15 378.912 L 186.16 379.492 L 186.17 380.081 L 186.18 380.677 L 186.19 381.276 L 186.2 381.875 L 186.209 382.472 L 186.219 383.064 L 186.229 383.647 L 186.24 384.22 L 186.251 384.779 L 186.262 385.321 L 186.275 385.843 L 186.288 386.343 L 186.302 386.818 L 186.317 387.27 L 186.332 387.72 L 186.347 388.17 L 186.362 388.619 L 186.377 389.069 L 186.391 389.519 L 186.406 389.969 L 186.42 390.418 L 186.434 390.868 L 186.448 391.318 L 186.462 391.768 L 186.476 392.218 L 186.49 392.667 L 186.504 393.117 L 186.517 393.567 L 186.531 394.017 L 186.544 394.467 L 186.558 394.916 L 186.571 395.366 L 186.585 395.816 L 186.598 396.266 L 186.611 396.716 L 186.625 397.165 L 186.638 397.615 L 186.651 398.065 L 186.664 398.515 L 186.678 398.965 L 186.691 399.415 L 186.704 399.864 L 186.718 400.314 L 186.731 400.764 L 186.744 401.214 L 186.758 401.664 L 186.771 402.113 L 186.785 402.563 L 186.798 403.013 L 186.812 403.463 L 186.826 403.913 L 186.839 404.362 L 186.853 404.812 L 186.867 405.262 L 186.881 405.712 L 186.895 406.162 L 186.909 406.611 L 186.924 407.061 L 186.938 407.511 L 186.953 407.961 L 186.967 408.41 L 186.982 408.86 L 186.997 409.31 L 187.012 409.76 L 187.028 410.209 L 187.043 410.659 L 187.059 411.109 L 187.075 411.558 L 187.09 412.008 L 187.107 412.458 L 187.123 412.908 L 187.139 413.357 L 187.156 413.807 L 187.173 414.257 L 187.19 414.706 L 187.208 415.156 L 187.226 415.605 L 187.244 416.055 L 187.262 416.505 L 187.281 416.954 L 187.3 417.404 L 187.319 417.853 L 187.339 418.303 L 187.358 418.753 L 187.378 419.202 L 187.398 419.652 L 187.418 420.101 L 187.439 420.551 L 187.459 421 L 187.48 421.45 L 187.501 421.899 L 187.522 422.349 L 187.543 422.798 L 187.564 423.248 L 187.585 423.697 L 187.606 424.147 L 187.627 424.596 L 187.649 425.046 L 187.67 425.495 L 187.691 425.945 L 187.713 426.394 L 187.734 426.844 L 187.755 427.293 L 187.777 427.743 L 187.798 428.192 L 187.819 428.642 L 187.84 429.092 L 187.861 429.541 L 187.882 429.991 L 187.903 430.44 L 187.923 430.89 L 187.944 431.339 L 187.964 431.789 L 187.984 432.238 L 188.003 432.688 L 188.021 433.138 L 188.038 433.588 L 188.055 434.038 L 188.071 434.488 L 188.087 434.938 L 188.103 435.388 L 188.12 435.838 L 188.137 436.288 L 188.154 436.738 L 188.172 437.188 L 188.192 437.638 L 188.212 438.087 L 188.234 438.537 L 188.258 438.986 L 188.283 439.434 L 188.311 439.883 L 188.341 440.331 L 188.373 440.78 L 188.412 441.233 L 188.459 441.687 L 188.514 442.139 L 188.577 442.586 L 188.65 443.022 L 188.738 443.452 L 188.87 443.925 L 189.044 444.434 L 189.251 444.959 L 189.484 445.484 L 189.734 445.99 L 189.993 446.458 L 190.252 446.871 L 190.504 447.21 L 190.739 447.457 L 190.951 447.593 L 191.133 447.602 L 191.307 447.474 L 191.478 447.225 L 191.645 446.872 L 191.81 446.429 L 191.971 445.915 L 192.128 445.346 L 192.282 444.738 L 192.433 444.106 L 192.58 443.469 L 192.724 442.842 L 192.864 442.242 L 193 441.685 L 193.132 441.188 L 193.261 440.767 L 193.386 440.438 L 193.507 440.219 L 193.624 440.125 L 193.737 440.152 L 193.845 440.263 L 193.95 440.45 L 194.051 440.707 L 194.148 441.028 L 194.243 441.404 L 194.336 441.831 L 194.426 442.3 L 194.515 442.806 L 194.602 443.341 L 194.688 443.899 L 194.774 444.474 L 194.86 445.058 L 194.945 445.645 L 195.032 446.228 L 195.119 446.8 L 195.207 447.355 L 195.297 447.886 L 195.39 448.387 L 195.484 448.85 L 195.578 449.31 L 195.667 449.812 L 195.751 450.347 L 195.834 450.907 L 195.914 451.483 L 195.994 452.067 L 196.074 452.651 L 196.156 453.225 L 196.24 453.782 L 196.328 454.313 L 196.421 454.809 L 196.519 455.263 L 196.625 455.665 L 196.738 456.007 L 196.861 456.282 L 196.994 456.479 L 197.138 456.592 L 197.296 456.604 L 197.496 456.429 L 197.742 456.087 L 198.024 455.638 L 198.336 455.138 L 198.67 454.649 L 199.018 454.227 L 199.373 453.933 L 199.727 453.825 L 200.137 453.909 L 200.622 454.11 L 201.123 454.365 L 201.58 454.608 L 201.933 454.777 L 202.134 454.805 L 202.274 454.661 L 202.392 454.365 L 202.493 453.943 L 202.58 453.422 L 202.655 452.828 L 202.722 452.188 L 202.784 451.528 L 202.844 450.874 L 202.905 450.253 L 202.97 449.691 L 203.044 449.215 L 203.128 448.85 L 203.225 448.624 L 203.341 448.566 L 203.506 448.829 L 203.695 449.333 L 203.853 449.872 L 203.951 450.31 L 204.037 450.745 L 204.115 451.183 L 204.186 451.624 L 204.25 452.068 L 204.31 452.514 L 204.365 452.963 L 204.416 453.412 L 204.466 453.863 L 204.513 454.315 L 204.561 454.766 L 204.608 455.217 L 204.656 455.668 L 204.707 456.118 L 204.761 456.566 L 204.817 457.02 L 204.873 457.515 L 204.927 458.045 L 204.98 458.603 L 205.032 459.181 L 205.083 459.772 L 205.134 460.367 L 205.185 460.959 L 205.236 461.539 L 205.287 462.1 L 205.339 462.634 L 205.392 463.134 L 205.446 463.59 L 205.501 463.995 L 205.558 464.342 L 205.617 464.622 L 205.678 464.827 L 205.741 464.951 L 205.807 464.983 L 205.872 464.863 L 205.937 464.58 L 206.001 464.163 L 206.067 463.642 L 206.135 463.044 L 206.205 462.4 L 206.28 461.738 L 206.36 461.087 L 206.446 460.477 L 206.539 459.935 L 206.641 459.491 L 206.751 459.175 L 206.873 459.014 L 207.011 459.053 L 207.189 459.333 L 207.403 459.782 L 207.649 460.323 L 207.919 460.877 L 208.209 461.366 L 208.514 461.711 L 208.827 461.835 L 209.217 461.729 L 209.693 461.491 L 210.178 461.212 L 210.594 460.982 L 210.866 460.89 L 211.035 460.962 L 211.183 461.159 L 211.312 461.466 L 211.425 461.868 L 211.523 462.35 L 211.61 462.897 L 211.688 463.494 L 211.759 464.126 L 211.825 464.778 L 211.89 465.436 L 211.954 466.084 L 212.022 466.707 L 212.094 467.29 L 212.174 467.819 L 212.264 468.278 L 212.367 468.653 L 212.484 468.928 L 212.618 469.089 L 212.773 469.117 L 212.989 468.958 L 213.264 468.636 L 213.582 468.202 L 213.927 467.708 L 214.279 467.204 L 214.623 466.743 L 214.942 466.375 L 215.218 466.153 L 215.436 466.123 L 215.617 466.276 L 215.774 466.577 L 215.913 466.994 L 216.041 467.495 L 216.165 468.049 L 216.293 468.626 L 216.431 469.194 L 216.586 469.721 L 216.766 470.176 L 216.977 470.528 L 217.256 470.787 L 217.661 471.043 L 218.133 471.275 L 218.603 471.453 L 219.004 471.547 L 219.298 471.488 L 219.555 471.163 L 219.789 470.657 L 220.003 470.076 L 220.204 469.521 L 220.395 469.095 L 220.581 468.903 L 220.764 468.977 L 220.939 469.232 L 221.107 469.631 L 221.269 470.14 L 221.426 470.724 L 221.579 471.348 L 221.729 471.977 L 221.877 472.577 L 222.024 473.112 L 222.171 473.547 L 222.318 473.849 L 222.468 473.982 L 222.614 473.913 L 222.749 473.653 L 222.876 473.241 L 222.998 472.715 L 223.119 472.116 L 223.243 471.482 L 223.373 470.852 L 223.514 470.266 L 223.669 469.763 L 223.841 469.383 L 224.034 469.163 L 224.259 469.145 L 224.577 469.332 L 224.969 469.651 L 225.398 470.019 L 225.825 470.353 L 226.215 470.57 L 226.537 470.575 L 226.831 470.256 L 227.109 469.748 L 227.367 469.22 L 227.602 468.845 L 227.812 468.776 L 228.004 468.908 L 228.182 469.174 L 228.348 469.553 L 228.504 470.025 L 228.652 470.568 L 228.795 471.161 L 228.933 471.784 L 229.07 472.415 L 229.208 473.034 L 229.347 473.619 L 229.492 474.15 L 229.643 474.605 L 229.803 474.964 L 229.974 475.206 L 230.158 475.31 L 230.357 475.219 L 230.574 474.898 L 230.804 474.42 L 231.045 473.861 L 231.292 473.297 L 231.542 472.801 L 231.793 472.451 L 232.04 472.32 L 232.283 472.46 L 232.526 472.817 L 232.771 473.313 L 233.018 473.866 L 233.271 474.398 L 233.53 474.828 L 233.797 475.078 L 234.075 475.077 L 234.372 474.857 L 234.683 474.483 L 235.002 474.019 L 235.324 473.528 L 235.642 473.072 L 235.951 472.715 L 236.245 472.519 L 236.518 472.551 L 236.766 472.828 L 237 473.275 L 237.227 473.815 L 237.458 474.367 L 237.703 474.854 L 237.97 475.195 L 238.27 475.311 L 238.647 475.083 L 239.054 474.785 L 239.408 474.816 L 239.732 475.134 L 240.042 475.591 L 240.346 476.049 L 240.654 476.369 L 240.975 476.421 L 241.307 476.222 L 241.645 475.863 L 241.986 475.423 L 242.324 474.981 L 242.658 474.617 L 242.982 474.411 L 243.291 474.426 L 243.582 474.629 L 243.86 474.967 L 244.133 475.391 L 244.41 475.854 L 244.698 476.306 L 245.005 476.701 L 245.338 476.988 L 245.711 477.202 L 246.124 477.412 L 246.561 477.594 L 247.007 477.72 L 247.445 477.765 L 247.886 477.74 L 248.338 477.673 L 248.794 477.574 L 249.242 477.45 L 249.672 477.312 L 250.076 477.165 L 250.452 476.924 L 250.81 476.573 L 251.156 476.185 L 251.495 475.832 L 251.833 475.586 L 252.175 475.521 L 252.511 475.725 L 252.84 476.114 L 253.172 476.549 L 253.516 476.889 L 253.879 476.995 L 254.278 476.79 L 254.691 476.512 L 255.084 476.455 L 255.462 476.656 L 255.833 477 L 256.198 477.388 L 256.557 477.719 L 256.912 477.893 L 257.263 477.847 L 257.608 477.64 L 257.948 477.314 L 258.285 476.911 L 258.619 476.471 L 258.952 476.033 L 259.285 475.64 L 259.62 475.33 L 259.956 475.145 L 260.296 475.125 L 260.628 475.288 L 260.957 475.589 L 261.284 475.975 L 261.617 476.394 L 261.958 476.794 L 262.313 477.123 L 262.685 477.327 L 263.083 477.398 L 263.513 477.45 L 263.965 477.495 L 264.429 477.529 L 264.896 477.553 L 265.356 477.562 L 265.807 477.559 L 266.259 477.55 L 266.703 477.557 L 267.135 477.673 L 267.563 477.859 L 267.991 478.032 L 268.424 478.11 L 268.867 478.088 L 269.318 478.031 L 269.773 477.954 L 270.227 477.871 L 270.676 477.797 L 271.117 477.748 L 271.543 477.741 L 271.954 477.85 L 272.352 478.063 L 272.744 478.335 L 273.137 478.617 L 273.537 478.862 L 273.949 479.025 L 274.384 479.098 L 274.845 479.159 L 275.309 479.206 L 275.75 479.232 L 276.147 479.187 L 276.502 478.915 L 276.844 478.54 L 277.198 478.216 L 277.595 478.079 L 278.056 478.027 L 278.527 477.986 L 278.944 477.92 L 279.297 477.727 L 279.621 477.377 L 279.923 476.935 L 280.212 476.462 L 280.495 476.023 L 280.781 475.681 L 281.078 475.499 L 281.398 475.536 L 281.745 475.774 L 282.092 476.141 L 282.41 476.562 L 282.672 476.964 L 282.862 477.411 L 283.009 477.96 L 283.149 478.472 L 283.318 478.805 L 283.555 478.835 L 283.901 478.643 L 284.323 478.354 L 284.778 478.078 L 285.224 477.928 L 285.644 477.953 L 286.07 478.06 L 286.501 478.214 L 286.937 478.386 L 287.376 478.543 L 287.816 478.654 L 288.259 478.713 L 288.706 478.766 L 289.156 478.811 L 289.607 478.843 L 290.057 478.859 L 290.504 478.838 L 290.951 478.764 L 291.398 478.691 L 291.844 478.682 L 292.294 478.776 L 292.734 478.857 L 293.153 478.783 L 293.558 478.543 L 293.955 478.246 L 294.351 478.003 L 294.751 477.925 L 295.157 478.032 L 295.566 478.259 L 295.975 478.548 L 296.381 478.843 L 296.781 479.087 L 297.173 479.223 L 297.551 479.182 L 297.912 478.932 L 298.264 478.563 L 298.617 478.174 L 298.98 477.866 L 299.363 477.735 L 299.772 477.788 L 300.202 477.92 L 300.644 478.084 L 301.091 478.229 L 301.535 478.308 L 301.981 478.347 L 302.433 478.374 L 302.886 478.397 L 303.338 478.421 L 303.785 478.456 L 304.226 478.509 L 304.66 478.611 L 305.091 478.751 L 305.519 478.904 L 305.948 479.05 L 306.376 479.211 L 306.802 479.398 L 307.228 479.579 L 307.654 479.722 L 308.082 479.794 L 308.513 479.766 L 308.946 479.646 L 309.381 479.475 L 309.816 479.292 L 310.249 479.138 L 310.679 479.053 L 311.105 479.077 L 311.526 479.207 L 311.943 479.407 L 312.359 479.639 L 312.777 479.868 L 313.199 480.054 L 313.626 480.16 L 314.067 480.165 L 314.53 480.122 L 314.985 480.052 L 315.394 479.963 L 315.761 479.752 L 316.102 479.412 L 316.426 479.001 L 316.742 478.577 L 317.059 478.198 L 317.387 477.923 L 317.733 477.81 L 318.098 477.897 L 318.472 478.136 L 318.855 478.457 L 319.247 478.792 L 319.647 479.07 L 320.055 479.224 L 320.475 479.21 L 320.912 479.107 L 321.36 478.977 L 321.809 478.879 L 322.252 478.87 L 322.693 478.958 L 323.133 479.087 L 323.574 479.198 L 324.019 479.234 L 324.472 479.214 L 324.926 479.181 L 325.37 479.161 L 325.794 479.246 L 326.203 479.485 L 326.612 479.72 L 327.034 479.797 L 327.471 479.775 L 327.916 479.73 L 328.367 479.674 L 328.822 479.616 L 329.276 479.568 L 329.728 479.539 L 330.175 479.543 L 330.621 479.593 L 331.065 479.677 L 331.51 479.775 L 331.954 479.871 L 332.399 479.946 L 332.845 479.984 L 333.292 479.976 L 333.741 479.943 L 334.19 479.898 L 334.64 479.851 L 335.089 479.814 L 335.538 479.798 L 335.987 479.812 L 336.435 479.853 L 336.883 479.909 L 337.33 479.97 L 337.775 480.045 L 338.218 480.139 L 338.663 480.172 L 339.117 480.171 L 339.578 480.167 L 340.043 480.162 L 340.51 480.154 L 340.974 480.144 L 341.433 480.131 L 341.884 480.116 L 342.323 480.098 L 342.747 480.078 L 343.152 480.049 L 343.533 479.862 L 343.897 479.526 L 344.251 479.144 L 344.608 478.82 L 344.975 478.658 L 345.356 478.725 L 345.741 478.954 L 346.132 479.265 L 346.529 479.578 L 346.931 479.813 L 347.34 479.891 L 347.758 479.855 L 348.182 479.77 L 348.613 479.648 L 349.049 479.498 L 349.489 479.334 L 349.931 479.165 L 350.375 479.004 L 350.818 478.861 L 351.26 478.748 L 351.7 478.675 L 352.136 478.655 L 352.57 478.71 L 353.003 478.832 L 353.435 478.996 L 353.867 479.178 L 354.3 479.354 L 354.733 479.5 L 355.166 479.591 L 355.601 479.605 L 356.038 479.542 L 356.477 479.423 L 356.916 479.272 L 357.355 479.109 L 357.793 478.957 L 358.229 478.837 L 358.661 478.772 L 359.088 478.798 L 359.508 478.953 L 359.926 479.177 L 360.344 479.404 L 360.766 479.568 L 361.196 479.604 L 361.638 479.51 L 362.083 479.384 L 362.521 479.33 L 362.946 479.431 L 363.365 479.639 L 363.782 479.867 L 364.203 480.03 L 364.635 480.056 L 365.073 480.018 L 365.516 479.951 L 365.963 479.867 L 366.413 479.778 L 366.863 479.697 L 367.313 479.637 L 367.763 479.61 L 368.21 479.614 L 368.659 479.628 L 369.107 479.651 L 369.557 479.68 L 370.006 479.714 L 370.456 479.75 L 370.905 479.788 L 371.355 479.824 L 371.805 479.858 L 372.254 479.887 L 372.704 479.913 L 373.155 479.941 L 373.606 479.971 L 374.058 480.001 L 374.51 480.031 L 374.962 480.06 L 375.413 480.087 L 375.864 480.112 L 376.313 480.133 L 376.761 480.151 L 377.208 480.164 L 377.653 480.171 L 378.095 480.169 L 378.535 480.113 L 378.973 480.006 L 379.408 479.862 L 379.842 479.698 L 380.276 479.532 L 380.71 479.378 L 381.144 479.255 L 381.58 479.178 L 382.018 479.163 L 382.461 479.215 L 382.91 479.317 L 383.359 479.448 L 383.807 479.59 L 384.25 479.724 L 384.684 479.829 L 385.107 479.886 L 385.517 479.862 L 385.917 479.706 L 386.309 479.449 L 386.695 479.127 L 387.075 478.775 L 387.452 478.432 L 387.825 478.133 L 388.197 477.914 L 388.569 477.813 L 388.937 477.873 L 389.298 478.095 L 389.653 478.428 L 390.006 478.818 L 390.361 479.213 L 390.72 479.559 L 391.087 479.802 L 391.466 479.891 L 391.856 479.826 L 392.255 479.659 L 392.663 479.424 L 393.076 479.154 L 393.493 478.881 L 393.912 478.639 L 394.332 478.459 L 394.749 478.375 L 395.164 478.404 L 395.58 478.52 L 395.997 478.699 L 396.415 478.92 L 396.834 479.161 L 397.254 479.398 L 397.676 479.611 L 398.099 479.778 L 398.524 479.875 L 398.951 479.886 L 399.382 479.832 L 399.816 479.73 L 400.253 479.593 L 400.691 479.431 L 401.13 479.258 L 401.569 479.083 L 402.007 478.919 L 402.443 478.777 L 402.875 478.67 L 403.304 478.608 L 403.727 478.608 L 404.144 478.706 L 404.555 478.887 L 404.963 479.122 L 405.369 479.385 L 405.777 479.647 L 406.187 479.882 L 406.602 480.063 L 407.024 480.162 L 407.456 480.155 L 407.898 480.068 L 408.346 479.96 L 408.793 479.894 L 409.237 479.916 L 409.682 480.002 L 410.127 480.115 L 410.57 480.221 L 411.011 480.281 L 411.449 480.26 L 411.883 480.152 L 412.314 479.99 L 412.745 479.81 L 413.176 479.645 L 413.61 479.53 L 414.048 479.498 L 414.489 479.52 L 414.933 479.567 L 415.378 479.632 L 415.825 479.71 L 416.272 479.793 L 416.721 479.875 L 417.17 479.949 L 417.619 480.009 L 418.068 480.048 L 418.516 480.06 L 418.965 480.056 L 419.415 480.046 L 419.866 480.03 L 420.317 480.01 L 420.77 479.987 L 421.223 479.959 L 421.676 479.93 L 422.129 479.898 L 422.583 479.865 L 423.036 479.831 L 423.488 479.798 L 423.94 479.765 L 424.39 479.733 L 424.84 479.704 L 425.289 479.678 L 425.736 479.654 L 426.181 479.636 L 426.624 479.621 L 427.066 479.613 L 427.505 479.611 L 427.939 479.688 L 428.369 479.851 L 428.796 480.042 L 429.225 480.206 L 429.659 480.284 L 430.099 480.264 L 430.542 480.201 L 430.988 480.113 L 431.436 480.021 L 431.884 479.943 L 432.332 479.896 L 432.779 479.895 L 433.226 479.917 L 433.674 479.956 L 434.122 480.005 L 434.571 480.062 L 435.019 480.121 L 435.468 480.177 L 435.917 480.225 L 436.366 480.262 L 436.815 480.283 L 437.264 480.284 L 437.713 480.28 L 438.163 480.273 L 438.613 480.263 L 439.062 480.251 L 439.513 480.237 L 439.963 480.223 L 440.413 480.208 L 440.863 480.194 L 441.313 480.18 L 441.764 480.169 L 442.214 480.159 L 442.664 480.153 L 443.114 480.15 L 443.564 480.151 L 444.014 480.155 L 444.464 480.161 L 444.914 480.17 L 445.364 480.18 L 445.814 480.192 L 446.264 480.204 L 446.714 480.217 L 447.164 480.23 L 447.614 480.243 L 448.064 480.254 L 448.514 480.265 L 448.964 480.274 L 449.414 480.28 L 449.864 480.284 L 450.314 480.287 L 450.764 480.289 L 451.214 480.291 L 451.664 480.292 L 452.114 480.294 L 452.564 480.296 L 453.014 480.298 L 453.464 480.3 L 453.914 480.302 L 454.364 480.303 L 454.814 480.305 L 455.264 480.307 L 455.714 480.308 L 456.164 480.31 L 456.614 480.312 L 457.064 480.313 L 457.514 480.315 L 457.964 480.316 L 458.414 480.317 L 458.865 480.319 L 459.315 480.32 L 459.765 480.322 L 460.215 480.323 L 460.665 480.324 L 461.115 480.326 L 461.565 480.327 L 462.015 480.328 L 462.465 480.329 L 462.915 480.33 L 463.365 480.332 L 463.815 480.333 L 464.265 480.334 L 464.715 480.335 L 465.166 480.336 L 465.616 480.337 L 466.066 480.338 L 466.516 480.339 L 466.966 480.34 L 467.416 480.341 L 467.866 480.342 L 468.316 480.343 L 468.766 480.344 L 469.216 480.345 L 469.666 480.345 L 470.116 480.346 L 470.566 480.347 L 471.017 480.348 L 471.467 480.349 L 471.917 480.349 L 472.367 480.35 L 472.817 480.351 L 473.267 480.352 L 473.717 480.352 L 474.167 480.353 L 474.617 480.354 L 475.067 480.354 L 475.517 480.355 L 475.968 480.356 L 476.418 480.356 L 476.868 480.357 L 477.318 480.357 L 477.768 480.358 L 478.218 480.358 L 478.668 480.359 L 479.118 480.36 L 479.568 480.36 L 480.018 480.361 L 480.469 480.361 L 480.919 480.362 L 481.369 480.362 L 481.819 480.363 L 482.269 480.363 L 482.719 480.364 L 483.169 480.364 L 483.619 480.364 L 484.069 480.365 L 484.519 480.365 L 484.969 480.366 L 485.42 480.366 L 485.87 480.367 L 486.32 480.367 L 486.77 480.367 L 487.22 480.368 L 487.67 480.368 L 488.12 480.369 L 488.57 480.369 L 489.02 480.37 L 489.47 480.37 L 489.92 480.37 L 490.371 480.371 L 490.821 480.371 L 491.271 480.372 L 491.721 480.372 L 492.171 480.372 L 492.621 480.373 L 493.071 480.373 L 493.521 480.374 L 493.971 480.374 L 494.421 480.374 L 494.871 480.375 L 495.321 480.375 L 495.772 480.376 L 496.222 480.376 L 496.672 480.377 L 497.122 480.377 L 497.572 480.377 L 498.022 480.378 L 498.472 480.378 L 498.922 480.379 L 499.372 480.379 L 499.822 480.38 L 500.272 480.38 L 500.722 480.38 L 501.172 480.381 L 501.623 480.381 L 502.073 480.382 L 502.523 480.382 L 502.973 480.382 L 503.423 480.383 L 503.873 480.383 L 504.323 480.384 L 504.773 480.384 L 505.223 480.385 L 505.673 480.385 L 506.123 480.385 L 506.573 480.386 L 507.023 480.386 L 507.474 480.387 L 507.924 480.387 L 508.374 480.387 L 508.824 480.388 L 509.274 480.388 L 509.724 480.389 L 510.174 480.389 L 510.624 480.389 L 511.074 480.39 L 511.524 480.39 L 511.974 480.391 L 512.424 480.391 L 512.874 480.391 L 513.324 480.392 L 513.775 480.392 L 514.225 480.393 L 514.675 480.393 L 515.125 480.393 L 515.575 480.394 L 516.025 480.394 L 516.475 480.395 L 516.925 480.395 L 517.375 480.395 L 517.825 480.396 L 518.275 480.396 L 518.725 480.397 L 519.175 480.397 L 519.626 480.397 L 520.076 480.398 L 520.526 480.398 L 520.976 480.398 L 521.426 480.399 L 521.876 480.399 L 522.326 480.4 L 522.776 480.4 L 523.226 480.4 L 523.676 480.401 L 524.126 480.401 L 524.576 480.401 L 525.026 480.402 L 525.477 480.402 L 525.927 480.403 L 526.377 480.403 L 526.827 480.403 L 527.277 480.404 L 527.727 480.404 L 528.177 480.404 L 528.627 480.405 L 529.077 480.405 L 529.527 480.406 L 529.977 480.406 L 530.427 480.406 L 530.877 480.407 L 531.328 480.407 L 531.778 480.407 L 532.228 480.408 L 532.678 480.408 L 533.128 480.408 L 533.578 480.409 L 534.028 480.409 L 534.478 480.41 L 534.928 480.41 L 535.378 480.41 L 535.828 480.411 L 536.278 480.411 L 536.728 480.411 L 537.179 480.412 L 537.629 480.412 L 538.079 480.412 L 538.529 480.413 L 538.979 480.413 L 539.429 480.413 L 539.879 480.414 L 540.329 480.414 L 540.779 480.414 L 541.229 480.415 L 541.679 480.415 L 542.129 480.415 L 542.579 480.416 L 543.03 480.416 L 543.48 480.416 L 543.93 480.417 L 544.38 480.417 L 544.83 480.417 L 545.28 480.418 L 545.73 480.418 L 546.18 480.418 L 546.63 480.419 L 547.08 480.419 L 547.53 480.419 L 547.98 480.42 L 548.43 480.42 L 548.881 480.42 L 549.331 480.421 L 549.781 480.421 L 550.231 480.421 L 550.681 480.422 L 551.131 480.422 L 551.581 480.422 L 552.031 480.423 L 552.481 480.423 L 552.931 480.423 L 553.381 480.424 L 553.831 480.424 L 554.281 480.424 L 554.732 480.425 L 555.182 480.425 L 555.632 480.425 L 556.082 480.426 L 556.532 480.426 L 556.982 480.426 L 557.432 480.426 L 557.882 480.427 L 558.332 480.427 L 558.782 480.427 L 559.232 480.428 L 559.682 480.428 L 560.132 480.428 L 560.583 480.429 L 561.033 480.429 L 561.483 480.429 L 561.933 480.429 L 562.383 480.43 L 562.833 480.43 L 563.283 480.43 L 563.733 480.431 L 564.183 480.431 L 564.633 480.431 L 565.083 480.431 L 565.533 480.432 L 565.983 480.432 L 566.434 480.432 L 566.884 480.433 L 567.334 480.433 L 567.784 480.433 L 568.234 480.433 L 568.684 480.434 L 569.134 480.434 L 569.584 480.434 L 570.034 480.435 L 570.484 480.435 L 570.934 480.435 L 571.384 480.435 L 571.834 480.436 L 572.285 480.436 L 572.735 480.436 L 573.185 480.437 L 573.635 480.437 L 574.085 480.437 L 574.535 480.437 L 574.985 480.438 L 575.435 480.438 L 575.885 480.438 L 576.335 480.438 L 576.785 480.439 L 577.235 480.439 L 577.685 480.439 L 578.136 480.439 L 578.586 480.44 L 579.036 480.44 L 579.486 480.44 L 579.936 480.44 L 580.386 480.441 L 580.836 480.441 L 581.286 480.441 L 581.736 480.441 L 582.186 480.442 L 582.636 480.442 L 583.086 480.442 L 583.536 480.442 L 583.987 480.443 L 584.437 480.443 L 584.887 480.443 L 585.337 480.443 L 585.787 480.444 L 586.237 480.444 L 586.687 480.444 L 587.137 480.444 L 587.587 480.445 L 588.037 480.445 L 588.487 480.445 L 588.937 480.445 L 589.387 480.445 L 589.838 480.446 L 590.288 480.446 L 590.738 480.446 L 591.188 480.446 L 591.638 480.447 L 592.088 480.447 L 592.538 480.447 L 592.988 480.447 L 593.438 480.447 L 593.888 480.448 L 594.338 480.448 L 594.788 480.448 L 595.238 480.448 L 595.689 480.449 L 596.139 480.449 L 596.589 480.449 L 597.039 480.449 L 597.489 480.449 L 597.939 480.45 L 598.389 480.45 L 598.839 480.45 L 599.289 480.45 L 599.739 480.45 L 600.189 480.451 L 600.639 480.451 L 601.089 480.451 L 601.54 480.451 L 601.99 480.451 L 602.44 480.452 L 602.89 480.452 L 603.34 480.452 L 603.79 480.452 L 604.24 480.452 L 604.69 480.452 L 605.14 480.453 L 605.59 480.453 L 606.04 480.453 L 606.49 480.453 L 606.94 480.453 L 607.391 480.454 L 607.841 480.454 L 608.291 480.454 L 608.741 480.454 L 609.191 480.454 L 609.641 480.454 L 610.091 480.455 L 610.541 480.455 L 610.991 480.455 L 611.441 480.455 L 611.891 480.455 L 612.341 480.455 L 612.792 480.456 L 613.242 480.456 L 613.692 480.456 L 614.142 480.456 L 614.592 480.456 L 615.042 480.456 L 615.492 480.457 L 615.942 480.457 L 616.392 480.457 L 616.842 480.457 L 617.292 480.457 L 617.742 480.457 L 618.192 480.457 L 618.643 480.458 L 619.093 480.458 L 619.543 480.458 L 619.993 480.458 L 620.443 480.458 L 620.893 480.458 L 621.343 480.458 L 621.793 480.459 L 622.243 480.459 L 622.693 480.459 L 623.143 480.459 L 623.593 480.459 L 624.043 480.459 L 624.494 480.459 L 624.944 480.46 L 625.394 480.46 L 625.844 480.46 L 626.294 480.46 L 626.744 480.46 L 627.194 480.46 L 627.644 480.46 L 628.094 480.46 L 628.544 480.46 L 628.994 480.461 L 629.444 480.461 L 629.894 480.461 L 630.345 480.461 L 630.795 480.461 L 631.245 480.461 L 631.695 480.461 L 632.145 480.461 L 632.595 480.461 L 633.045 480.462 L 633.495 480.462 L 633.945 480.462 L 634.395 480.462 L 634.845 480.462 L 635.295 480.462 L 635.745 480.462 L 636.196 480.462 L 636.646 480.462 L 637.096 480.462 L 637.546 480.462 L 637.996 480.463 L 638.446 480.463 L 638.896 480.463 L 639.346 480.463 L 639.796 480.463 L 640.246 480.463 L 640.696 480.463 L 641.146 480.463 L 641.596 480.463 L 642.047 480.463 L 642.497 480.463 L 642.947 480.463 L 643.397 480.463 L 643.847 480.464 L 644.297 480.464 L 644.747 480.464 L 645.197 480.464 L 645.647 480.464 L 646.097 480.464 L 646.547 480.464 L 646.997 480.464 L 647.447 480.464 L 647.898 480.464 L 648.348 480.464 L 648.798 480.464 L 649.248 480.464 L 649.698 480.464 L 650.148 480.464 L 650.598 480.464 L 651.048 480.464 L 651.498 480.464 L 651.948 480.465 L 652.398 480.465 L 652.848 480.465 L 653.298 480.465 L 653.749 480.465 L 654.199 480.465 L 654.649 480.465 L 655.099 480.465 L 655.549 480.465 L 655.999 480.465 L 656.449 480.465 L 656.899 480.465 L 657.349 480.465 L 657.799 480.465 L 658.249 480.465 L 658.699 480.465 L 659.149 480.465 L 659.6 480.465 L 660.05 480.465 L 660.5 480.465 L 660.95 480.465 L 661.4 480.465 L 661.85 480.465 L 662.3 480.465 L 662.75 480.465 L 663.2 480.465 L 663.3 480.465 " clip-path="url(#pf3e7a543b4)" style="fill: none; stroke: #0000ff; stroke-width: 3; stroke-linecap: square"/>
</g>
<g id="line2d_17">
<path d="M 151.562 45 L 151.565 45.675 L 151.568 46.35 L 151.57 47.025 L 151.573 47.7 L 151.576 48.375 L 151.579 49.05 L 151.581 49.725 L 151.584 50.4 L 151.587 51.075 L 151.59 51.75 L 151.593 52.425 L 151.596 53.1 L 151.599 53.775 L 151.602 54.45 L 151.605 55.125 L 151.608 55.8 L 151.611 56.475 L 151.614 57.15 L 151.617 57.825 L 151.62 58.5 L 151.623 59.175 L 151.626 59.85 L 151.629 60.525 L 151.633 61.2 L 151.636 61.875 L 151.639 62.55 L 151.642 63.225 L 151.646 63.9 L 151.649 64.575 L 151.652 65.25 L 151.656 65.925 L 151.659 66.6 L 151.663 67.275 L 151.666 67.95 L 151.67 68.625 L 151.673 69.3 L 151.677 69.975 L 151.68 70.65 L 151.684 71.325 L 151.688 72 L 151.691 72.675 L 151.695 73.35 L 151.699 74.025 L 151.703 74.7 L 151.706 75.375 L 151.71 76.05 L 151.714 76.725 L 151.718 77.4 L 151.722 78.075 L 151.726 78.75 L 151.73 79.425 L 151.734 80.1 L 151.737 80.775 L 151.741 81.45 L 151.745 82.125 L 151.749 82.8 L 151.753 83.475 L 151.757 84.15 L 151.761 84.824 L 151.765 85.499 L 151.769 86.174 L 151.773 86.849 L 151.776 87.524 L 151.78 88.199 L 151.784 88.874 L 151.788 89.549 L 151.792 90.224 L 151.796 90.899 L 151.8 91.574 L 151.803 92.249 L 151.807 92.924 L 151.811 93.599 L 151.815 94.274 L 151.819 94.949 L 151.823 95.624 L 151.827 96.299 L 151.83 96.974 L 151.834 97.649 L 151.838 98.324 L 151.842 98.999 L 151.846 99.674 L 151.85 100.349 L 151.853 101.024 L 151.857 101.699 L 151.861 102.374 L 151.865 103.049 L 151.869 103.724 L 151.873 104.399 L 151.877 105.074 L 151.88 105.749 L 151.884 106.424 L 151.888 107.099 L 151.892 107.774 L 151.896 108.449 L 151.9 109.124 L 151.904 109.799 L 151.908 110.474 L 151.911 111.149 L 151.915 111.824 L 151.919 112.499 L 151.923 113.174 L 151.927 113.849 L 151.931 114.524 L 151.935 115.199 L 151.939 115.874 L 151.943 116.549 L 151.947 117.224 L 151.951 117.899 L 151.955 118.574 L 151.959 119.249 L 151.963 119.924 L 151.967 120.599 L 151.971 121.274 L 151.975 121.949 L 151.979 122.624 L 151.983 123.299 L 151.987 123.974 L 151.991 124.649 L 151.996 125.324 L 152 125.999 L 152.004 126.674 L 152.008 127.349 L 152.012 128.024 L 152.016 128.699 L 152.021 129.374 L 152.025 130.049 L 152.029 130.724 L 152.033 131.399 L 152.038 132.074 L 152.042 132.749 L 152.046 133.424 L 152.05 134.099 L 152.055 134.774 L 152.059 135.449 L 152.064 136.124 L 152.068 136.799 L 152.072 137.474 L 152.077 138.149 L 152.081 138.824 L 152.086 139.499 L 152.09 140.174 L 152.095 140.849 L 152.099 141.524 L 152.104 142.198 L 152.108 142.873 L 152.113 143.548 L 152.118 144.223 L 152.122 144.898 L 152.127 145.573 L 152.132 146.248 L 152.136 146.923 L 152.141 147.598 L 152.146 148.273 L 152.151 148.948 L 152.155 149.623 L 152.161 150.298 L 152.166 150.973 L 152.171 151.648 L 152.176 152.323 L 152.181 152.998 L 152.187 153.673 L 152.192 154.348 L 152.198 155.023 L 152.204 155.698 L 152.21 156.373 L 152.215 157.048 L 152.221 157.723 L 152.227 158.398 L 152.233 159.073 L 152.239 159.748 L 152.245 160.423 L 152.252 161.098 L 152.258 161.773 L 152.264 162.448 L 152.271 163.123 L 152.277 163.798 L 152.283 164.473 L 152.29 165.148 L 152.296 165.823 L 152.303 166.498 L 152.309 167.173 L 152.316 167.848 L 152.323 168.523 L 152.329 169.198 L 152.336 169.873 L 152.343 170.548 L 152.349 171.222 L 152.356 171.897 L 152.363 172.572 L 152.369 173.247 L 152.376 173.922 L 152.383 174.597 L 152.389 175.272 L 152.396 175.947 L 152.402 176.622 L 152.409 177.297 L 152.416 177.972 L 152.422 178.647 L 152.429 179.322 L 152.435 179.997 L 152.442 180.672 L 152.448 181.347 L 152.455 182.022 L 152.461 182.697 L 152.468 183.372 L 152.474 184.047 L 152.48 184.722 L 152.486 185.397 L 152.493 186.072 L 152.499 186.747 L 152.505 187.422 L 152.511 188.097 L 152.517 188.772 L 152.523 189.447 L 152.528 190.122 L 152.534 190.797 L 152.54 191.472 L 152.545 192.147 L 152.551 192.822 L 152.556 193.497 L 152.562 194.172 L 152.567 194.847 L 152.572 195.522 L 152.577 196.197 L 152.582 196.871 L 152.587 197.546 L 152.592 198.221 L 152.596 198.896 L 152.601 199.571 L 152.605 200.246 L 152.609 200.921 L 152.614 201.596 L 152.618 202.271 L 152.622 202.946 L 152.625 203.621 L 152.629 204.296 L 152.633 204.971 L 152.636 205.646 L 152.639 206.321 L 152.642 206.996 L 152.645 207.671 L 152.648 208.346 L 152.651 209.021 L 152.654 209.696 L 152.656 210.371 L 152.659 211.046 L 152.661 211.721 L 152.663 212.396 L 152.666 213.071 L 152.668 213.746 L 152.67 214.421 L 152.672 215.096 L 152.674 215.771 L 152.676 216.446 L 152.677 217.121 L 152.679 217.796 L 152.681 218.471 L 152.683 219.146 L 152.685 219.821 L 152.687 220.496 L 152.688 221.171 L 152.69 221.846 L 152.692 222.521 L 152.694 223.196 L 152.696 223.871 L 152.698 224.546 L 152.7 225.221 L 152.702 225.896 L 152.704 226.571 L 152.706 227.246 L 152.708 227.921 L 152.71 228.596 L 152.713 229.271 L 152.715 229.946 L 152.718 230.621 L 152.721 231.296 L 152.723 231.971 L 152.726 232.646 L 152.729 233.321 L 152.732 233.996 L 152.736 234.671 L 152.739 235.346 L 152.743 236.021 L 152.746 236.696 L 152.75 237.371 L 152.754 238.046 L 152.758 238.721 L 152.762 239.396 L 152.766 240.071 L 152.77 240.746 L 152.775 241.421 L 152.779 242.096 L 152.784 242.771 L 152.789 243.446 L 152.793 244.121 L 152.798 244.796 L 152.803 245.471 L 152.808 246.146 L 152.814 246.821 L 152.819 247.496 L 152.824 248.171 L 152.83 248.846 L 152.835 249.521 L 152.841 250.196 L 152.847 250.871 L 152.853 251.546 L 152.859 252.221 L 152.865 252.896 L 152.871 253.571 L 152.877 254.246 L 152.883 254.921 L 152.89 255.596 L 152.896 256.271 L 152.903 256.946 L 152.91 257.621 L 152.917 258.296 L 152.924 258.971 L 152.931 259.646 L 152.938 260.321 L 152.945 260.996 L 152.952 261.671 L 152.96 262.346 L 152.967 263.021 L 152.975 263.696 L 152.982 264.371 L 152.99 265.046 L 152.998 265.721 L 153.006 266.396 L 153.014 267.071 L 153.022 267.746 L 153.03 268.421 L 153.038 269.096 L 153.046 269.771 L 153.055 270.446 L 153.063 271.12 L 153.072 271.795 L 153.081 272.47 L 153.089 273.145 L 153.098 273.82 L 153.107 274.495 L 153.116 275.17 L 153.125 275.845 L 153.134 276.52 L 153.143 277.195 L 153.153 277.87 L 153.162 278.545 L 153.171 279.22 L 153.181 279.895 L 153.191 280.57 L 153.2 281.245 L 153.21 281.92 L 153.22 282.595 L 153.23 283.27 L 153.24 283.945 L 153.25 284.62 L 153.26 285.295 L 153.27 285.97 L 153.28 286.645 L 153.291 287.32 L 153.301 287.995 L 153.312 288.67 L 153.322 289.345 L 153.333 290.02 L 153.343 290.695 L 153.354 291.37 L 153.365 292.044 L 153.376 292.719 L 153.387 293.394 L 153.398 294.069 L 153.409 294.744 L 153.42 295.419 L 153.431 296.094 L 153.443 296.769 L 153.454 297.444 L 153.465 298.119 L 153.477 298.794 L 153.488 299.469 L 153.5 300.144 L 153.512 300.818 L 153.523 301.493 L 153.535 302.168 L 153.547 302.843 L 153.559 303.518 L 153.571 304.193 L 153.583 304.868 L 153.595 305.543 L 153.607 306.218 L 153.619 306.893 L 153.632 307.567 L 153.644 308.242 L 153.656 308.917 L 153.669 309.592 L 153.681 310.267 L 153.694 310.942 L 153.706 311.617 L 153.719 312.292 L 153.732 312.966 L 153.745 313.641 L 153.757 314.316 L 153.77 314.991 L 153.783 315.666 L 153.796 316.341 L 153.809 317.015 L 153.822 317.69 L 153.835 318.365 L 153.848 319.04 L 153.862 319.715 L 153.875 320.39 L 153.888 321.064 L 153.902 321.739 L 153.915 322.414 L 153.928 323.089 L 153.942 323.764 L 153.955 324.438 L 153.969 325.113 L 153.983 325.788 L 153.996 326.463 L 154.01 327.138 L 154.024 327.812 L 154.037 328.487 L 154.051 329.162 L 154.066 329.837 L 154.08 330.511 L 154.095 331.186 L 154.111 331.861 L 154.126 332.536 L 154.142 333.21 L 154.159 333.885 L 154.175 334.56 L 154.192 335.235 L 154.21 335.909 L 154.227 336.584 L 154.245 337.259 L 154.263 337.934 L 154.282 338.608 L 154.3 339.283 L 154.319 339.958 L 154.339 340.633 L 154.358 341.307 L 154.378 341.982 L 154.398 342.657 L 154.419 343.332 L 154.439 344.006 L 154.46 344.681 L 154.481 345.356 L 154.503 346.03 L 154.524 346.705 L 154.546 347.38 L 154.568 348.055 L 154.59 348.729 L 154.613 349.404 L 154.635 350.079 L 154.658 350.753 L 154.682 351.428 L 154.705 352.103 L 154.728 352.777 L 154.752 353.452 L 154.776 354.127 L 154.8 354.801 L 154.824 355.476 L 154.849 356.15 L 154.873 356.825 L 154.898 357.5 L 154.923 358.174 L 154.948 358.849 L 154.973 359.523 L 154.999 360.198 L 155.024 360.873 L 155.05 361.547 L 155.076 362.222 L 155.102 362.896 L 155.128 363.571 L 155.154 364.245 L 155.18 364.92 L 155.207 365.594 L 155.233 366.269 L 155.26 366.943 L 155.286 367.618 L 155.313 368.292 L 155.34 368.967 L 155.367 369.641 L 155.394 370.315 L 155.421 370.99 L 155.449 371.664 L 155.476 372.339 L 155.503 373.013 L 155.531 373.687 L 155.558 374.362 L 155.585 375.036 L 155.613 375.711 L 155.64 376.385 L 155.668 377.06 L 155.695 377.734 L 155.723 378.409 L 155.751 379.084 L 155.779 379.758 L 155.807 380.433 L 155.835 381.108 L 155.863 381.783 L 155.892 382.457 L 155.921 383.132 L 155.951 383.807 L 155.98 384.481 L 156.01 385.156 L 156.041 385.831 L 156.072 386.505 L 156.103 387.18 L 156.135 387.855 L 156.167 388.529 L 156.199 389.204 L 156.232 389.878 L 156.266 390.552 L 156.3 391.227 L 156.335 391.901 L 156.371 392.575 L 156.407 393.249 L 156.443 393.923 L 156.481 394.597 L 156.519 395.271 L 156.558 395.945 L 156.598 396.619 L 156.638 397.292 L 156.679 397.966 L 156.721 398.639 L 156.764 399.312 L 156.808 399.985 L 156.853 400.658 L 156.898 401.331 L 156.945 402.004 L 156.993 402.677 L 157.041 403.349 L 157.092 404.022 L 157.147 404.694 L 157.206 405.366 L 157.269 406.038 L 157.336 406.709 L 157.405 407.381 L 157.478 408.052 L 157.552 408.723 L 157.629 409.394 L 157.707 410.065 L 157.786 410.736 L 157.867 411.406 L 157.947 412.077 L 158.028 412.747 L 158.109 413.418 L 158.189 414.088 L 158.268 414.758 L 158.347 415.429 L 158.426 416.1 L 158.505 416.772 L 158.585 417.443 L 158.668 418.114 L 158.752 418.784 L 158.839 419.454 L 158.93 420.123 L 159.024 420.791 L 159.123 421.459 L 159.226 422.124 L 159.335 422.789 L 159.451 423.451 L 159.576 424.114 L 159.71 424.776 L 159.853 425.436 L 160.003 426.096 L 160.16 426.754 L 160.323 427.411 L 160.491 428.066 L 160.664 428.718 L 160.841 429.369 L 161.022 430.017 L 161.21 430.664 L 161.406 431.31 L 161.609 431.955 L 161.821 432.598 L 162.039 433.238 L 162.264 433.877 L 162.495 434.512 L 162.733 435.145 L 162.976 435.774 L 163.224 436.4 L 163.485 437.02 L 163.768 437.631 L 164.066 438.238 L 164.369 438.843 L 164.67 439.449 L 164.96 440.059 L 165.229 440.685 L 165.446 441.481 L 165.665 442.228 L 165.971 442.552 L 166.577 442.516 L 167.321 442.439 L 167.982 442.258 L 168.634 442.06 L 169.297 442.083 L 170 442.33 L 170.573 442.688 L 170.92 443.139 L 171.187 443.798 L 171.352 444.504 L 171.427 445.159 L 171.482 445.823 L 171.523 446.495 L 171.556 447.172 L 171.585 447.853 L 171.615 448.535 L 171.65 449.216 L 171.695 449.892 L 171.753 450.564 L 171.822 451.235 L 171.897 451.906 L 171.977 452.576 L 172.058 453.247 L 172.135 453.918 L 172.207 454.589 L 172.275 455.26 L 172.341 455.932 L 172.405 456.604 L 172.468 457.276 L 172.53 457.948 L 172.591 458.621 L 172.652 459.293 L 172.714 459.965 L 172.776 460.637 L 172.838 461.309 L 172.902 461.981 L 172.968 462.653 L 173.035 463.325 L 173.104 463.996 L 173.172 464.668 L 173.238 465.341 L 173.305 466.013 L 173.372 466.686 L 173.44 467.358 L 173.51 468.031 L 173.582 468.702 L 173.657 469.373 L 173.736 470.044 L 173.819 470.713 L 173.906 471.381 L 173.999 472.048 L 174.098 472.715 L 174.199 473.39 L 174.305 474.072 L 174.42 474.755 L 174.549 475.43 L 174.696 476.092 L 174.867 476.734 L 175.065 477.348 L 175.334 478.015 L 175.723 478.714 L 176.183 479.135 L 176.697 479.14 L 177.316 479.058 L 178.006 478.934 L 178.729 478.791 L 179.449 478.654 L 180.13 478.541 L 180.798 478.422 L 181.468 478.294 L 182.137 478.168 L 182.806 478.057 L 183.474 477.973 L 184.14 477.927 L 184.804 477.939 L 185.466 478.032 L 186.126 478.184 L 186.785 478.368 L 187.442 478.559 L 188.099 478.729 L 188.753 478.905 L 189.403 479.101 L 190.053 479.302 L 190.703 479.494 L 191.356 479.663 L 192.013 479.794 L 192.675 479.882 L 193.342 479.959 L 194.013 480.03 L 194.686 480.093 L 195.361 480.149 L 196.037 480.197 L 196.714 480.236 L 197.39 480.267 L 198.064 480.289 L 198.739 480.307 L 199.413 480.324 L 200.088 480.34 L 200.763 480.354 L 201.438 480.367 L 202.114 480.377 L 202.789 480.386 L 203.464 480.392 L 204.14 480.396 L 204.815 480.398 L 205.49 480.398 L 206.165 480.399 L 206.84 480.399 L 207.515 480.4 L 208.19 480.401 L 208.865 480.401 L 209.54 480.402 L 210.215 480.402 L 210.89 480.403 L 211.565 480.403 L 212.241 480.404 L 212.916 480.404 L 213.591 480.405 L 214.266 480.405 L 214.941 480.405 L 215.616 480.406 L 216.291 480.406 L 216.966 480.407 L 217.641 480.407 L 218.316 480.407 L 218.991 480.408 L 219.667 480.408 L 220.342 480.408 L 221.017 480.409 L 221.692 480.409 L 222.367 480.409 L 223.042 480.41 L 223.717 480.41 L 224.392 480.41 L 225.067 480.411 L 225.742 480.411 L 226.418 480.411 L 227.093 480.411 L 227.768 480.412 L 228.443 480.412 L 229.118 480.412 L 229.793 480.412 L 230.468 480.413 L 231.143 480.413 L 231.819 480.413 L 232.494 480.413 L 233.169 480.414 L 233.844 480.414 L 234.519 480.414 L 235.194 480.414 L 235.869 480.414 L 236.544 480.414 L 237.22 480.415 L 237.895 480.415 L 238.57 480.415 L 239.245 480.415 L 239.92 480.415 L 240.595 480.415 L 241.27 480.415 L 241.946 480.416 L 242.621 480.416 L 243.296 480.416 L 243.971 480.416 L 244.646 480.416 L 245.321 480.416 L 245.996 480.416 L 246.671 480.416 L 247.347 480.417 L 248.022 480.417 L 248.697 480.417 L 249.372 480.417 L 250.047 480.417 L 250.722 480.417 L 251.397 480.417 L 252.073 480.417 L 252.748 480.417 L 253.423 480.417 L 254.098 480.418 L 254.773 480.418 L 255.448 480.418 L 256.123 480.418 L 256.798 480.418 L 257.474 480.418 L 258.149 480.418 L 258.824 480.418 L 259.499 480.418 L 260.174 480.418 L 260.849 480.418 L 261.524 480.419 L 262.2 480.419 L 262.875 480.419 L 263.55 480.419 L 264.225 480.419 L 264.9 480.419 L 265.575 480.419 L 266.25 480.419 L 266.925 480.419 L 267.601 480.42 L 268.276 480.42 L 268.951 480.42 L 269.626 480.42 L 270.301 480.42 L 270.976 480.42 L 271.651 480.42 L 272.326 480.42 L 273.001 480.421 L 273.677 480.421 L 274.352 480.421 L 275.027 480.421 L 275.702 480.421 L 276.377 480.421 L 277.052 480.421 L 277.727 480.422 L 278.402 480.422 L 279.077 480.422 L 279.753 480.422 L 280.428 480.422 L 281.103 480.422 L 281.778 480.422 L 282.453 480.422 L 283.128 480.423 L 283.803 480.423 L 284.478 480.423 L 285.154 480.423 L 285.829 480.423 L 286.504 480.423 L 287.179 480.423 L 287.854 480.423 L 288.529 480.424 L 289.204 480.424 L 289.879 480.424 L 290.554 480.424 L 291.23 480.424 L 291.905 480.424 L 292.58 480.424 L 293.255 480.424 L 293.93 480.425 L 294.605 480.425 L 295.28 480.425 L 295.955 480.425 L 296.63 480.425 L 297.306 480.425 L 297.981 480.425 L 298.656 480.426 L 299.331 480.426 L 300.006 480.426 L 300.681 480.426 L 301.356 480.426 L 302.031 480.426 L 302.707 480.426 L 303.382 480.426 L 304.057 480.427 L 304.732 480.427 L 305.407 480.427 L 306.082 480.427 L 306.757 480.427 L 307.432 480.427 L 308.107 480.427 L 308.783 480.427 L 309.458 480.428 L 310.133 480.428 L 310.808 480.428 L 311.483 480.428 L 312.158 480.428 L 312.833 480.428 L 313.508 480.428 L 314.183 480.428 L 314.859 480.429 L 315.534 480.429 L 316.209 480.429 L 316.884 480.429 L 317.559 480.429 L 318.234 480.429 L 318.909 480.429 L 319.584 480.429 L 320.26 480.429 L 320.935 480.43 L 321.61 480.43 L 322.285 480.43 L 322.96 480.43 L 323.635 480.43 L 324.31 480.43 L 324.985 480.43 L 325.66 480.43 L 326.336 480.431 L 327.011 480.431 L 327.686 480.431 L 328.361 480.431 L 329.036 480.431 L 329.711 480.431 L 330.386 480.431 L 331.061 480.431 L 331.737 480.432 L 332.412 480.432 L 333.087 480.432 L 333.762 480.432 L 334.437 480.432 L 335.112 480.432 L 335.787 480.432 L 336.462 480.432 L 337.137 480.433 L 337.813 480.433 L 338.488 480.433 L 339.163 480.433 L 339.838 480.433 L 340.513 480.433 L 341.188 480.433 L 341.863 480.433 L 342.538 480.433 L 343.213 480.434 L 343.889 480.434 L 344.564 480.434 L 345.239 480.434 L 345.914 480.434 L 346.589 480.434 L 347.264 480.434 L 347.939 480.434 L 348.614 480.435 L 349.29 480.435 L 349.965 480.435 L 350.64 480.435 L 351.315 480.435 L 351.99 480.435 L 352.665 480.435 L 353.34 480.435 L 354.015 480.435 L 354.69 480.436 L 355.366 480.436 L 356.041 480.436 L 356.716 480.436 L 357.391 480.436 L 358.066 480.436 L 358.741 480.436 L 359.416 480.436 L 360.091 480.436 L 360.766 480.437 L 361.442 480.437 L 362.117 480.437 L 362.792 480.437 L 363.467 480.437 L 364.142 480.437 L 364.817 480.437 L 365.492 480.437 L 366.167 480.437 L 366.843 480.438 L 367.518 480.438 L 368.193 480.438 L 368.868 480.438 L 369.543 480.438 L 370.218 480.438 L 370.893 480.438 L 371.568 480.438 L 372.243 480.438 L 372.919 480.439 L 373.594 480.439 L 374.269 480.439 L 374.944 480.439 L 375.619 480.439 L 376.294 480.439 L 376.969 480.439 L 377.644 480.439 L 378.319 480.439 L 378.995 480.44 L 379.67 480.44 L 380.345 480.44 L 381.02 480.44 L 381.695 480.44 L 382.37 480.44 L 383.045 480.44 L 383.72 480.44 L 384.396 480.44 L 385.071 480.441 L 385.746 480.441 L 386.421 480.441 L 387.096 480.441 L 387.771 480.441 L 388.446 480.441 L 389.121 480.441 L 389.796 480.441 L 390.472 480.441 L 391.147 480.442 L 391.822 480.442 L 392.497 480.442 L 393.172 480.442 L 393.847 480.442 L 394.522 480.442 L 395.197 480.442 L 395.872 480.442 L 396.548 480.442 L 397.223 480.442 L 397.898 480.443 L 398.573 480.443 L 399.248 480.443 L 399.923 480.443 L 400.598 480.443 L 401.273 480.443 L 401.949 480.443 L 402.624 480.443 L 403.299 480.443 L 403.974 480.443 L 404.649 480.444 L 405.324 480.444 L 405.999 480.444 L 406.674 480.444 L 407.349 480.444 L 408.025 480.444 L 408.7 480.444 L 409.375 480.444 L 410.05 480.444 L 410.725 480.444 L 411.4 480.445 L 412.075 480.445 L 412.75 480.445 L 413.426 480.445 L 414.101 480.445 L 414.776 480.445 L 415.451 480.445 L 416.126 480.445 L 416.801 480.445 L 417.476 480.445 L 418.151 480.446 L 418.826 480.446 L 419.502 480.446 L 420.177 480.446 L 420.852 480.446 L 421.527 480.446 L 422.202 480.446 L 422.877 480.446 L 423.552 480.446 L 424.227 480.446 L 424.902 480.447 L 425.578 480.447 L 426.253 480.447 L 426.928 480.447 L 427.603 480.447 L 428.278 480.447 L 428.953 480.447 L 429.628 480.447 L 430.303 480.447 L 430.979 480.447 L 431.654 480.448 L 432.329 480.448 L 433.004 480.448 L 433.679 480.448 L 434.354 480.448 L 435.029 480.448 L 435.704 480.448 L 436.379 480.448 L 437.055 480.448 L 437.73 480.448 L 438.405 480.448 L 439.08 480.449 L 439.755 480.449 L 440.43 480.449 L 441.105 480.449 L 441.78 480.449 L 442.455 480.449 L 443.131 480.449 L 443.806 480.449 L 444.481 480.449 L 445.156 480.449 L 445.831 480.449 L 446.506 480.45 L 447.181 480.45 L 447.856 480.45 L 448.532 480.45 L 449.207 480.45 L 449.882 480.45 L 450.557 480.45 L 451.232 480.45 L 451.907 480.45 L 452.582 480.45 L 453.257 480.45 L 453.932 480.45 L 454.608 480.451 L 455.283 480.451 L 455.958 480.451 L 456.633 480.451 L 457.308 480.451 L 457.983 480.451 L 458.658 480.451 L 459.333 480.451 L 460.008 480.451 L 460.684 480.451 L 461.359 480.451 L 462.034 480.452 L 462.709 480.452 L 463.384 480.452 L 464.059 480.452 L 464.734 480.452 L 465.409 480.452 L 466.085 480.452 L 466.76 480.452 L 467.435 480.452 L 468.11 480.452 L 468.785 480.452 L 469.46 480.452 L 470.135 480.453 L 470.81 480.453 L 471.485 480.453 L 472.161 480.453 L 472.836 480.453 L 473.511 480.453 L 474.186 480.453 L 474.861 480.453 L 475.536 480.453 L 476.211 480.453 L 476.886 480.453 L 477.561 480.453 L 478.237 480.453 L 478.912 480.454 L 479.587 480.454 L 480.262 480.454 L 480.937 480.454 L 481.612 480.454 L 482.287 480.454 L 482.962 480.454 L 483.638 480.454 L 484.313 480.454 L 484.988 480.454 L 485.663 480.454 L 486.338 480.454 L 487.013 480.454 L 487.688 480.455 L 488.363 480.455 L 489.038 480.455 L 489.714 480.455 L 490.389 480.455 L 491.064 480.455 L 491.739 480.455 L 492.414 480.455 L 493.089 480.455 L 493.764 480.455 L 494.439 480.455 L 495.115 480.455 L 495.79 480.455 L 496.465 480.456 L 497.14 480.456 L 497.815 480.456 L 498.49 480.456 L 499.165 480.456 L 499.84 480.456 L 500.515 480.456 L 501.191 480.456 L 501.866 480.456 L 502.541 480.456 L 503.216 480.456 L 503.891 480.456 L 504.566 480.456 L 505.241 480.456 L 505.916 480.457 L 506.591 480.457 L 507.267 480.457 L 507.942 480.457 L 508.617 480.457 L 509.292 480.457 L 509.967 480.457 L 510.642 480.457 L 511.317 480.457 L 511.992 480.457 L 512.668 480.457 L 513.343 480.457 L 514.018 480.457 L 514.693 480.457 L 515.368 480.457 L 516.043 480.458 L 516.718 480.458 L 517.393 480.458 L 518.068 480.458 L 518.744 480.458 L 519.419 480.458 L 520.094 480.458 L 520.769 480.458 L 521.444 480.458 L 522.119 480.458 L 522.794 480.458 L 523.469 480.458 L 524.144 480.458 L 524.82 480.458 L 525.495 480.458 L 526.17 480.458 L 526.845 480.459 L 527.52 480.459 L 528.195 480.459 L 528.87 480.459 L 529.545 480.459 L 530.221 480.459 L 530.896 480.459 L 531.571 480.459 L 532.246 480.459 L 532.921 480.459 L 533.596 480.459 L 534.271 480.459 L 534.946 480.459 L 535.621 480.459 L 536.297 480.459 L 536.972 480.459 L 537.647 480.459 L 538.322 480.46 L 538.997 480.46 L 539.672 480.46 L 540.347 480.46 L 541.022 480.46 L 541.697 480.46 L 542.373 480.46 L 543.048 480.46 L 543.723 480.46 L 544.398 480.46 L 545.073 480.46 L 545.748 480.46 L 546.423 480.46 L 547.098 480.46 L 547.774 480.46 L 548.449 480.46 L 549.124 480.46 L 549.799 480.46 L 550.474 480.461 L 551.149 480.461 L 551.824 480.461 L 552.499 480.461 L 553.174 480.461 L 553.85 480.461 L 554.525 480.461 L 555.2 480.461 L 555.875 480.461 L 556.55 480.461 L 557.225 480.461 L 557.9 480.461 L 558.575 480.461 L 559.25 480.461 L 559.926 480.461 L 560.601 480.461 L 561.276 480.461 L 561.951 480.461 L 562.626 480.461 L 563.301 480.461 L 563.976 480.462 L 564.651 480.462 L 565.327 480.462 L 566.002 480.462 L 566.677 480.462 L 567.352 480.462 L 568.027 480.462 L 568.702 480.462 L 569.377 480.462 L 570.052 480.462 L 570.727 480.462 L 571.403 480.462 L 572.078 480.462 L 572.753 480.462 L 573.428 480.462 L 574.103 480.462 L 574.778 480.462 L 575.453 480.462 L 576.128 480.462 L 576.804 480.462 L 577.479 480.462 L 578.154 480.462 L 578.829 480.462 L 579.504 480.462 L 580.179 480.463 L 580.854 480.463 L 581.529 480.463 L 582.204 480.463 L 582.88 480.463 L 583.555 480.463 L 584.23 480.463 L 584.905 480.463 L 585.58 480.463 L 586.255 480.463 L 586.93 480.463 L 587.605 480.463 L 588.28 480.463 L 588.956 480.463 L 589.631 480.463 L 590.306 480.463 L 590.981 480.463 L 591.656 480.463 L 592.331 480.463 L 593.006 480.463 L 593.681 480.463 L 594.357 480.463 L 595.032 480.463 L 595.707 480.463 L 596.382 480.463 L 597.057 480.463 L 597.732 480.463 L 598.407 480.463 L 599.082 480.464 L 599.757 480.464 L 600.433 480.464 L 601.108 480.464 L 601.783 480.464 L 602.458 480.464 L 603.133 480.464 L 603.808 480.464 L 604.483 480.464 L 605.158 480.464 L 605.833 480.464 L 606.509 480.464 L 607.184 480.464 L 607.859 480.464 L 608.534 480.464 L 609.209 480.464 L 609.884 480.464 L 610.559 480.464 L 611.234 480.464 L 611.91 480.464 L 612.585 480.464 L 613.26 480.464 L 613.935 480.464 L 614.61 480.464 L 615.285 480.464 L 615.96 480.464 L 616.635 480.464 L 617.31 480.464 L 617.986 480.464 L 618.661 480.464 L 619.336 480.464 L 620.011 480.464 L 620.686 480.464 L 621.361 480.464 L 622.036 480.464 L 622.711 480.464 L 623.386 480.464 L 624.062 480.464 L 624.737 480.464 L 625.412 480.464 L 626.087 480.464 L 626.762 480.465 L 627.437 480.465 L 628.112 480.465 L 628.787 480.465 L 629.463 480.465 L 630.138 480.465 L 630.813 480.465 L 631.488 480.465 L 632.163 480.465 L 632.838 480.465 L 633.513 480.465 L 634.188 480.465 L 634.863 480.465 L 635.539 480.465 L 636.214 480.465 L 636.889 480.465 L 637.564 480.465 L 638.239 480.465 L 638.914 480.465 L 639.589 480.465 L 640.264 480.465 L 640.939 480.465 L 641.615 480.465 L 642.29 480.465 L 642.965 480.465 L 643.64 480.465 L 644.315 480.465 L 644.99 480.465 L 645.665 480.465 L 646.34 480.465 L 647.016 480.465 L 647.691 480.465 L 648.366 480.465 L 649.041 480.465 L 649.716 480.465 L 650.391 480.465 L 651.066 480.465 L 651.741 480.465 L 652.416 480.465 L 653.092 480.465 L 653.767 480.465 L 654.442 480.465 L 655.117 480.465 L 655.792 480.465 L 656.467 480.465 L 657.142 480.465 L 657.817 480.465 L 658.493 480.465 L 659.168 480.465 L 659.843 480.465 L 660.518 480.465 L 661.193 480.465 L 661.868 480.465 L 662.543 480.465 L 663.218 480.465 L 663.3 480.465 " clip-path="url(#pf3e7a543b4)" style="fill: none; stroke: #ff0000; stroke-width: 3; stroke-linecap: square"/>
</g>
<g id="patch_7">
<path d="M 138.15 480.6 L 138.15 64.8 " style="fill: none; stroke: #000000; stroke-width: 0.8; stroke-linejoin: miter; stroke-linecap: square"/>
</g>
<g id="patch_8">
<path d="M 663.3 480.6 L 663.3 64.8 " style="fill: none; stroke: #000000; stroke-width: 0.8; stroke-linejoin: miter; stroke-linecap: square"/>
</g>
<g id="patch_9">
<path d="M 138.15 480.6 L 663.3 480.6 " style="fill: none; stroke: #000000; stroke-width: 0.8; stroke-linejoin: miter; stroke-linecap: square"/>
</g>
<g id="patch_10">
<path d="M 138.15 64.8 L 663.3 64.8 " style="fill: none; stroke: #000000; stroke-width: 0.8; stroke-linejoin: miter; stroke-linecap: square"/>
</g>
<g id="legend_1">
<g id="patch_11">
<path d="M 350.719 170.02 L 450.731 170.02 Q 454.731 170.02 454.731 166.02 L 454.731 78.8 Q 454.731 74.8 450.731 74.8 L 350.719 74.8 Q 346.719 74.8 346.719 78.8 L 346.719 166.02 Q 346.719 170.02 350.719 170.02 z
" style="fill: #ffffff; opacity: 0.8; stroke: #cccccc; stroke-linejoin: miter"/>
</g>
<g id="line2d_18">
<path d="M 354.825 91.575 L 394.875 91.575" style="fill: none; stroke: #00ff00; stroke-width: 3; stroke-linecap: square"/>
</g>
<g id="text_19"/>
<g id="line2d_19">
<path d="M 354.825 121.275 L 394.875 121.275" style="fill: none; stroke: #0000ff; stroke-width: 3; stroke-linecap: square"/>
</g>
<g id="text_20"/>
<g id="line2d_20">
<path d="M 354.825 150.975 L 394.875 150.975" style="fill: none; stroke: #ff0000; stroke-width: 3; stroke-linecap: square"/>
</g>
<g id="text_21"/>
</g>
</g>
<g id="axes_3">
<g id="patch_12">
<path d="M 733.05 480.6 L 753.75 480.6 L 753.75 64.8 L 733.05 64.8 z
" style="fill: #ffffff"/>
</g>
<g shape-rendering="crispEdges" id="cb0">
<path d="M 733.05 480.6 L 753.75 480.6 L 753.75 478.144 L 733.05 478.144 z
" clip-path="url(#pd52060ef54)" style="fill: #ffffff"/>
</g>
<g shape-rendering="crispEdges" id="cb1">
<path d="M 733.05 478.976 L 753.75 478.976 L 753.75 476.52 L 733.05 476.52 z
" clip-path="url(#pd52060ef54)" style="fill: #fdfefe"/>
</g>
<g shape-rendering="crispEdges" id="cb2">
<path d="M 733.05 477.352 L 753.75 477.352 L 753.75 474.896 L 733.05 474.896 z
" clip-path="url(#pd52060ef54)" style="fill: #fbfefc"/>
</g>
<g shape-rendering="crispEdges" id="cb3">
<path d="M 733.05 475.727 L 753.75 475.727 L 753.75 473.272 L 733.05 473.272 z
" clip-path="url(#pd52060ef54)" style="fill: #fafdfb"/>
</g>
<g shape-rendering="crispEdges" id="cb4">
<path d="M 733.05 474.103 L 753.75 474.103 L 753.75 471.647 L 733.05 471.647 z
" clip-path="url(#pd52060ef54)" style="fill: #f8fdfa"/>
</g>
<g shape-rendering="crispEdges" id="cb5">
<path d="M 733.05 472.479 L 753.75 472.479 L 753.75 470.023 L 733.05 470.023 z
" clip-path="url(#pd52060ef54)" style="fill: #f6fcf8"/>
</g>
<g shape-rendering="crispEdges" id="cb6">
<path d="M 733.05 470.855 L 753.75 470.855 L 753.75 468.399 L 733.05 468.399 z
" clip-path="url(#pd52060ef54)" style="fill: #f4fcf7"/>
</g>
<g shape-rendering="crispEdges" id="cb7">
<path d="M 733.05 469.23 L 753.75 469.23 L 753.75 466.775 L 733.05 466.775 z
" clip-path="url(#pd52060ef54)" style="fill: #f2fbf6"/>
</g>
<g shape-rendering="crispEdges" id="cb8">
<path d="M 733.05 467.606 L 753.75 467.606 L 753.75 465.15 L 733.05 465.15 z
" clip-path="url(#pd52060ef54)" style="fill: #f0fbf5"/>
</g>
<g shape-rendering="crispEdges" id="cb9">
<path d="M 733.05 465.982 L 753.75 465.982 L 753.75 463.526 L 733.05 463.526 z
" clip-path="url(#pd52060ef54)" style="fill: #effaf4"/>
</g>
<g shape-rendering="crispEdges" id="cb10">
<path d="M 733.05 464.358 L 753.75 464.358 L 753.75 461.902 L 733.05 461.902 z
" clip-path="url(#pd52060ef54)" style="fill: #edfaf4"/>
</g>
<g shape-rendering="crispEdges" id="cb11">
<path d="M 733.05 462.734 L 753.75 462.734 L 753.75 460.278 L 733.05 460.278 z
" clip-path="url(#pd52060ef54)" style="fill: #ebf9f3"/>
</g>
<g shape-rendering="crispEdges" id="cb12">
<path d="M 733.05 461.109 L 753.75 461.109 L 753.75 458.654 L 733.05 458.654 z
" clip-path="url(#pd52060ef54)" style="fill: #e9f8f2"/>
</g>
<g shape-rendering="crispEdges" id="cb13">
<path d="M 733.05 459.485 L 753.75 459.485 L 753.75 457.029 L 733.05 457.029 z
" clip-path="url(#pd52060ef54)" style="fill: #e7f8f1"/>
</g>
<g shape-rendering="crispEdges" id="cb14">
<path d="M 733.05 457.861 L 753.75 457.861 L 753.75 455.405 L 733.05 455.405 z
" clip-path="url(#pd52060ef54)" style="fill: #e5f7f1"/>
</g>
<g shape-rendering="crispEdges" id="cb15">
<path d="M 733.05 456.237 L 753.75 456.237 L 753.75 453.781 L 733.05 453.781 z
" clip-path="url(#pd52060ef54)" style="fill: #e3f6f0"/>
</g>
<g shape-rendering="crispEdges" id="cb16">
<path d="M 733.05 454.613 L 753.75 454.613 L 753.75 452.157 L 733.05 452.157 z
" clip-path="url(#pd52060ef54)" style="fill: #e2f6f0"/>
</g>
<g shape-rendering="crispEdges" id="cb17">
<path d="M 733.05 452.988 L 753.75 452.988 L 753.75 450.532 L 733.05 450.532 z
" clip-path="url(#pd52060ef54)" style="fill: #e0f5f0"/>
</g>
<g shape-rendering="crispEdges" id="cb18">
<path d="M 733.05 451.364 L 753.75 451.364 L 753.75 448.908 L 733.05 448.908 z
" clip-path="url(#pd52060ef54)" style="fill: #def4ef"/>
</g>
<g shape-rendering="crispEdges" id="cb19">
<path d="M 733.05 449.74 L 753.75 449.74 L 753.75 447.284 L 733.05 447.284 z
" clip-path="url(#pd52060ef54)" style="fill: #dcf3ef"/>
</g>
<g shape-rendering="crispEdges" id="cb20">
<path d="M 733.05 448.116 L 753.75 448.116 L 753.75 445.66 L 733.05 445.66 z
" clip-path="url(#pd52060ef54)" style="fill: #dbf3ef"/>
</g>
<g shape-rendering="crispEdges" id="cb21">
<path d="M 733.05 446.491 L 753.75 446.491 L 753.75 444.036 L 733.05 444.036 z
" clip-path="url(#pd52060ef54)" style="fill: #d9f2ef"/>
</g>
<g shape-rendering="crispEdges" id="cb22">
<path d="M 733.05 444.867 L 753.75 444.867 L 753.75 442.411 L 733.05 442.411 z
" clip-path="url(#pd52060ef54)" style="fill: #d7f1ef"/>
</g>
<g shape-rendering="crispEdges" id="cb23">
<path d="M 733.05 443.243 L 753.75 443.243 L 753.75 440.787 L 733.05 440.787 z
" clip-path="url(#pd52060ef54)" style="fill: #d6f0ef"/>
</g>
<g shape-rendering="crispEdges" id="cb24">
<path d="M 733.05 441.619 L 753.75 441.619 L 753.75 439.163 L 733.05 439.163 z
" clip-path="url(#pd52060ef54)" style="fill: #d4efef"/>
</g>
<g shape-rendering="crispEdges" id="cb25">
<path d="M 733.05 439.995 L 753.75 439.995 L 753.75 437.539 L 733.05 437.539 z
" clip-path="url(#pd52060ef54)" style="fill: #d3eeef"/>
</g>
<g shape-rendering="crispEdges" id="cb26">
<path d="M 733.05 438.37 L 753.75 438.37 L 753.75 435.914 L 733.05 435.914 z
" clip-path="url(#pd52060ef54)" style="fill: #d1edef"/>
</g>
<g shape-rendering="crispEdges" id="cb27">
<path d="M 733.05 436.746 L 753.75 436.746 L 753.75 434.29 L 733.05 434.29 z
" clip-path="url(#pd52060ef54)" style="fill: #d0ecef"/>
</g>
<g shape-rendering="crispEdges" id="cb28">
<path d="M 733.05 435.122 L 753.75 435.122 L 753.75 432.666 L 733.05 432.666 z
" clip-path="url(#pd52060ef54)" style="fill: #cfebef"/>
</g>
<g shape-rendering="crispEdges" id="cb29">
<path d="M 733.05 433.498 L 753.75 433.498 L 753.75 431.042 L 733.05 431.042 z
" clip-path="url(#pd52060ef54)" style="fill: #cdeaef"/>
</g>
<g shape-rendering="crispEdges" id="cb30">
<path d="M 733.05 431.873 L 753.75 431.873 L 753.75 429.418 L 733.05 429.418 z
" clip-path="url(#pd52060ef54)" style="fill: #cce9ef"/>
</g>
<g shape-rendering="crispEdges" id="cb31">
<path d="M 733.05 430.249 L 753.75 430.249 L 753.75 427.793 L 733.05 427.793 z
" clip-path="url(#pd52060ef54)" style="fill: #cbe8f0"/>
</g>
<g shape-rendering="crispEdges" id="cb32">
<path d="M 733.05 428.625 L 753.75 428.625 L 753.75 426.169 L 733.05 426.169 z
" clip-path="url(#pd52060ef54)" style="fill: #cae7f0"/>
</g>
<g shape-rendering="crispEdges" id="cb33">
<path d="M 733.05 427.001 L 753.75 427.001 L 753.75 424.545 L 733.05 424.545 z
" clip-path="url(#pd52060ef54)" style="fill: #c9e5f0"/>
</g>
<g shape-rendering="crispEdges" id="cb34">
<path d="M 733.05 425.377 L 753.75 425.377 L 753.75 422.921 L 733.05 422.921 z
" clip-path="url(#pd52060ef54)" style="fill: #c8e4f0"/>
</g>
<g shape-rendering="crispEdges" id="cb35">
<path d="M 733.05 423.752 L 753.75 423.752 L 753.75 421.297 L 733.05 421.297 z
" clip-path="url(#pd52060ef54)" style="fill: #c7e3f1"/>
</g>
<g shape-rendering="crispEdges" id="cb36">
<path d="M 733.05 422.128 L 753.75 422.128 L 753.75 419.672 L 733.05 419.672 z
" clip-path="url(#pd52060ef54)" style="fill: #c6e1f1"/>
</g>
<g shape-rendering="crispEdges" id="cb37">
<path d="M 733.05 420.504 L 753.75 420.504 L 753.75 418.048 L 733.05 418.048 z
" clip-path="url(#pd52060ef54)" style="fill: #c6e0f1"/>
</g>
<g shape-rendering="crispEdges" id="cb38">
<path d="M 733.05 418.88 L 753.75 418.88 L 753.75 416.424 L 733.05 416.424 z
" clip-path="url(#pd52060ef54)" style="fill: #c5dff2"/>
</g>
<g shape-rendering="crispEdges" id="cb39">
<path d="M 733.05 417.255 L 753.75 417.255 L 753.75 414.8 L 733.05 414.8 z
" clip-path="url(#pd52060ef54)" style="fill: #c4ddf2"/>
</g>
<g shape-rendering="crispEdges" id="cb40">
<path d="M 733.05 415.631 L 753.75 415.631 L 753.75 413.175 L 733.05 413.175 z
" clip-path="url(#pd52060ef54)" style="fill: #c4dcf2"/>
</g>
<g shape-rendering="crispEdges" id="cb41">
<path d="M 733.05 414.007 L 753.75 414.007 L 753.75 411.551 L 733.05 411.551 z
" clip-path="url(#pd52060ef54)" style="fill: #c3daf2"/>
</g>
<g shape-rendering="crispEdges" id="cb42">
<path d="M 733.05 412.383 L 753.75 412.383 L 753.75 409.927 L 733.05 409.927 z
" clip-path="url(#pd52060ef54)" style="fill: #c3d9f3"/>
</g>
<g shape-rendering="crispEdges" id="cb43">
<path d="M 733.05 410.759 L 753.75 410.759 L 753.75 408.303 L 733.05 408.303 z
" clip-path="url(#pd52060ef54)" style="fill: #c2d7f3"/>
</g>
<g shape-rendering="crispEdges" id="cb44">
<path d="M 733.05 409.134 L 753.75 409.134 L 753.75 406.679 L 733.05 406.679 z
" clip-path="url(#pd52060ef54)" style="fill: #c2d6f3"/>
</g>
<g shape-rendering="crispEdges" id="cb45">
<path d="M 733.05 407.51 L 753.75 407.51 L 753.75 405.054 L 733.05 405.054 z
" clip-path="url(#pd52060ef54)" style="fill: #c2d4f3"/>
</g>
<g shape-rendering="crispEdges" id="cb46">
<path d="M 733.05 405.886 L 753.75 405.886 L 753.75 403.43 L 733.05 403.43 z
" clip-path="url(#pd52060ef54)" style="fill: #c2d2f3"/>
</g>
<g shape-rendering="crispEdges" id="cb47">
<path d="M 733.05 404.262 L 753.75 404.262 L 753.75 401.806 L 733.05 401.806 z
" clip-path="url(#pd52060ef54)" style="fill: #c1d1f3"/>
</g>
<g shape-rendering="crispEdges" id="cb48">
<path d="M 733.05 402.637 L 753.75 402.637 L 753.75 400.182 L 733.05 400.182 z
" clip-path="url(#pd52060ef54)" style="fill: #c1cff3"/>
</g>
<g shape-rendering="crispEdges" id="cb49">
<path d="M 733.05 401.013 L 753.75 401.013 L 753.75 398.557 L 733.05 398.557 z
" clip-path="url(#pd52060ef54)" style="fill: #c1cdf3"/>
</g>
<g shape-rendering="crispEdges" id="cb50">
<path d="M 733.05 399.389 L 753.75 399.389 L 753.75 396.933 L 733.05 396.933 z
" clip-path="url(#pd52060ef54)" style="fill: #c1ccf3"/>
</g>
<g shape-rendering="crispEdges" id="cb51">
<path d="M 733.05 397.765 L 753.75 397.765 L 753.75 395.309 L 733.05 395.309 z
" clip-path="url(#pd52060ef54)" style="fill: #c1caf3"/>
</g>
<g shape-rendering="crispEdges" id="cb52">
<path d="M 733.05 396.141 L 753.75 396.141 L 753.75 393.685 L 733.05 393.685 z
" clip-path="url(#pd52060ef54)" style="fill: #c2c8f3"/>
</g>
<g shape-rendering="crispEdges" id="cb53">
<path d="M 733.05 394.516 L 753.75 394.516 L 753.75 392.061 L 733.05 392.061 z
" clip-path="url(#pd52060ef54)" style="fill: #c2c6f3"/>
</g>
<g shape-rendering="crispEdges" id="cb54">
<path d="M 733.05 392.892 L 753.75 392.892 L 753.75 390.436 L 733.05 390.436 z
" clip-path="url(#pd52060ef54)" style="fill: #c2c5f3"/>
</g>
<g shape-rendering="crispEdges" id="cb55">
<path d="M 733.05 391.268 L 753.75 391.268 L 753.75 388.812 L 733.05 388.812 z
" clip-path="url(#pd52060ef54)" style="fill: #c2c3f2"/>
</g>
<g shape-rendering="crispEdges" id="cb56">
<path d="M 733.05 389.644 L 753.75 389.644 L 753.75 387.188 L 733.05 387.188 z
" clip-path="url(#pd52060ef54)" style="fill: #c3c1f2"/>
</g>
<g shape-rendering="crispEdges" id="cb57">
<path d="M 733.05 388.02 L 753.75 388.02 L 753.75 385.564 L 733.05 385.564 z
" clip-path="url(#pd52060ef54)" style="fill: #c3bff2"/>
</g>
<g shape-rendering="crispEdges" id="cb58">
<path d="M 733.05 386.395 L 753.75 386.395 L 753.75 383.939 L 733.05 383.939 z
" clip-path="url(#pd52060ef54)" style="fill: #c4bdf1"/>
</g>
<g shape-rendering="crispEdges" id="cb59">
<path d="M 733.05 384.771 L 753.75 384.771 L 753.75 382.315 L 733.05 382.315 z
" clip-path="url(#pd52060ef54)" style="fill: #c4bcf1"/>
</g>
<g shape-rendering="crispEdges" id="cb60">
<path d="M 733.05 383.147 L 753.75 383.147 L 753.75 380.691 L 733.05 380.691 z
" clip-path="url(#pd52060ef54)" style="fill: #c5baf0"/>
</g>
<g shape-rendering="crispEdges" id="cb61">
<path d="M 733.05 381.523 L 753.75 381.523 L 753.75 379.067 L 733.05 379.067 z
" clip-path="url(#pd52060ef54)" style="fill: #c5b8ef"/>
</g>
<g shape-rendering="crispEdges" id="cb62">
<path d="M 733.05 379.898 L 753.75 379.898 L 753.75 377.443 L 733.05 377.443 z
" clip-path="url(#pd52060ef54)" style="fill: #c6b6ee"/>
</g>
<g shape-rendering="crispEdges" id="cb63">
<path d="M 733.05 378.274 L 753.75 378.274 L 753.75 375.818 L 733.05 375.818 z
" clip-path="url(#pd52060ef54)" style="fill: #c6b4ee"/>
</g>
<g shape-rendering="crispEdges" id="cb64">
<path d="M 733.05 376.65 L 753.75 376.65 L 753.75 374.194 L 733.05 374.194 z
" clip-path="url(#pd52060ef54)" style="fill: #c7b2ed"/>
</g>
<g shape-rendering="crispEdges" id="cb65">
<path d="M 733.05 375.026 L 753.75 375.026 L 753.75 372.57 L 733.05 372.57 z
" clip-path="url(#pd52060ef54)" style="fill: #c8b1ec"/>
</g>
<g shape-rendering="crispEdges" id="cb66">
<path d="M 733.05 373.402 L 753.75 373.402 L 753.75 370.946 L 733.05 370.946 z
" clip-path="url(#pd52060ef54)" style="fill: #c8afea"/>
</g>
<g shape-rendering="crispEdges" id="cb67">
<path d="M 733.05 371.777 L 753.75 371.777 L 753.75 369.322 L 733.05 369.322 z
" clip-path="url(#pd52060ef54)" style="fill: #c9ade9"/>
</g>
<g shape-rendering="crispEdges" id="cb68">
<path d="M 733.05 370.153 L 753.75 370.153 L 753.75 367.697 L 733.05 367.697 z
" clip-path="url(#pd52060ef54)" style="fill: #caabe8"/>
</g>
<g shape-rendering="crispEdges" id="cb69">
<path d="M 733.05 368.529 L 753.75 368.529 L 753.75 366.073 L 733.05 366.073 z
" clip-path="url(#pd52060ef54)" style="fill: #caa9e7"/>
</g>
<g shape-rendering="crispEdges" id="cb70">
<path d="M 733.05 366.905 L 753.75 366.905 L 753.75 364.449 L 733.05 364.449 z
" clip-path="url(#pd52060ef54)" style="fill: #cba8e5"/>
</g>
<g shape-rendering="crispEdges" id="cb71">
<path d="M 733.05 365.28 L 753.75 365.28 L 753.75 362.825 L 733.05 362.825 z
" clip-path="url(#pd52060ef54)" style="fill: #cca6e4"/>
</g>
<g shape-rendering="crispEdges" id="cb72">
<path d="M 733.05 363.656 L 753.75 363.656 L 753.75 361.2 L 733.05 361.2 z
" clip-path="url(#pd52060ef54)" style="fill: #cca4e2"/>
</g>
<g shape-rendering="crispEdges" id="cb73">
<path d="M 733.05 362.032 L 753.75 362.032 L 753.75 359.576 L 733.05 359.576 z
" clip-path="url(#pd52060ef54)" style="fill: #cda2e0"/>
</g>
<g shape-rendering="crispEdges" id="cb74">
<path d="M 733.05 360.408 L 753.75 360.408 L 753.75 357.952 L 733.05 357.952 z
" clip-path="url(#pd52060ef54)" style="fill: #cea1df"/>
</g>
<g shape-rendering="crispEdges" id="cb75">
<path d="M 733.05 358.784 L 753.75 358.784 L 753.75 356.328 L 733.05 356.328 z
" clip-path="url(#pd52060ef54)" style="fill: #cf9fdd"/>
</g>
<g shape-rendering="crispEdges" id="cb76">
<path d="M 733.05 357.159 L 753.75 357.159 L 753.75 354.704 L 733.05 354.704 z
" clip-path="url(#pd52060ef54)" style="fill: #cf9ddb"/>
</g>
<g shape-rendering="crispEdges" id="cb77">
<path d="M 733.05 355.535 L 753.75 355.535 L 753.75 353.079 L 733.05 353.079 z
" clip-path="url(#pd52060ef54)" style="fill: #d09cd9"/>
</g>
<g shape-rendering="crispEdges" id="cb78">
<path d="M 733.05 353.911 L 753.75 353.911 L 753.75 351.455 L 733.05 351.455 z
" clip-path="url(#pd52060ef54)" style="fill: #d09ad7"/>
</g>
<g shape-rendering="crispEdges" id="cb79">
<path d="M 733.05 352.287 L 753.75 352.287 L 753.75 349.831 L 733.05 349.831 z
" clip-path="url(#pd52060ef54)" style="fill: #d198d4"/>
</g>
<g shape-rendering="crispEdges" id="cb80">
<path d="M 733.05 350.663 L 753.75 350.663 L 753.75 348.207 L 733.05 348.207 z
" clip-path="url(#pd52060ef54)" style="fill: #d297d2"/>
</g>
<g shape-rendering="crispEdges" id="cb81">
<path d="M 733.05 349.038 L 753.75 349.038 L 753.75 346.582 L 733.05 346.582 z
" clip-path="url(#pd52060ef54)" style="fill: #d295d0"/>
</g>
<g shape-rendering="crispEdges" id="cb82">
<path d="M 733.05 347.414 L 753.75 347.414 L 753.75 344.958 L 733.05 344.958 z
" clip-path="url(#pd52060ef54)" style="fill: #d294ce"/>
</g>
<g shape-rendering="crispEdges" id="cb83">
<path d="M 733.05 345.79 L 753.75 345.79 L 753.75 343.334 L 733.05 343.334 z
" clip-path="url(#pd52060ef54)" style="fill: #d392cb"/>
</g>
<g shape-rendering="crispEdges" id="cb84">
<path d="M 733.05 344.166 L 753.75 344.166 L 753.75 341.71 L 733.05 341.71 z
" clip-path="url(#pd52060ef54)" style="fill: #d391c9"/>
</g>
<g shape-rendering="crispEdges" id="cb85">
<path d="M 733.05 342.541 L 753.75 342.541 L 753.75 340.086 L 733.05 340.086 z
" clip-path="url(#pd52060ef54)" style="fill: #d490c6"/>
</g>
<g shape-rendering="crispEdges" id="cb86">
<path d="M 733.05 340.917 L 753.75 340.917 L 753.75 338.461 L 733.05 338.461 z
" clip-path="url(#pd52060ef54)" style="fill: #d48ec3"/>
</g>
<g shape-rendering="crispEdges" id="cb87">
<path d="M 733.05 339.293 L 753.75 339.293 L 753.75 336.837 L 733.05 336.837 z
" clip-path="url(#pd52060ef54)" style="fill: #d48dc1"/>
</g>
<g shape-rendering="crispEdges" id="cb88">
<path d="M 733.05 337.669 L 753.75 337.669 L 753.75 335.213 L 733.05 335.213 z
" clip-path="url(#pd52060ef54)" style="fill: #d48cbe"/>
</g>
<g shape-rendering="crispEdges" id="cb89">
<path d="M 733.05 336.045 L 753.75 336.045 L 753.75 333.589 L 733.05 333.589 z
" clip-path="url(#pd52060ef54)" style="fill: #d48abb"/>
</g>
<g shape-rendering="crispEdges" id="cb90">
<path d="M 733.05 334.42 L 753.75 334.42 L 753.75 331.964 L 733.05 331.964 z
" clip-path="url(#pd52060ef54)" style="fill: #d589b8"/>
</g>
<g shape-rendering="crispEdges" id="cb91">
<path d="M 733.05 332.796 L 753.75 332.796 L 753.75 330.34 L 733.05 330.34 z
" clip-path="url(#pd52060ef54)" style="fill: #d588b5"/>
</g>
<g shape-rendering="crispEdges" id="cb92">
<path d="M 733.05 331.172 L 753.75 331.172 L 753.75 328.716 L 733.05 328.716 z
" clip-path="url(#pd52060ef54)" style="fill: #d487b2"/>
</g>
<g shape-rendering="crispEdges" id="cb93">
<path d="M 733.05 329.548 L 753.75 329.548 L 753.75 327.092 L 733.05 327.092 z
" clip-path="url(#pd52060ef54)" style="fill: #d486af"/>
</g>
<g shape-rendering="crispEdges" id="cb94">
<path d="M 733.05 327.923 L 753.75 327.923 L 753.75 325.468 L 733.05 325.468 z
" clip-path="url(#pd52060ef54)" style="fill: #d485ac"/>
</g>
<g shape-rendering="crispEdges" id="cb95">
<path d="M 733.05 326.299 L 753.75 326.299 L 753.75 323.843 L 733.05 323.843 z
" clip-path="url(#pd52060ef54)" style="fill: #d484a9"/>
</g>
<g shape-rendering="crispEdges" id="cb96">
<path d="M 733.05 324.675 L 753.75 324.675 L 753.75 322.219 L 733.05 322.219 z
" clip-path="url(#pd52060ef54)" style="fill: #d383a6"/>
</g>
<g shape-rendering="crispEdges" id="cb97">
<path d="M 733.05 323.051 L 753.75 323.051 L 753.75 320.595 L 733.05 320.595 z
" clip-path="url(#pd52060ef54)" style="fill: #d382a3"/>
</g>
<g shape-rendering="crispEdges" id="cb98">
<path d="M 733.05 321.427 L 753.75 321.427 L 753.75 318.971 L 733.05 318.971 z
" clip-path="url(#pd52060ef54)" style="fill: #d381a0"/>
</g>
<g shape-rendering="crispEdges" id="cb99">
<path d="M 733.05 319.802 L 753.75 319.802 L 753.75 317.347 L 733.05 317.347 z
" clip-path="url(#pd52060ef54)" style="fill: #d2809c"/>
</g>
<g shape-rendering="crispEdges" id="cb100">
<path d="M 733.05 318.178 L 753.75 318.178 L 753.75 315.722 L 733.05 315.722 z
" clip-path="url(#pd52060ef54)" style="fill: #d18099"/>
</g>
<g shape-rendering="crispEdges" id="cb101">
<path d="M 733.05 316.554 L 753.75 316.554 L 753.75 314.098 L 733.05 314.098 z
" clip-path="url(#pd52060ef54)" style="fill: #d17f96"/>
</g>
<g shape-rendering="crispEdges" id="cb102">
<path d="M 733.05 314.93 L 753.75 314.93 L 753.75 312.474 L 733.05 312.474 z
" clip-path="url(#pd52060ef54)" style="fill: #d07e93"/>
</g>
<g shape-rendering="crispEdges" id="cb103">
<path d="M 733.05 313.305 L 753.75 313.305 L 753.75 310.85 L 733.05 310.85 z
" clip-path="url(#pd52060ef54)" style="fill: #cf7e8f"/>
</g>
<g shape-rendering="crispEdges" id="cb104">
<path d="M 733.05 311.681 L 753.75 311.681 L 753.75 309.225 L 733.05 309.225 z
" clip-path="url(#pd52060ef54)" style="fill: #ce7d8c"/>
</g>
<g shape-rendering="crispEdges" id="cb105">
<path d="M 733.05 310.057 L 753.75 310.057 L 753.75 307.601 L 733.05 307.601 z
" clip-path="url(#pd52060ef54)" style="fill: #cd7d89"/>
</g>
<g shape-rendering="crispEdges" id="cb106">
<path d="M 733.05 308.433 L 753.75 308.433 L 753.75 305.977 L 733.05 305.977 z
" clip-path="url(#pd52060ef54)" style="fill: #cc7c86"/>
</g>
<g shape-rendering="crispEdges" id="cb107">
<path d="M 733.05 306.809 L 753.75 306.809 L 753.75 304.353 L 733.05 304.353 z
" clip-path="url(#pd52060ef54)" style="fill: #ca7c83"/>
</g>
<g shape-rendering="crispEdges" id="cb108">
<path d="M 733.05 305.184 L 753.75 305.184 L 753.75 302.729 L 733.05 302.729 z
" clip-path="url(#pd52060ef54)" style="fill: #c97b7f"/>
</g>
<g shape-rendering="crispEdges" id="cb109">
<path d="M 733.05 303.56 L 753.75 303.56 L 753.75 301.104 L 733.05 301.104 z
" clip-path="url(#pd52060ef54)" style="fill: #c87b7c"/>
</g>
<g shape-rendering="crispEdges" id="cb110">
<path d="M 733.05 301.936 L 753.75 301.936 L 753.75 299.48 L 733.05 299.48 z
" clip-path="url(#pd52060ef54)" style="fill: #c67a79"/>
</g>
<g shape-rendering="crispEdges" id="cb111">
<path d="M 733.05 300.312 L 753.75 300.312 L 753.75 297.856 L 733.05 297.856 z
" clip-path="url(#pd52060ef54)" style="fill: #c57a76"/>
</g>
<g shape-rendering="crispEdges" id="cb112">
<path d="M 733.05 298.688 L 753.75 298.688 L 753.75 296.232 L 733.05 296.232 z
" clip-path="url(#pd52060ef54)" style="fill: #c37a73"/>
</g>
<g shape-rendering="crispEdges" id="cb113">
<path d="M 733.05 297.063 L 753.75 297.063 L 753.75 294.607 L 733.05 294.607 z
" clip-path="url(#pd52060ef54)" style="fill: #c17a70"/>
</g>
<g shape-rendering="crispEdges" id="cb114">
<path d="M 733.05 295.439 L 753.75 295.439 L 753.75 292.983 L 733.05 292.983 z
" clip-path="url(#pd52060ef54)" style="fill: #bf796d"/>
</g>
<g shape-rendering="crispEdges" id="cb115">
<path d="M 733.05 293.815 L 753.75 293.815 L 753.75 291.359 L 733.05 291.359 z
" clip-path="url(#pd52060ef54)" style="fill: #be796a"/>
</g>
<g shape-rendering="crispEdges" id="cb116">
<path d="M 733.05 292.191 L 753.75 292.191 L 753.75 289.735 L 733.05 289.735 z
" clip-path="url(#pd52060ef54)" style="fill: #bc7967"/>
</g>
<g shape-rendering="crispEdges" id="cb117">
<path d="M 733.05 290.566 L 753.75 290.566 L 753.75 288.111 L 733.05 288.111 z
" clip-path="url(#pd52060ef54)" style="fill: #b97964"/>
</g>
<g shape-rendering="crispEdges" id="cb118">
<path d="M 733.05 288.942 L 753.75 288.942 L 753.75 286.486 L 733.05 286.486 z
" clip-path="url(#pd52060ef54)" style="fill: #b77961"/>
</g>
<g shape-rendering="crispEdges" id="cb119">
<path d="M 733.05 287.318 L 753.75 287.318 L 753.75 284.862 L 733.05 284.862 z
" clip-path="url(#pd52060ef54)" style="fill: #b5795e"/>
</g>
<g shape-rendering="crispEdges" id="cb120">
<path d="M 733.05 285.694 L 753.75 285.694 L 753.75 283.238 L 733.05 283.238 z
" clip-path="url(#pd52060ef54)" style="fill: #b3795b"/>
</g>
<g shape-rendering="crispEdges" id="cb121">
<path d="M 733.05 284.07 L 753.75 284.07 L 753.75 281.614 L 733.05 281.614 z
" clip-path="url(#pd52060ef54)" style="fill: #b17959"/>
</g>
<g shape-rendering="crispEdges" id="cb122">
<path d="M 733.05 282.445 L 753.75 282.445 L 753.75 279.989 L 733.05 279.989 z
" clip-path="url(#pd52060ef54)" style="fill: #ae7956"/>
</g>
<g shape-rendering="crispEdges" id="cb123">
<path d="M 733.05 280.821 L 753.75 280.821 L 753.75 278.365 L 733.05 278.365 z
" clip-path="url(#pd52060ef54)" style="fill: #ac7954"/>
</g>
<g shape-rendering="crispEdges" id="cb124">
<path d="M 733.05 279.197 L 753.75 279.197 L 753.75 276.741 L 733.05 276.741 z
" clip-path="url(#pd52060ef54)" style="fill: #a97951"/>
</g>
<g shape-rendering="crispEdges" id="cb125">
<path d="M 733.05 277.573 L 753.75 277.573 L 753.75 275.117 L 733.05 275.117 z
" clip-path="url(#pd52060ef54)" style="fill: #a7794f"/>
</g>
<g shape-rendering="crispEdges" id="cb126">
<path d="M 733.05 275.948 L 753.75 275.948 L 753.75 273.493 L 733.05 273.493 z
" clip-path="url(#pd52060ef54)" style="fill: #a4794c"/>
</g>
<g shape-rendering="crispEdges" id="cb127">
<path d="M 733.05 274.324 L 753.75 274.324 L 753.75 271.868 L 733.05 271.868 z
" clip-path="url(#pd52060ef54)" style="fill: #a1794a"/>
</g>
<g shape-rendering="crispEdges" id="cb128">
<path d="M 733.05 272.7 L 753.75 272.7 L 753.75 270.244 L 733.05 270.244 z
" clip-path="url(#pd52060ef54)" style="fill: #9f7948"/>
</g>
<g shape-rendering="crispEdges" id="cb129">
<path d="M 733.05 271.076 L 753.75 271.076 L 753.75 268.62 L 733.05 268.62 z
" clip-path="url(#pd52060ef54)" style="fill: #9c7946"/>
</g>
<g shape-rendering="crispEdges" id="cb130">
<path d="M 733.05 269.452 L 753.75 269.452 L 753.75 266.996 L 733.05 266.996 z
" clip-path="url(#pd52060ef54)" style="fill: #997944"/>
</g>
<g shape-rendering="crispEdges" id="cb131">
<path d="M 733.05 267.827 L 753.75 267.827 L 753.75 265.372 L 733.05 265.372 z
" clip-path="url(#pd52060ef54)" style="fill: #967a42"/>
</g>
<g shape-rendering="crispEdges" id="cb132">
<path d="M 733.05 266.203 L 753.75 266.203 L 753.75 263.747 L 733.05 263.747 z
" clip-path="url(#pd52060ef54)" style="fill: #937a40"/>
</g>
<g shape-rendering="crispEdges" id="cb133">
<path d="M 733.05 264.579 L 753.75 264.579 L 753.75 262.123 L 733.05 262.123 z
" clip-path="url(#pd52060ef54)" style="fill: #907a3e"/>
</g>
<g shape-rendering="crispEdges" id="cb134">
<path d="M 733.05 262.955 L 753.75 262.955 L 753.75 260.499 L 733.05 260.499 z
" clip-path="url(#pd52060ef54)" style="fill: #8d7a3d"/>
</g>
<g shape-rendering="crispEdges" id="cb135">
<path d="M 733.05 261.33 L 753.75 261.33 L 753.75 258.875 L 733.05 258.875 z
" clip-path="url(#pd52060ef54)" style="fill: #8a7a3b"/>
</g>
<g shape-rendering="crispEdges" id="cb136">
<path d="M 733.05 259.706 L 753.75 259.706 L 753.75 257.25 L 733.05 257.25 z
" clip-path="url(#pd52060ef54)" style="fill: #877a3a"/>
</g>
<g shape-rendering="crispEdges" id="cb137">
<path d="M 733.05 258.082 L 753.75 258.082 L 753.75 255.626 L 733.05 255.626 z
" clip-path="url(#pd52060ef54)" style="fill: #847a38"/>
</g>
<g shape-rendering="crispEdges" id="cb138">
<path d="M 733.05 256.458 L 753.75 256.458 L 753.75 254.002 L 733.05 254.002 z
" clip-path="url(#pd52060ef54)" style="fill: #817a37"/>
</g>
<g shape-rendering="crispEdges" id="cb139">
<path d="M 733.05 254.834 L 753.75 254.834 L 753.75 252.378 L 733.05 252.378 z
" clip-path="url(#pd52060ef54)" style="fill: #7e7a36"/>
</g>
<g shape-rendering="crispEdges" id="cb140">
<path d="M 733.05 253.209 L 753.75 253.209 L 753.75 250.754 L 733.05 250.754 z
" clip-path="url(#pd52060ef54)" style="fill: #7b7a35"/>
</g>
<g shape-rendering="crispEdges" id="cb141">
<path d="M 733.05 251.585 L 753.75 251.585 L 753.75 249.129 L 733.05 249.129 z
" clip-path="url(#pd52060ef54)" style="fill: #787b34"/>
</g>
<g shape-rendering="crispEdges" id="cb142">
<path d="M 733.05 249.961 L 753.75 249.961 L 753.75 247.505 L 733.05 247.505 z
" clip-path="url(#pd52060ef54)" style="fill: #757b33"/>
</g>
<g shape-rendering="crispEdges" id="cb143">
<path d="M 733.05 248.337 L 753.75 248.337 L 753.75 245.881 L 733.05 245.881 z
" clip-path="url(#pd52060ef54)" style="fill: #727b32"/>
</g>
<g shape-rendering="crispEdges" id="cb144">
<path d="M 733.05 246.713 L 753.75 246.713 L 753.75 244.257 L 733.05 244.257 z
" clip-path="url(#pd52060ef54)" style="fill: #6f7b31"/>
</g>
<g shape-rendering="crispEdges" id="cb145">
<path d="M 733.05 245.088 L 753.75 245.088 L 753.75 242.632 L 733.05 242.632 z
" clip-path="url(#pd52060ef54)" style="fill: #6c7b31"/>
</g>
<g shape-rendering="crispEdges" id="cb146">
<path d="M 733.05 243.464 L 753.75 243.464 L 753.75 241.008 L 733.05 241.008 z
" clip-path="url(#pd52060ef54)" style="fill: #697b30"/>
</g>
<g shape-rendering="crispEdges" id="cb147">
<path d="M 733.05 241.84 L 753.75 241.84 L 753.75 239.384 L 733.05 239.384 z
" clip-path="url(#pd52060ef54)" style="fill: #667a30"/>
</g>
<g shape-rendering="crispEdges" id="cb148">
<path d="M 733.05 240.216 L 753.75 240.216 L 753.75 237.76 L 733.05 237.76 z
" clip-path="url(#pd52060ef54)" style="fill: #637a2f"/>
</g>
<g shape-rendering="crispEdges" id="cb149">
<path d="M 733.05 238.591 L 753.75 238.591 L 753.75 236.136 L 733.05 236.136 z
" clip-path="url(#pd52060ef54)" style="fill: #607a2f"/>
</g>
<g shape-rendering="crispEdges" id="cb150">
<path d="M 733.05 236.967 L 753.75 236.967 L 753.75 234.511 L 733.05 234.511 z
" clip-path="url(#pd52060ef54)" style="fill: #5d7a2f"/>
</g>
<g shape-rendering="crispEdges" id="cb151">
<path d="M 733.05 235.343 L 753.75 235.343 L 753.75 232.887 L 733.05 232.887 z
" clip-path="url(#pd52060ef54)" style="fill: #5a7a2f"/>
</g>
<g shape-rendering="crispEdges" id="cb152">
<path d="M 733.05 233.719 L 753.75 233.719 L 753.75 231.263 L 733.05 231.263 z
" clip-path="url(#pd52060ef54)" style="fill: #577a2f"/>
</g>
<g shape-rendering="crispEdges" id="cb153">
<path d="M 733.05 232.095 L 753.75 232.095 L 753.75 229.639 L 733.05 229.639 z
" clip-path="url(#pd52060ef54)" style="fill: #54792f"/>
</g>
<g shape-rendering="crispEdges" id="cb154">
<path d="M 733.05 230.47 L 753.75 230.47 L 753.75 228.014 L 733.05 228.014 z
" clip-path="url(#pd52060ef54)" style="fill: #51792f"/>
</g>
<g shape-rendering="crispEdges" id="cb155">
<path d="M 733.05 228.846 L 753.75 228.846 L 753.75 226.39 L 733.05 226.39 z
" clip-path="url(#pd52060ef54)" style="fill: #4e792f"/>
</g>
<g shape-rendering="crispEdges" id="cb156">
<path d="M 733.05 227.222 L 753.75 227.222 L 753.75 224.766 L 733.05 224.766 z
" clip-path="url(#pd52060ef54)" style="fill: #4c792f"/>
</g>
<g shape-rendering="crispEdges" id="cb157">
<path d="M 733.05 225.598 L 753.75 225.598 L 753.75 223.142 L 733.05 223.142 z
" clip-path="url(#pd52060ef54)" style="fill: #497830"/>
</g>
<g shape-rendering="crispEdges" id="cb158">
<path d="M 733.05 223.973 L 753.75 223.973 L 753.75 221.518 L 733.05 221.518 z
" clip-path="url(#pd52060ef54)" style="fill: #467830"/>
</g>
<g shape-rendering="crispEdges" id="cb159">
<path d="M 733.05 222.349 L 753.75 222.349 L 753.75 219.893 L 733.05 219.893 z
" clip-path="url(#pd52060ef54)" style="fill: #447731"/>
</g>
<g shape-rendering="crispEdges" id="cb160">
<path d="M 733.05 220.725 L 753.75 220.725 L 753.75 218.269 L 733.05 218.269 z
" clip-path="url(#pd52060ef54)" style="fill: #417731"/>
</g>
<g shape-rendering="crispEdges" id="cb161">
<path d="M 733.05 219.101 L 753.75 219.101 L 753.75 216.645 L 733.05 216.645 z
" clip-path="url(#pd52060ef54)" style="fill: #3f7632"/>
</g>
<g shape-rendering="crispEdges" id="cb162">
<path d="M 733.05 217.477 L 753.75 217.477 L 753.75 215.021 L 733.05 215.021 z
" clip-path="url(#pd52060ef54)" style="fill: #3c7632"/>
</g>
<g shape-rendering="crispEdges" id="cb163">
<path d="M 733.05 215.852 L 753.75 215.852 L 753.75 213.397 L 733.05 213.397 z
" clip-path="url(#pd52060ef54)" style="fill: #3a7533"/>
</g>
<g shape-rendering="crispEdges" id="cb164">
<path d="M 733.05 214.228 L 753.75 214.228 L 753.75 211.772 L 733.05 211.772 z
" clip-path="url(#pd52060ef54)" style="fill: #387434"/>
</g>
<g shape-rendering="crispEdges" id="cb165">
<path d="M 733.05 212.604 L 753.75 212.604 L 753.75 210.148 L 733.05 210.148 z
" clip-path="url(#pd52060ef54)" style="fill: #357435"/>
</g>
<g shape-rendering="crispEdges" id="cb166">
<path d="M 733.05 210.98 L 753.75 210.98 L 753.75 208.524 L 733.05 208.524 z
" clip-path="url(#pd52060ef54)" style="fill: #337335"/>
</g>
<g shape-rendering="crispEdges" id="cb167">
<path d="M 733.05 209.355 L 753.75 209.355 L 753.75 206.9 L 733.05 206.9 z
" clip-path="url(#pd52060ef54)" style="fill: #317236"/>
</g>
<g shape-rendering="crispEdges" id="cb168">
<path d="M 733.05 207.731 L 753.75 207.731 L 753.75 205.275 L 733.05 205.275 z
" clip-path="url(#pd52060ef54)" style="fill: #2f7137"/>
</g>
<g shape-rendering="crispEdges" id="cb169">
<path d="M 733.05 206.107 L 753.75 206.107 L 753.75 203.651 L 733.05 203.651 z
" clip-path="url(#pd52060ef54)" style="fill: #2d7038"/>
</g>
<g shape-rendering="crispEdges" id="cb170">
<path d="M 733.05 204.483 L 753.75 204.483 L 753.75 202.027 L 733.05 202.027 z
" clip-path="url(#pd52060ef54)" style="fill: #2b6f39"/>
</g>
<g shape-rendering="crispEdges" id="cb171">
<path d="M 733.05 202.859 L 753.75 202.859 L 753.75 200.403 L 733.05 200.403 z
" clip-path="url(#pd52060ef54)" style="fill: #2a6e3a"/>
</g>
<g shape-rendering="crispEdges" id="cb172">
<path d="M 733.05 201.234 L 753.75 201.234 L 753.75 198.779 L 733.05 198.779 z
" clip-path="url(#pd52060ef54)" style="fill: #286d3b"/>
</g>
<g shape-rendering="crispEdges" id="cb173">
<path d="M 733.05 199.61 L 753.75 199.61 L 753.75 197.154 L 733.05 197.154 z
" clip-path="url(#pd52060ef54)" style="fill: #266c3c"/>
</g>
<g shape-rendering="crispEdges" id="cb174">
<path d="M 733.05 197.986 L 753.75 197.986 L 753.75 195.53 L 733.05 195.53 z
" clip-path="url(#pd52060ef54)" style="fill: #256b3d"/>
</g>
<g shape-rendering="crispEdges" id="cb175">
<path d="M 733.05 196.362 L 753.75 196.362 L 753.75 193.906 L 733.05 193.906 z
" clip-path="url(#pd52060ef54)" style="fill: #236a3e"/>
</g>
<g shape-rendering="crispEdges" id="cb176">
<path d="M 733.05 194.738 L 753.75 194.738 L 753.75 192.282 L 733.05 192.282 z
" clip-path="url(#pd52060ef54)" style="fill: #22693f"/>
</g>
<g shape-rendering="crispEdges" id="cb177">
<path d="M 733.05 193.113 L 753.75 193.113 L 753.75 190.657 L 733.05 190.657 z
" clip-path="url(#pd52060ef54)" style="fill: #206840"/>
</g>
<g shape-rendering="crispEdges" id="cb178">
<path d="M 733.05 191.489 L 753.75 191.489 L 753.75 189.033 L 733.05 189.033 z
" clip-path="url(#pd52060ef54)" style="fill: #1f6741"/>
</g>
<g shape-rendering="crispEdges" id="cb179">
<path d="M 733.05 189.865 L 753.75 189.865 L 753.75 187.409 L 733.05 187.409 z
" clip-path="url(#pd52060ef54)" style="fill: #1e6542"/>
</g>
<g shape-rendering="crispEdges" id="cb180">
<path d="M 733.05 188.241 L 753.75 188.241 L 753.75 185.785 L 733.05 185.785 z
" clip-path="url(#pd52060ef54)" style="fill: #1d6443"/>
</g>
<g shape-rendering="crispEdges" id="cb181">
<path d="M 733.05 186.616 L 753.75 186.616 L 753.75 184.161 L 733.05 184.161 z
" clip-path="url(#pd52060ef54)" style="fill: #1c6344"/>
</g>
<g shape-rendering="crispEdges" id="cb182">
<path d="M 733.05 184.992 L 753.75 184.992 L 753.75 182.536 L 733.05 182.536 z
" clip-path="url(#pd52060ef54)" style="fill: #1b6145"/>
</g>
<g shape-rendering="crispEdges" id="cb183">
<path d="M 733.05 183.368 L 753.75 183.368 L 753.75 180.912 L 733.05 180.912 z
" clip-path="url(#pd52060ef54)" style="fill: #1a6046"/>
</g>
<g shape-rendering="crispEdges" id="cb184">
<path d="M 733.05 181.744 L 753.75 181.744 L 753.75 179.288 L 733.05 179.288 z
" clip-path="url(#pd52060ef54)" style="fill: #195e47"/>
</g>
<g shape-rendering="crispEdges" id="cb185">
<path d="M 733.05 180.12 L 753.75 180.12 L 753.75 177.664 L 733.05 177.664 z
" clip-path="url(#pd52060ef54)" style="fill: #195d48"/>
</g>
<g shape-rendering="crispEdges" id="cb186">
<path d="M 733.05 178.495 L 753.75 178.495 L 753.75 176.039 L 733.05 176.039 z
" clip-path="url(#pd52060ef54)" style="fill: #185b48"/>
</g>
<g shape-rendering="crispEdges" id="cb187">
<path d="M 733.05 176.871 L 753.75 176.871 L 753.75 174.415 L 733.05 174.415 z
" clip-path="url(#pd52060ef54)" style="fill: #175a49"/>
</g>
<g shape-rendering="crispEdges" id="cb188">
<path d="M 733.05 175.247 L 753.75 175.247 L 753.75 172.791 L 733.05 172.791 z
" clip-path="url(#pd52060ef54)" style="fill: #17584a"/>
</g>
<g shape-rendering="crispEdges" id="cb189">
<path d="M 733.05 173.623 L 753.75 173.623 L 753.75 171.167 L 733.05 171.167 z
" clip-path="url(#pd52060ef54)" style="fill: #16574b"/>
</g>
<g shape-rendering="crispEdges" id="cb190">
<path d="M 733.05 171.998 L 753.75 171.998 L 753.75 169.543 L 733.05 169.543 z
" clip-path="url(#pd52060ef54)" style="fill: #16554b"/>
</g>
<g shape-rendering="crispEdges" id="cb191">
<path d="M 733.05 170.374 L 753.75 170.374 L 753.75 167.918 L 733.05 167.918 z
" clip-path="url(#pd52060ef54)" style="fill: #16534c"/>
</g>
<g shape-rendering="crispEdges" id="cb192">
<path d="M 733.05 168.75 L 753.75 168.75 L 753.75 166.294 L 733.05 166.294 z
" clip-path="url(#pd52060ef54)" style="fill: #15524c"/>
</g>
<g shape-rendering="crispEdges" id="cb193">
<path d="M 733.05 167.126 L 753.75 167.126 L 753.75 164.67 L 733.05 164.67 z
" clip-path="url(#pd52060ef54)" style="fill: #15504d"/>
</g>
<g shape-rendering="crispEdges" id="cb194">
<path d="M 733.05 165.502 L 753.75 165.502 L 753.75 163.046 L 733.05 163.046 z
" clip-path="url(#pd52060ef54)" style="fill: #154e4d"/>
</g>
<g shape-rendering="crispEdges" id="cb195">
<path d="M 733.05 163.877 L 753.75 163.877 L 753.75 161.422 L 733.05 161.422 z
" clip-path="url(#pd52060ef54)" style="fill: #154d4e"/>
</g>
<g shape-rendering="crispEdges" id="cb196">
<path d="M 733.05 162.253 L 753.75 162.253 L 753.75 159.797 L 733.05 159.797 z
" clip-path="url(#pd52060ef54)" style="fill: #154b4e"/>
</g>
<g shape-rendering="crispEdges" id="cb197">
<path d="M 733.05 160.629 L 753.75 160.629 L 753.75 158.173 L 733.05 158.173 z
" clip-path="url(#pd52060ef54)" style="fill: #15494e"/>
</g>
<g shape-rendering="crispEdges" id="cb198">
<path d="M 733.05 159.005 L 753.75 159.005 L 753.75 156.549 L 733.05 156.549 z
" clip-path="url(#pd52060ef54)" style="fill: #15474e"/>
</g>
<g shape-rendering="crispEdges" id="cb199">
<path d="M 733.05 157.38 L 753.75 157.38 L 753.75 154.925 L 733.05 154.925 z
" clip-path="url(#pd52060ef54)" style="fill: #15464e"/>
</g>
<g shape-rendering="crispEdges" id="cb200">
<path d="M 733.05 155.756 L 753.75 155.756 L 753.75 153.3 L 733.05 153.3 z
" clip-path="url(#pd52060ef54)" style="fill: #15444f"/>
</g>
<g shape-rendering="crispEdges" id="cb201">
<path d="M 733.05 154.132 L 753.75 154.132 L 753.75 151.676 L 733.05 151.676 z
" clip-path="url(#pd52060ef54)" style="fill: #15424e"/>
</g>
<g shape-rendering="crispEdges" id="cb202">
<path d="M 733.05 152.508 L 753.75 152.508 L 753.75 150.052 L 733.05 150.052 z
" clip-path="url(#pd52060ef54)" style="fill: #16404e"/>
</g>
<g shape-rendering="crispEdges" id="cb203">
<path d="M 733.05 150.884 L 753.75 150.884 L 753.75 148.428 L 733.05 148.428 z
" clip-path="url(#pd52060ef54)" style="fill: #163f4e"/>
</g>
<g shape-rendering="crispEdges" id="cb204">
<path d="M 733.05 149.259 L 753.75 149.259 L 753.75 146.804 L 733.05 146.804 z
" clip-path="url(#pd52060ef54)" style="fill: #163d4e"/>
</g>
<g shape-rendering="crispEdges" id="cb205">
<path d="M 733.05 147.635 L 753.75 147.635 L 753.75 145.179 L 733.05 145.179 z
" clip-path="url(#pd52060ef54)" style="fill: #163b4e"/>
</g>
<g shape-rendering="crispEdges" id="cb206">
<path d="M 733.05 146.011 L 753.75 146.011 L 753.75 143.555 L 733.05 143.555 z
" clip-path="url(#pd52060ef54)" style="fill: #16394d"/>
</g>
<g shape-rendering="crispEdges" id="cb207">
<path d="M 733.05 144.387 L 753.75 144.387 L 753.75 141.931 L 733.05 141.931 z
" clip-path="url(#pd52060ef54)" style="fill: #17374d"/>
</g>
<g shape-rendering="crispEdges" id="cb208">
<path d="M 733.05 142.762 L 753.75 142.762 L 753.75 140.307 L 733.05 140.307 z
" clip-path="url(#pd52060ef54)" style="fill: #17364c"/>
</g>
<g shape-rendering="crispEdges" id="cb209">
<path d="M 733.05 141.138 L 753.75 141.138 L 753.75 138.682 L 733.05 138.682 z
" clip-path="url(#pd52060ef54)" style="fill: #17344c"/>
</g>
<g shape-rendering="crispEdges" id="cb210">
<path d="M 733.05 139.514 L 753.75 139.514 L 753.75 137.058 L 733.05 137.058 z
" clip-path="url(#pd52060ef54)" style="fill: #18324b"/>
</g>
<g shape-rendering="crispEdges" id="cb211">
<path d="M 733.05 137.89 L 753.75 137.89 L 753.75 135.434 L 733.05 135.434 z
" clip-path="url(#pd52060ef54)" style="fill: #18314a"/>
</g>
<g shape-rendering="crispEdges" id="cb212">
<path d="M 733.05 136.266 L 753.75 136.266 L 753.75 133.81 L 733.05 133.81 z
" clip-path="url(#pd52060ef54)" style="fill: #182f49"/>
</g>
<g shape-rendering="crispEdges" id="cb213">
<path d="M 733.05 134.641 L 753.75 134.641 L 753.75 132.186 L 733.05 132.186 z
" clip-path="url(#pd52060ef54)" style="fill: #192d48"/>
</g>
<g shape-rendering="crispEdges" id="cb214">
<path d="M 733.05 133.017 L 753.75 133.017 L 753.75 130.561 L 733.05 130.561 z
" clip-path="url(#pd52060ef54)" style="fill: #192c47"/>
</g>
<g shape-rendering="crispEdges" id="cb215">
<path d="M 733.05 131.393 L 753.75 131.393 L 753.75 128.937 L 733.05 128.937 z
" clip-path="url(#pd52060ef54)" style="fill: #192a46"/>
</g>
<g shape-rendering="crispEdges" id="cb216">
<path d="M 733.05 129.769 L 753.75 129.769 L 753.75 127.313 L 733.05 127.313 z
" clip-path="url(#pd52060ef54)" style="fill: #192845"/>
</g>
<g shape-rendering="crispEdges" id="cb217">
<path d="M 733.05 128.145 L 753.75 128.145 L 753.75 125.689 L 733.05 125.689 z
" clip-path="url(#pd52060ef54)" style="fill: #1a2744"/>
</g>
<g shape-rendering="crispEdges" id="cb218">
<path d="M 733.05 126.52 L 753.75 126.52 L 753.75 124.064 L 733.05 124.064 z
" clip-path="url(#pd52060ef54)" style="fill: #1a2543"/>
</g>
<g shape-rendering="crispEdges" id="cb219">
<path d="M 733.05 124.896 L 753.75 124.896 L 753.75 122.44 L 733.05 122.44 z
" clip-path="url(#pd52060ef54)" style="fill: #1a2441"/>
</g>
<g shape-rendering="crispEdges" id="cb220">
<path d="M 733.05 123.272 L 753.75 123.272 L 753.75 120.816 L 733.05 120.816 z
" clip-path="url(#pd52060ef54)" style="fill: #1a2240"/>
</g>
<g shape-rendering="crispEdges" id="cb221">
<path d="M 733.05 121.648 L 753.75 121.648 L 753.75 119.192 L 733.05 119.192 z
" clip-path="url(#pd52060ef54)" style="fill: #1a213e"/>
</g>
<g shape-rendering="crispEdges" id="cb222">
<path d="M 733.05 120.023 L 753.75 120.023 L 753.75 117.568 L 733.05 117.568 z
" clip-path="url(#pd52060ef54)" style="fill: #1b1f3d"/>
</g>
<g shape-rendering="crispEdges" id="cb223">
<path d="M 733.05 118.399 L 753.75 118.399 L 753.75 115.943 L 733.05 115.943 z
" clip-path="url(#pd52060ef54)" style="fill: #1b1e3b"/>
</g>
<g shape-rendering="crispEdges" id="cb224">
<path d="M 733.05 116.775 L 753.75 116.775 L 753.75 114.319 L 733.05 114.319 z
" clip-path="url(#pd52060ef54)" style="fill: #1b1c3a"/>
</g>
<g shape-rendering="crispEdges" id="cb225">
<path d="M 733.05 115.151 L 753.75 115.151 L 753.75 112.695 L 733.05 112.695 z
" clip-path="url(#pd52060ef54)" style="fill: #1b1b38"/>
</g>
<g shape-rendering="crispEdges" id="cb226">
<path d="M 733.05 113.527 L 753.75 113.527 L 753.75 111.071 L 733.05 111.071 z
" clip-path="url(#pd52060ef54)" style="fill: #1b1a36"/>
</g>
<g shape-rendering="crispEdges" id="cb227">
<path d="M 733.05 111.902 L 753.75 111.902 L 753.75 109.447 L 733.05 109.447 z
" clip-path="url(#pd52060ef54)" style="fill: #1a1835"/>
</g>
<g shape-rendering="crispEdges" id="cb228">
<path d="M 733.05 110.278 L 753.75 110.278 L 753.75 107.822 L 733.05 107.822 z
" clip-path="url(#pd52060ef54)" style="fill: #1a1733"/>
</g>
<g shape-rendering="crispEdges" id="cb229">
<path d="M 733.05 108.654 L 753.75 108.654 L 753.75 106.198 L 733.05 106.198 z
" clip-path="url(#pd52060ef54)" style="fill: #1a1631"/>
</g>
<g shape-rendering="crispEdges" id="cb230">
<path d="M 733.05 107.03 L 753.75 107.03 L 753.75 104.574 L 733.05 104.574 z
" clip-path="url(#pd52060ef54)" style="fill: #1a142f"/>
</g>
<g shape-rendering="crispEdges" id="cb231">
<path d="M 733.05 105.405 L 753.75 105.405 L 753.75 102.95 L 733.05 102.95 z
" clip-path="url(#pd52060ef54)" style="fill: #19132d"/>
</g>
<g shape-rendering="crispEdges" id="cb232">
<path d="M 733.05 103.781 L 753.75 103.781 L 753.75 101.325 L 733.05 101.325 z
" clip-path="url(#pd52060ef54)" style="fill: #19122b"/>
</g>
<g shape-rendering="crispEdges" id="cb233">
<path d="M 733.05 102.157 L 753.75 102.157 L 753.75 99.701 L 733.05 99.701 z
" clip-path="url(#pd52060ef54)" style="fill: #191129"/>
</g>
<g shape-rendering="crispEdges" id="cb234">
<path d="M 733.05 100.533 L 753.75 100.533 L 753.75 98.077 L 733.05 98.077 z
" clip-path="url(#pd52060ef54)" style="fill: #181027"/>
</g>
<g shape-rendering="crispEdges" id="cb235">
<path d="M 733.05 98.909 L 753.75 98.909 L 753.75 96.453 L 733.05 96.453 z
" clip-path="url(#pd52060ef54)" style="fill: #180f25"/>
</g>
<g shape-rendering="crispEdges" id="cb236">
<path d="M 733.05 97.284 L 753.75 97.284 L 753.75 94.829 L 733.05 94.829 z
" clip-path="url(#pd52060ef54)" style="fill: #170e23"/>
</g>
<g shape-rendering="crispEdges" id="cb237">
<path d="M 733.05 95.66 L 753.75 95.66 L 753.75 93.204 L 733.05 93.204 z
" clip-path="url(#pd52060ef54)" style="fill: #160d21"/>
</g>
<g shape-rendering="crispEdges" id="cb238">
<path d="M 733.05 94.036 L 753.75 94.036 L 753.75 91.58 L 733.05 91.58 z
" clip-path="url(#pd52060ef54)" style="fill: #160c1f"/>
</g>
<g shape-rendering="crispEdges" id="cb239">
<path d="M 733.05 92.412 L 753.75 92.412 L 753.75 89.956 L 733.05 89.956 z
" clip-path="url(#pd52060ef54)" style="fill: #150b1d"/>
</g>
<g shape-rendering="crispEdges" id="cb240">
<path d="M 733.05 90.787 L 753.75 90.787 L 753.75 88.332 L 733.05 88.332 z
" clip-path="url(#pd52060ef54)" style="fill: #140a1b"/>
</g>
<g shape-rendering="crispEdges" id="cb241">
<path d="M 733.05 89.163 L 753.75 89.163 L 753.75 86.707 L 733.05 86.707 z
" clip-path="url(#pd52060ef54)" style="fill: #130919"/>
</g>
<g shape-rendering="crispEdges" id="cb242">
<path d="M 733.05 87.539 L 753.75 87.539 L 753.75 85.083 L 733.05 85.083 z
" clip-path="url(#pd52060ef54)" style="fill: #120817"/>
</g>
<g shape-rendering="crispEdges" id="cb243">
<path d="M 733.05 85.915 L 753.75 85.915 L 753.75 83.459 L 733.05 83.459 z
" clip-path="url(#pd52060ef54)" style="fill: #110815"/>
</g>
<g shape-rendering="crispEdges" id="cb244">
<path d="M 733.05 84.291 L 753.75 84.291 L 753.75 81.835 L 733.05 81.835 z
" clip-path="url(#pd52060ef54)" style="fill: #100713"/>
</g>
<g shape-rendering="crispEdges" id="cb245">
<path d="M 733.05 82.666 L 753.75 82.666 L 753.75 80.211 L 733.05 80.211 z
" clip-path="url(#pd52060ef54)" style="fill: #0f0611"/>
</g>
<g shape-rendering="crispEdges" id="cb246">
<path d="M 733.05 81.042 L 753.75 81.042 L 753.75 78.586 L 733.05 78.586 z
" clip-path="url(#pd52060ef54)" style="fill: #0e050f"/>
</g>
<g shape-rendering="crispEdges" id="cb247">
<path d="M 733.05 79.418 L 753.75 79.418 L 753.75 76.962 L 733.05 76.962 z
" clip-path="url(#pd52060ef54)" style="fill: #0c050e"/>
</g>
<g shape-rendering="crispEdges" id="cb248">
<path d="M 733.05 77.794 L 753.75 77.794 L 753.75 75.338 L 733.05 75.338 z
" clip-path="url(#pd52060ef54)" style="fill: #0b040c"/>
</g>
<g shape-rendering="crispEdges" id="cb249">
<path d="M 733.05 76.17 L 753.75 76.17 L 753.75 73.714 L 733.05 73.714 z
" clip-path="url(#pd52060ef54)" style="fill: #0a030a"/>
</g>
<g shape-rendering="crispEdges" id="cb250">
<path d="M 733.05 74.545 L 753.75 74.545 L 753.75 72.089 L 733.05 72.089 z
" clip-path="url(#pd52060ef54)" style="fill: #080308"/>
</g>
<g shape-rendering="crispEdges" id="cb251">
<path d="M 733.05 72.921 L 753.75 72.921 L 753.75 70.465 L 733.05 70.465 z
" clip-path="url(#pd52060ef54)" style="fill: #070206"/>
</g>
<g shape-rendering="crispEdges" id="cb252">
<path d="M 733.05 71.297 L 753.75 71.297 L 753.75 68.841 L 733.05 68.841 z
" clip-path="url(#pd52060ef54)" style="fill: #050205"/>
</g>
<g shape-rendering="crispEdges" id="cb253">
<path d="M 733.05 69.673 L 753.75 69.673 L 753.75 67.217 L 733.05 67.217 z
" clip-path="url(#pd52060ef54)" style="fill: #030103"/>
</g>
<g shape-rendering="crispEdges" id="cb254">
<path d="M 733.05 68.048 L 753.75 68.048 L 753.75 65.593 L 733.05 65.593 z
" clip-path="url(#pd52060ef54)" style="fill: #020102"/>
</g>
<g shape-rendering="crispEdges" id="cb255">
<path d="M 733.05 66.424 L 753.75 66.424 L 753.75 64.8 L 733.05 64.8 z
" clip-path="url(#pd52060ef54)"/>
</g>
<g id="matplotlib.axis_4"/>
<g id="matplotlib.axis_5">
<g id="ytick_11">
<g id="line2d_21">
<defs>
<path id="m931f7cb696" d="M 0 0 L 3.6 0 " style="stroke: #000000; stroke-width: 0.8"/>
</defs>
<g>
<use href="#m931f7cb696" x="753.75" y="480.6" style="stroke: #000000; stroke-width: 0.8"/>
</g>
</g>
<g id="text_22"/>
</g>
<g id="ytick_12">
<g id="line2d_22">
<g>
<use href="#m931f7cb696" x="753.75" y="397.35" style="stroke: #000000; stroke-width: 0.8"/>
</g>
</g>
<g id="text_23"/>
</g>
<g id="ytick_13">
<g id="line2d_23">
<g>
<use href="#m931f7cb696" x="753.75" y="314.1" style="stroke: #000000; stroke-width: 0.8"/>
</g>
</g>
<g id="text_24"/>
</g>
<g id="ytick_14">
<g id="line2d_24">
<g>
<use href="#m931f7cb696" x="753.75" y="231.3" style="stroke: #000000; stroke-width: 0.8"/>
</g>
</g>
<g id="text_25"/>
</g>
<g id="ytick_15">
<g id="line2d_25">
<g>
<use href="#m931f7cb696" x="753.75" y="148.05" style="stroke: #000000; stroke-width: 0.8"/>
</g>
</g>
<g id="text_26"/>
</g>
<g id="ytick_16">
<g id="line2d_26">
<g>
<use href="#m931f7cb696" x="753.75" y="64.8" style="stroke: #000000; stroke-width: 0.8"/>
</g>
</g>
<g id="text_27"/>
</g>
<g id="text_28"/>
</g>
<g id="patch_13">
<path d="M 733.05 480.6 L 733.05 64.8 " style="fill: none; stroke: #000000; stroke-width: 0.8; stroke-linejoin: miter; stroke-linecap: square"/>
</g>
<g id="patch_14">
<path d="M 753.75 480.6 L 753.75 64.8 " style="fill: none; stroke: #000000; stroke-width: 0.8; stroke-linejoin: miter; stroke-linecap: square"/>
</g>
<g id="patch_15">
<path d="M 733.05 480.6 L 753.75 480.6 " style="fill: none; stroke: #000000; stroke-width: 0.8; stroke-linejoin: miter; stroke-linecap: square"/>
</g>
<g id="patch_16">
<path d="M 733.05 64.8 L 753.75 64.8 " style="fill: none; stroke: #000000; stroke-width: 0.8; stroke-linejoin: miter; stroke-linecap: square"/>
</g>
</g>
</g>
<defs>
<clipPath id="pf3e7a543b4">
<rect x="138.15" y="64.8" width="525.15" height="415.8"/>
</clipPath>
<clipPath id="pd52060ef54">
<rect x="733.05" y="64.8" width="20.7" height="415.8"/>
</clipPath>
</defs>
</g>
<g id="labels">
<g transform="translate(278 1085)">
<text xml:space="preserve" x="-6 28.25" y="41" style="font-family:'DejaVu Sans','Liberation Sans',sans-serif;font-size:55.556px">15</text>
</g>
<g transform="translate(665 1085)">
<text xml:space="preserve" x="-4 30.38" y="41" style="font-family:'DejaVu Sans','Liberation Sans',sans-serif;font-size:55.556px">25</text>
</g>
<g transform="translate(1054 1085)">
<text xml:space="preserve" x="-4 30.38" y="41" style="font-family:'DejaVu Sans','Liberation Sans',sans-serif;font-size:55.556px">35</text>
</g>
<g transform="translate(1441 1085)">
<text xml:space="preserve" x="-2 32.38" y="41" style="font-family:'DejaVu Sans','Liberation Sans',sans-serif;font-size:55.556px">45</text>
</g>
<g transform="translate(805 1147)">
<text xml:space="preserve" x="1 27 54" y="35" style="font-family:'DejaVu Sans Mono','Liberation Mono',monospace;font-size:44.444px">X [</text>
<text xml:space="preserve" x="81 109" y="35" style="font-family:'DejaVu Sans','Liberation Sans',sans-serif;font-size:44.444px;font-style:oblique">μm</text>
<text xml:space="preserve" x="153" y="35" style="font-family:'DejaVu Sans Mono','Liberation Mono',monospace;font-size:44.444px">]</text>
</g>
<g transform="translate(207 1048)">
<text xml:space="preserve" x="-3 31.25 48.88" y="41" style="font-family:'DejaVu Sans','Liberation Sans',sans-serif;font-size:55.556px">0.0</text>
</g>
<g transform="translate(207 740)">
<text xml:space="preserve" x="-3 31.25 48.88" y="41" style="font-family:'DejaVu Sans','Liberation Sans',sans-serif;font-size:55.556px">0.5</text>
</g>
<g transform="translate(210 432)">
<text xml:space="preserve" x="-6 28.25 45.88" y="41" style="font-family:'DejaVu Sans','Liberation Sans',sans-serif;font-size:55.556px">1.0</text>
</g>
<g transform="translate(209 124)">
<text xml:space="preserve" x="-6 28.25 45.88" y="41" style="font-family:'DejaVu Sans','Liberation Sans',sans-serif;font-size:55.556px">1.5</text>
</g>
<g transform="translate(148 699) rotate(-90)">
<text xml:space="preserve" x="1" y="35" style="font-family:'DejaVu Sans','Liberation Sans',sans-serif;font-size:44.444px;font-style:oblique">p</text>
<text xml:space="preserve" x="29" y="42" style="font-family:'DejaVu Sans','Liberation Sans',sans-serif;font-size:31.111px;font-style:oblique">x</text>
<text xml:space="preserve" x="49 75 102" y="35" style="font-family:'DejaVu Sans Mono','Liberation Mono',monospace;font-size:44.444px"> [m</text>
<text xml:space="preserve" x="129" y="42" style="font-family:'DejaVu Sans','Liberation Sans',sans-serif;font-size:31.111px;font-style:oblique">i</text>
<text xml:space="preserve" x="139 166" y="35" style="font-family:'DejaVu Sans Mono','Liberation Mono',monospace;font-size:44.444px">c]</text>
</g>
<g transform="translate(743 96)">
<text xml:space="preserve" x="0 26.75 53.5 80.25 107 133.75 160.5 187.25 214 240.75 267.5" y="35" style="font-family:'DejaVu Sans Mono','Liberation Mono',monospace;font-size:44.444px">At 210.1 fs</text>
</g>
<g transform="translate(1493 1048)" fill="#ff0000">
<text xml:space="preserve" x="-3" y="41" style="font-family:'DejaVu Sans','Liberation Sans',sans-serif;font-size:55.556px">0</text>
</g>
<g transform="translate(1496 863)" fill="#ff0000">
<text xml:space="preserve" x="-6" y="41" style="font-family:'DejaVu Sans','Liberation Sans',sans-serif;font-size:55.556px">1</text>
</g>
<g transform="translate(1494 678)" fill="#ff0000">
<text xml:space="preserve" x="-4" y="41" style="font-family:'DejaVu Sans','Liberation Sans',sans-serif;font-size:55.556px">2</text>
</g>
<g transform="translate(1494 494)" fill="#ff0000">
<text xml:space="preserve" x="-4" y="41" style="font-family:'DejaVu Sans','Liberation Sans',sans-serif;font-size:55.556px">3</text>
</g>
<g transform="translate(1492 309)" fill="#ff0000">
<text xml:space="preserve" x="-2" y="41" style="font-family:'DejaVu Sans','Liberation Sans',sans-serif;font-size:55.556px">4</text>
</g>
<g transform="translate(1494 124)" fill="#ff0000">
<text xml:space="preserve" x="-4" y="41" style="font-family:'DejaVu Sans','Liberation Sans',sans-serif;font-size:55.556px">5</text>
</g>
<g transform="translate(1534 960) rotate(-90)" fill="#ff0000">
<text xml:space="preserve" x="1" y="35" style="font-family:'DejaVu Sans','Liberation Sans',sans-serif;font-size:44.444px;font-style:oblique">E</text>
<text xml:space="preserve" x="29" y="42" style="font-family:'DejaVu Sans','Liberation Sans',sans-serif;font-size:31.111px;font-style:oblique">x</text>
<text xml:space="preserve" x="48 75" y="35" style="font-family:'DejaVu Sans Mono','Liberation Mono',monospace;font-size:44.444px"> [</text>
<text xml:space="preserve" x="102" y="35" style="font-family:'DejaVu Sans','Liberation Sans',sans-serif;font-size:44.444px;font-style:oblique">m</text>
<text xml:space="preserve" x="145" y="42" style="font-family:'DejaVu Sans','Liberation Sans',sans-serif;font-size:31.111px">e</text>
<text xml:space="preserve" x="166 190" y="35" style="font-family:'DejaVu Sans','Liberation Sans',sans-serif;font-size:44.444px;font-style:oblique">cω</text>
<text xml:space="preserve" x="227 242 257 285" y="35" style="font-family:'DejaVu Sans','Liberation Sans',sans-serif;font-size:44.444px">/|e|</text>
<text xml:space="preserve" x="300 326 353 380" y="35" style="font-family:'DejaVu Sans Mono','Liberation Mono',monospace;font-size:44.444px">] &amp; </text>
<text xml:space="preserve" x="407" y="35" style="font-family:'DejaVu Sans','Liberation Sans',sans-serif;font-size:44.444px;font-style:oblique">n</text>
<text xml:space="preserve" x="435" y="42" style="font-family:'DejaVu Sans','Liberation Sans',sans-serif;font-size:31.111px;font-style:oblique">e</text>
<text xml:space="preserve" x="455" y="35" style="font-family:'DejaVu Sans Mono','Liberation Mono',monospace;font-size:44.444px">(</text>
<text xml:space="preserve" x="482" y="35" style="font-family:'DejaVu Sans','Liberation Sans',sans-serif;font-size:44.444px;font-style:oblique">Z</text>
<text xml:space="preserve" x="513" y="42" style="font-family:'DejaVu Sans','Liberation Sans',sans-serif;font-size:31.111px;font-style:oblique">i</text>
<text xml:space="preserve" x="522" y="35" style="font-family:'DejaVu Sans','Liberation Sans',sans-serif;font-size:44.444px;font-style:oblique">n</text>
<text xml:space="preserve" x="551" y="42" style="font-family:'DejaVu Sans','Liberation Sans',sans-serif;font-size:31.111px;font-style:oblique">i</text>
<text xml:space="preserve" x="561 587 614" y="35" style="font-family:'DejaVu Sans Mono','Liberation Mono',monospace;font-size:44.444px">) [</text>
<text xml:space="preserve" x="641" y="35" style="font-family:'DejaVu Sans','Liberation Sans',sans-serif;font-size:44.444px;font-style:oblique">n</text>
<text xml:space="preserve" x="669" y="42" style="font-family:'DejaVu Sans','Liberation Sans',sans-serif;font-size:31.111px;font-style:oblique">c</text>
<text xml:space="preserve" x="687" y="35" style="font-family:'DejaVu Sans Mono','Liberation Mono',monospace;font-size:44.444px">]</text>
</g>
<g transform="translate(913 184)">
<text xml:space="preserve" x="1" y="34" style="font-family:'DejaVu Sans','Liberation Sans',sans-serif;font-size:44.444px;font-style:oblique">E</text>
<text xml:space="preserve" x="29" y="41" style="font-family:'DejaVu Sans','Liberation Sans',sans-serif;font-size:31.111px;font-style:oblique">x</text>
</g>
<g transform="translate(913 259)">
<text xml:space="preserve" x="1" y="26" style="font-family:'DejaVu Sans','Liberation Sans',sans-serif;font-size:44.444px;font-style:oblique">n</text>
<text xml:space="preserve" x="29" y="33" style="font-family:'DejaVu Sans','Liberation Sans',sans-serif;font-size:31.111px;font-style:oblique">e</text>
</g>
<g transform="translate(913 316)">
<text xml:space="preserve" x="1" y="34" style="font-family:'DejaVu Sans','Liberation Sans',sans-serif;font-size:44.444px;font-style:oblique">Z</text>
<text xml:space="preserve" x="32" y="41" style="font-family:'DejaVu Sans','Liberation Sans',sans-serif;font-size:31.111px;font-style:oblique">i</text>
<text xml:space="preserve" x="42" y="34" style="font-family:'DejaVu Sans','Liberation Sans',sans-serif;font-size:44.444px;font-style:oblique">n</text>
<text xml:space="preserve" x="70" y="41" style="font-family:'DejaVu Sans','Liberation Sans',sans-serif;font-size:31.111px;font-style:oblique">i</text>
</g>
<g transform="translate(1694 1051)">
<text xml:space="preserve" x="-2 25.25 39.38" y="34" style="font-family:'DejaVu Sans','Liberation Sans',sans-serif;font-size:44.444px">0.0</text>
</g>
<g transform="translate(1694 866)">
<text xml:space="preserve" x="-2 25.25 39.38" y="34" style="font-family:'DejaVu Sans','Liberation Sans',sans-serif;font-size:44.444px">0.2</text>
</g>
<g transform="translate(1694 681)">
<text xml:space="preserve" x="-2 25.25 39.38" y="34" style="font-family:'DejaVu Sans','Liberation Sans',sans-serif;font-size:44.444px">0.4</text>
</g>
<g transform="translate(1694 496)">
<text xml:space="preserve" x="-2 25.25 39.38" y="34" style="font-family:'DejaVu Sans','Liberation Sans',sans-serif;font-size:44.444px">0.6</text>
</g>
<g transform="translate(1694 311)">
<text xml:space="preserve" x="-2 25.25 39.38" y="34" style="font-family:'DejaVu Sans','Liberation Sans',sans-serif;font-size:44.444px">0.8</text>
</g>
<g transform="translate(1696 127)">
<text xml:space="preserve" x="-4 23.25 37.38" y="34" style="font-family:'DejaVu Sans','Liberation Sans',sans-serif;font-size:44.444px">1.0</text>
</g>
<g transform="translate(1770 818) rotate(-90)">
<text xml:space="preserve" x="1 29" y="35" style="font-family:'DejaVu Sans','Liberation Sans',sans-serif;font-size:44.444px;font-style:oblique">dN</text>
<text xml:space="preserve" x="62 77" y="35" style="font-family:'DejaVu Sans','Liberation Sans',sans-serif;font-size:44.444px">/(</text>
<text xml:space="preserve" x="94 123 149 177" y="35" style="font-family:'DejaVu Sans','Liberation Sans',sans-serif;font-size:44.444px;font-style:oblique">dxdp</text>
<text xml:space="preserve" x="205" y="42" style="font-family:'DejaVu Sans','Liberation Sans',sans-serif;font-size:31.111px;font-style:oblique">x</text>
<text xml:space="preserve" x="225" y="35" style="font-family:'DejaVu Sans','Liberation Sans',sans-serif;font-size:44.444px">)</text>
<text xml:space="preserve" x="242 269 296 323 350 376 403" y="35" style="font-family:'DejaVu Sans Mono','Liberation Mono',monospace;font-size:44.444px"> [A.U.]</text>
</g>
</g>
</svg>
</body></html>
